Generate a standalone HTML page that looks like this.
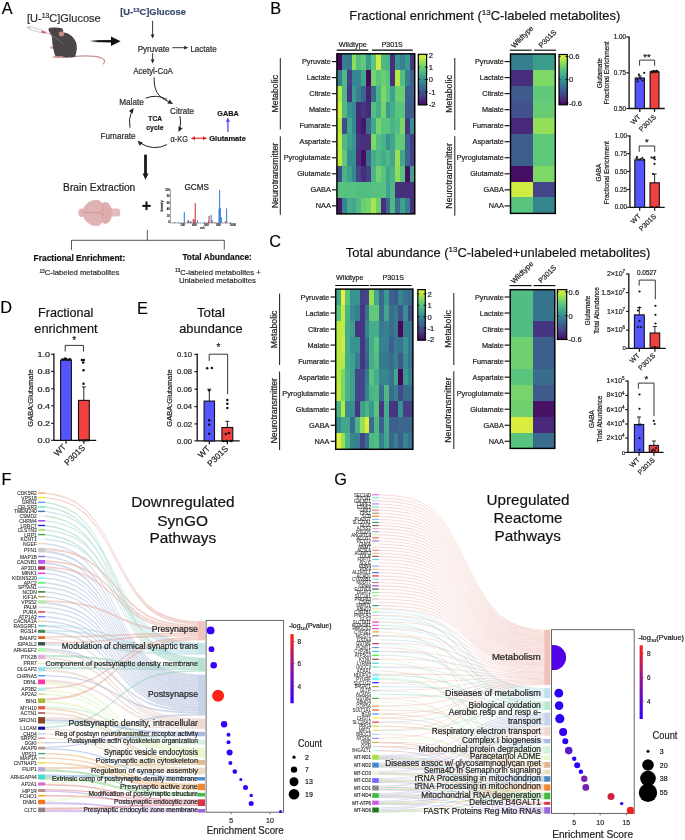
<!DOCTYPE html>
<html><head><meta charset="utf-8"><style>
html,body{margin:0;padding:0;background:#fff;}
svg{display:block;font-family:"Liberation Sans",sans-serif;will-change:transform;}
svg text{stroke:#222;stroke-width:0.2px;}
</style></head><body>
<svg width="685" height="840" viewBox="0 0 685 840">
<rect width="685" height="840" fill="#fff"/>
<text x="270.30" y="14.00" font-size="16.3" text-anchor="start" fill="#000" font-weight="normal" >B</text>
<text x="349.3" y="20.0" font-size="12.9" fill="#111" text-anchor="start" textLength="271.0" lengthAdjust="spacingAndGlyphs">Fractional enrichment (<tspan font-size="8.0" dy="-4.9">13</tspan><tspan dy="4.9">C-labeled metabolites)</tspan></text>
<rect x="336.90" y="53.80" width="5.17" height="16.31" fill="#46085c" shape-rendering="crispEdges"/>
<rect x="341.77" y="53.80" width="5.17" height="16.31" fill="#36808f" shape-rendering="crispEdges"/>
<rect x="346.63" y="53.80" width="5.17" height="16.31" fill="#367a8f" shape-rendering="crispEdges"/>
<rect x="351.50" y="53.80" width="5.17" height="16.31" fill="#8cdc5e" shape-rendering="crispEdges"/>
<rect x="356.36" y="53.80" width="5.17" height="16.31" fill="#53be81" shape-rendering="crispEdges"/>
<rect x="361.23" y="53.80" width="5.17" height="16.31" fill="#62c978" shape-rendering="crispEdges"/>
<rect x="366.09" y="53.80" width="5.17" height="16.31" fill="#3b9a8e" shape-rendering="crispEdges"/>
<rect x="370.96" y="53.80" width="5.17" height="16.31" fill="#58c47e" shape-rendering="crispEdges"/>
<rect x="375.82" y="53.80" width="5.17" height="16.31" fill="#cfec40" shape-rendering="crispEdges"/>
<rect x="380.69" y="53.80" width="5.17" height="16.31" fill="#4fb884" shape-rendering="crispEdges"/>
<rect x="385.56" y="53.80" width="5.17" height="16.31" fill="#4ab388" shape-rendering="crispEdges"/>
<rect x="390.42" y="53.80" width="5.17" height="16.31" fill="#472f7c" shape-rendering="crispEdges"/>
<rect x="395.29" y="53.80" width="5.17" height="16.31" fill="#37938f" shape-rendering="crispEdges"/>
<rect x="400.15" y="53.80" width="5.17" height="16.31" fill="#36808f" shape-rendering="crispEdges"/>
<rect x="405.02" y="53.80" width="5.17" height="16.31" fill="#3b9a8e" shape-rendering="crispEdges"/>
<rect x="409.88" y="53.80" width="5.17" height="16.31" fill="#463681" shape-rendering="crispEdges"/>
<rect x="336.90" y="69.81" width="5.17" height="16.31" fill="#36808f" shape-rendering="crispEdges"/>
<rect x="341.77" y="69.81" width="5.17" height="16.31" fill="#4fb884" shape-rendering="crispEdges"/>
<rect x="346.63" y="69.81" width="5.17" height="16.31" fill="#463e86" shape-rendering="crispEdges"/>
<rect x="351.50" y="69.81" width="5.17" height="16.31" fill="#36868f" shape-rendering="crispEdges"/>
<rect x="356.36" y="69.81" width="5.17" height="16.31" fill="#36868f" shape-rendering="crispEdges"/>
<rect x="361.23" y="69.81" width="5.17" height="16.31" fill="#42a68c" shape-rendering="crispEdges"/>
<rect x="366.09" y="69.81" width="5.17" height="16.31" fill="#46085c" shape-rendering="crispEdges"/>
<rect x="370.96" y="69.81" width="5.17" height="16.31" fill="#74d36c" shape-rendering="crispEdges"/>
<rect x="375.82" y="69.81" width="5.17" height="16.31" fill="#58c47e" shape-rendering="crispEdges"/>
<rect x="380.69" y="69.81" width="5.17" height="16.31" fill="#6bce72" shape-rendering="crispEdges"/>
<rect x="385.56" y="69.81" width="5.17" height="16.31" fill="#58c47e" shape-rendering="crispEdges"/>
<rect x="390.42" y="69.81" width="5.17" height="16.31" fill="#472f7c" shape-rendering="crispEdges"/>
<rect x="395.29" y="69.81" width="5.17" height="16.31" fill="#b5e945" shape-rendering="crispEdges"/>
<rect x="400.15" y="69.81" width="5.17" height="16.31" fill="#53be81" shape-rendering="crispEdges"/>
<rect x="405.02" y="69.81" width="5.17" height="16.31" fill="#36808f" shape-rendering="crispEdges"/>
<rect x="409.88" y="69.81" width="5.17" height="16.31" fill="#3d5f8e" shape-rendering="crispEdges"/>
<rect x="336.90" y="85.82" width="5.17" height="16.31" fill="#b5e945" shape-rendering="crispEdges"/>
<rect x="341.77" y="85.82" width="5.17" height="16.31" fill="#4fb884" shape-rendering="crispEdges"/>
<rect x="346.63" y="85.82" width="5.17" height="16.31" fill="#463681" shape-rendering="crispEdges"/>
<rect x="351.50" y="85.82" width="5.17" height="16.31" fill="#3b9a8e" shape-rendering="crispEdges"/>
<rect x="356.36" y="85.82" width="5.17" height="16.31" fill="#36808f" shape-rendering="crispEdges"/>
<rect x="361.23" y="85.82" width="5.17" height="16.31" fill="#3b668e" shape-rendering="crispEdges"/>
<rect x="366.09" y="85.82" width="5.17" height="16.31" fill="#482071" shape-rendering="crispEdges"/>
<rect x="370.96" y="85.82" width="5.17" height="16.31" fill="#3a6c8e" shape-rendering="crispEdges"/>
<rect x="375.82" y="85.82" width="5.17" height="16.31" fill="#4ab388" shape-rendering="crispEdges"/>
<rect x="380.69" y="85.82" width="5.17" height="16.31" fill="#7ed866" shape-rendering="crispEdges"/>
<rect x="385.56" y="85.82" width="5.17" height="16.31" fill="#58c47e" shape-rendering="crispEdges"/>
<rect x="390.42" y="85.82" width="5.17" height="16.31" fill="#3ea08d" shape-rendering="crispEdges"/>
<rect x="395.29" y="85.82" width="5.17" height="16.31" fill="#6bce72" shape-rendering="crispEdges"/>
<rect x="400.15" y="85.82" width="5.17" height="16.31" fill="#6bce72" shape-rendering="crispEdges"/>
<rect x="405.02" y="85.82" width="5.17" height="16.31" fill="#3d5f8e" shape-rendering="crispEdges"/>
<rect x="409.88" y="85.82" width="5.17" height="16.31" fill="#3d5f8e" shape-rendering="crispEdges"/>
<rect x="336.90" y="101.83" width="5.17" height="16.31" fill="#cfec40" shape-rendering="crispEdges"/>
<rect x="341.77" y="101.83" width="5.17" height="16.31" fill="#4fb884" shape-rendering="crispEdges"/>
<rect x="346.63" y="101.83" width="5.17" height="16.31" fill="#37938f" shape-rendering="crispEdges"/>
<rect x="351.50" y="101.83" width="5.17" height="16.31" fill="#36868f" shape-rendering="crispEdges"/>
<rect x="356.36" y="101.83" width="5.17" height="16.31" fill="#482878" shape-rendering="crispEdges"/>
<rect x="361.23" y="101.83" width="5.17" height="16.31" fill="#463681" shape-rendering="crispEdges"/>
<rect x="366.09" y="101.83" width="5.17" height="16.31" fill="#482878" shape-rendering="crispEdges"/>
<rect x="370.96" y="101.83" width="5.17" height="16.31" fill="#53be81" shape-rendering="crispEdges"/>
<rect x="375.82" y="101.83" width="5.17" height="16.31" fill="#45ad8b" shape-rendering="crispEdges"/>
<rect x="380.69" y="101.83" width="5.17" height="16.31" fill="#74d36c" shape-rendering="crispEdges"/>
<rect x="385.56" y="101.83" width="5.17" height="16.31" fill="#3b9a8e" shape-rendering="crispEdges"/>
<rect x="390.42" y="101.83" width="5.17" height="16.31" fill="#45ad8b" shape-rendering="crispEdges"/>
<rect x="395.29" y="101.83" width="5.17" height="16.31" fill="#58c47e" shape-rendering="crispEdges"/>
<rect x="400.15" y="101.83" width="5.17" height="16.31" fill="#58c47e" shape-rendering="crispEdges"/>
<rect x="405.02" y="101.83" width="5.17" height="16.31" fill="#3f588d" shape-rendering="crispEdges"/>
<rect x="409.88" y="101.83" width="5.17" height="16.31" fill="#3f588d" shape-rendering="crispEdges"/>
<rect x="336.90" y="117.84" width="5.17" height="16.31" fill="#b5e945" shape-rendering="crispEdges"/>
<rect x="341.77" y="117.84" width="5.17" height="16.31" fill="#434c8b" shape-rendering="crispEdges"/>
<rect x="346.63" y="117.84" width="5.17" height="16.31" fill="#42a68c" shape-rendering="crispEdges"/>
<rect x="351.50" y="117.84" width="5.17" height="16.31" fill="#36868f" shape-rendering="crispEdges"/>
<rect x="356.36" y="117.84" width="5.17" height="16.31" fill="#482878" shape-rendering="crispEdges"/>
<rect x="361.23" y="117.84" width="5.17" height="16.31" fill="#47186a" shape-rendering="crispEdges"/>
<rect x="366.09" y="117.84" width="5.17" height="16.31" fill="#3a6c8e" shape-rendering="crispEdges"/>
<rect x="370.96" y="117.84" width="5.17" height="16.31" fill="#42a68c" shape-rendering="crispEdges"/>
<rect x="375.82" y="117.84" width="5.17" height="16.31" fill="#74d36c" shape-rendering="crispEdges"/>
<rect x="380.69" y="117.84" width="5.17" height="16.31" fill="#58c47e" shape-rendering="crispEdges"/>
<rect x="385.56" y="117.84" width="5.17" height="16.31" fill="#58c47e" shape-rendering="crispEdges"/>
<rect x="390.42" y="117.84" width="5.17" height="16.31" fill="#4ab388" shape-rendering="crispEdges"/>
<rect x="395.29" y="117.84" width="5.17" height="16.31" fill="#53be81" shape-rendering="crispEdges"/>
<rect x="400.15" y="117.84" width="5.17" height="16.31" fill="#7ed866" shape-rendering="crispEdges"/>
<rect x="405.02" y="117.84" width="5.17" height="16.31" fill="#463681" shape-rendering="crispEdges"/>
<rect x="409.88" y="117.84" width="5.17" height="16.31" fill="#378d8f" shape-rendering="crispEdges"/>
<rect x="336.90" y="133.85" width="5.17" height="16.31" fill="#c2ea43" shape-rendering="crispEdges"/>
<rect x="341.77" y="133.85" width="5.17" height="16.31" fill="#4fb884" shape-rendering="crispEdges"/>
<rect x="346.63" y="133.85" width="5.17" height="16.31" fill="#3ea08d" shape-rendering="crispEdges"/>
<rect x="351.50" y="133.85" width="5.17" height="16.31" fill="#37938f" shape-rendering="crispEdges"/>
<rect x="356.36" y="133.85" width="5.17" height="16.31" fill="#463681" shape-rendering="crispEdges"/>
<rect x="361.23" y="133.85" width="5.17" height="16.31" fill="#472f7c" shape-rendering="crispEdges"/>
<rect x="366.09" y="133.85" width="5.17" height="16.31" fill="#472f7c" shape-rendering="crispEdges"/>
<rect x="370.96" y="133.85" width="5.17" height="16.31" fill="#7ed866" shape-rendering="crispEdges"/>
<rect x="375.82" y="133.85" width="5.17" height="16.31" fill="#53be81" shape-rendering="crispEdges"/>
<rect x="380.69" y="133.85" width="5.17" height="16.31" fill="#4ab388" shape-rendering="crispEdges"/>
<rect x="385.56" y="133.85" width="5.17" height="16.31" fill="#37938f" shape-rendering="crispEdges"/>
<rect x="390.42" y="133.85" width="5.17" height="16.31" fill="#42a68c" shape-rendering="crispEdges"/>
<rect x="395.29" y="133.85" width="5.17" height="16.31" fill="#62c978" shape-rendering="crispEdges"/>
<rect x="400.15" y="133.85" width="5.17" height="16.31" fill="#62c978" shape-rendering="crispEdges"/>
<rect x="405.02" y="133.85" width="5.17" height="16.31" fill="#3d5f8e" shape-rendering="crispEdges"/>
<rect x="409.88" y="133.85" width="5.17" height="16.31" fill="#463e86" shape-rendering="crispEdges"/>
<rect x="336.90" y="149.86" width="5.17" height="16.31" fill="#c2ea43" shape-rendering="crispEdges"/>
<rect x="341.77" y="149.86" width="5.17" height="16.31" fill="#62c978" shape-rendering="crispEdges"/>
<rect x="346.63" y="149.86" width="5.17" height="16.31" fill="#378d8f" shape-rendering="crispEdges"/>
<rect x="351.50" y="149.86" width="5.17" height="16.31" fill="#378d8f" shape-rendering="crispEdges"/>
<rect x="356.36" y="149.86" width="5.17" height="16.31" fill="#472f7c" shape-rendering="crispEdges"/>
<rect x="361.23" y="149.86" width="5.17" height="16.31" fill="#461063" shape-rendering="crispEdges"/>
<rect x="366.09" y="149.86" width="5.17" height="16.31" fill="#3a6c8e" shape-rendering="crispEdges"/>
<rect x="370.96" y="149.86" width="5.17" height="16.31" fill="#45ad8b" shape-rendering="crispEdges"/>
<rect x="375.82" y="149.86" width="5.17" height="16.31" fill="#4fb884" shape-rendering="crispEdges"/>
<rect x="380.69" y="149.86" width="5.17" height="16.31" fill="#45ad8b" shape-rendering="crispEdges"/>
<rect x="385.56" y="149.86" width="5.17" height="16.31" fill="#4fb884" shape-rendering="crispEdges"/>
<rect x="390.42" y="149.86" width="5.17" height="16.31" fill="#42a68c" shape-rendering="crispEdges"/>
<rect x="395.29" y="149.86" width="5.17" height="16.31" fill="#99e056" shape-rendering="crispEdges"/>
<rect x="400.15" y="149.86" width="5.17" height="16.31" fill="#42a68c" shape-rendering="crispEdges"/>
<rect x="405.02" y="149.86" width="5.17" height="16.31" fill="#3b668e" shape-rendering="crispEdges"/>
<rect x="409.88" y="149.86" width="5.17" height="16.31" fill="#463e86" shape-rendering="crispEdges"/>
<rect x="336.90" y="165.87" width="5.17" height="16.31" fill="#434c8b" shape-rendering="crispEdges"/>
<rect x="341.77" y="165.87" width="5.17" height="16.31" fill="#4ab388" shape-rendering="crispEdges"/>
<rect x="346.63" y="165.87" width="5.17" height="16.31" fill="#3ea08d" shape-rendering="crispEdges"/>
<rect x="351.50" y="165.87" width="5.17" height="16.31" fill="#36868f" shape-rendering="crispEdges"/>
<rect x="356.36" y="165.87" width="5.17" height="16.31" fill="#45458a" shape-rendering="crispEdges"/>
<rect x="361.23" y="165.87" width="5.17" height="16.31" fill="#472f7c" shape-rendering="crispEdges"/>
<rect x="366.09" y="165.87" width="5.17" height="16.31" fill="#463e86" shape-rendering="crispEdges"/>
<rect x="370.96" y="165.87" width="5.17" height="16.31" fill="#4ab388" shape-rendering="crispEdges"/>
<rect x="375.82" y="165.87" width="5.17" height="16.31" fill="#74d36c" shape-rendering="crispEdges"/>
<rect x="380.69" y="165.87" width="5.17" height="16.31" fill="#58c47e" shape-rendering="crispEdges"/>
<rect x="385.56" y="165.87" width="5.17" height="16.31" fill="#42a68c" shape-rendering="crispEdges"/>
<rect x="390.42" y="165.87" width="5.17" height="16.31" fill="#4ab388" shape-rendering="crispEdges"/>
<rect x="395.29" y="165.87" width="5.17" height="16.31" fill="#8cdc5e" shape-rendering="crispEdges"/>
<rect x="400.15" y="165.87" width="5.17" height="16.31" fill="#58c47e" shape-rendering="crispEdges"/>
<rect x="405.02" y="165.87" width="5.17" height="16.31" fill="#461063" shape-rendering="crispEdges"/>
<rect x="409.88" y="165.87" width="5.17" height="16.31" fill="#3ea08d" shape-rendering="crispEdges"/>
<rect x="336.90" y="181.88" width="5.17" height="16.31" fill="#56c180" shape-rendering="crispEdges"/>
<rect x="341.77" y="181.88" width="5.17" height="16.31" fill="#56c180" shape-rendering="crispEdges"/>
<rect x="346.63" y="181.88" width="5.17" height="16.31" fill="#56c180" shape-rendering="crispEdges"/>
<rect x="351.50" y="181.88" width="5.17" height="16.31" fill="#56c180" shape-rendering="crispEdges"/>
<rect x="356.36" y="181.88" width="5.17" height="16.31" fill="#53be81" shape-rendering="crispEdges"/>
<rect x="361.23" y="181.88" width="5.17" height="16.31" fill="#53be81" shape-rendering="crispEdges"/>
<rect x="366.09" y="181.88" width="5.17" height="16.31" fill="#53be81" shape-rendering="crispEdges"/>
<rect x="370.96" y="181.88" width="5.17" height="16.31" fill="#56c180" shape-rendering="crispEdges"/>
<rect x="375.82" y="181.88" width="5.17" height="16.31" fill="#56c180" shape-rendering="crispEdges"/>
<rect x="380.69" y="181.88" width="5.17" height="16.31" fill="#56c180" shape-rendering="crispEdges"/>
<rect x="385.56" y="181.88" width="5.17" height="16.31" fill="#3ea08d" shape-rendering="crispEdges"/>
<rect x="390.42" y="181.88" width="5.17" height="16.31" fill="#4fb884" shape-rendering="crispEdges"/>
<rect x="395.29" y="181.88" width="5.17" height="16.31" fill="#472f7c" shape-rendering="crispEdges"/>
<rect x="400.15" y="181.88" width="5.17" height="16.31" fill="#472f7c" shape-rendering="crispEdges"/>
<rect x="405.02" y="181.88" width="5.17" height="16.31" fill="#472f7c" shape-rendering="crispEdges"/>
<rect x="409.88" y="181.88" width="5.17" height="16.31" fill="#472f7c" shape-rendering="crispEdges"/>
<rect x="336.90" y="197.89" width="5.17" height="16.31" fill="#47186a" shape-rendering="crispEdges"/>
<rect x="341.77" y="197.89" width="5.17" height="16.31" fill="#36868f" shape-rendering="crispEdges"/>
<rect x="346.63" y="197.89" width="5.17" height="16.31" fill="#45ad8b" shape-rendering="crispEdges"/>
<rect x="351.50" y="197.89" width="5.17" height="16.31" fill="#42a68c" shape-rendering="crispEdges"/>
<rect x="356.36" y="197.89" width="5.17" height="16.31" fill="#4fb884" shape-rendering="crispEdges"/>
<rect x="361.23" y="197.89" width="5.17" height="16.31" fill="#6bce72" shape-rendering="crispEdges"/>
<rect x="366.09" y="197.89" width="5.17" height="16.31" fill="#74d36c" shape-rendering="crispEdges"/>
<rect x="370.96" y="197.89" width="5.17" height="16.31" fill="#a7e54d" shape-rendering="crispEdges"/>
<rect x="375.82" y="197.89" width="5.17" height="16.31" fill="#6bce72" shape-rendering="crispEdges"/>
<rect x="380.69" y="197.89" width="5.17" height="16.31" fill="#472f7c" shape-rendering="crispEdges"/>
<rect x="385.56" y="197.89" width="5.17" height="16.31" fill="#3b668e" shape-rendering="crispEdges"/>
<rect x="390.42" y="197.89" width="5.17" height="16.31" fill="#4fb884" shape-rendering="crispEdges"/>
<rect x="395.29" y="197.89" width="5.17" height="16.31" fill="#3a6c8e" shape-rendering="crispEdges"/>
<rect x="400.15" y="197.89" width="5.17" height="16.31" fill="#3ea08d" shape-rendering="crispEdges"/>
<rect x="405.02" y="197.89" width="5.17" height="16.31" fill="#36808f" shape-rendering="crispEdges"/>
<rect x="409.88" y="197.89" width="5.17" height="16.31" fill="#472f7c" shape-rendering="crispEdges"/>
<rect x="336.90" y="53.80" width="77.85" height="160.10" fill="none" stroke="#000" stroke-width="1.45"/>
<text x="330.80" y="64.20" font-size="7.3" text-anchor="end" fill="#222" font-weight="normal" >Pyruvate</text>
<line x1="332.0" y1="61.60" x2="336.6" y2="61.60" stroke="#000" stroke-width="1.1"/>
<text x="330.80" y="80.23" font-size="7.3" text-anchor="end" fill="#222" font-weight="normal" >Lactate</text>
<line x1="332.0" y1="77.63" x2="336.6" y2="77.63" stroke="#000" stroke-width="1.1"/>
<text x="330.80" y="96.26" font-size="7.3" text-anchor="end" fill="#222" font-weight="normal" >Citrate</text>
<line x1="332.0" y1="93.66" x2="336.6" y2="93.66" stroke="#000" stroke-width="1.1"/>
<text x="330.80" y="112.29" font-size="7.3" text-anchor="end" fill="#222" font-weight="normal" >Malate</text>
<line x1="332.0" y1="109.69" x2="336.6" y2="109.69" stroke="#000" stroke-width="1.1"/>
<text x="330.80" y="128.32" font-size="7.3" text-anchor="end" fill="#222" font-weight="normal" >Fumarate</text>
<line x1="332.0" y1="125.72" x2="336.6" y2="125.72" stroke="#000" stroke-width="1.1"/>
<text x="330.80" y="144.35" font-size="7.3" text-anchor="end" fill="#222" font-weight="normal" >Aspartate</text>
<line x1="332.0" y1="141.75" x2="336.6" y2="141.75" stroke="#000" stroke-width="1.1"/>
<text x="330.80" y="160.38" font-size="7.3" text-anchor="end" fill="#222" font-weight="normal" >Pyroglutamate</text>
<line x1="332.0" y1="157.78" x2="336.6" y2="157.78" stroke="#000" stroke-width="1.1"/>
<text x="330.80" y="176.41" font-size="7.3" text-anchor="end" fill="#222" font-weight="normal" >Glutamate</text>
<line x1="332.0" y1="173.81" x2="336.6" y2="173.81" stroke="#000" stroke-width="1.1"/>
<text x="330.80" y="192.44" font-size="7.3" text-anchor="end" fill="#222" font-weight="normal" >GABA</text>
<line x1="332.0" y1="189.84" x2="336.6" y2="189.84" stroke="#000" stroke-width="1.1"/>
<text x="330.80" y="208.47" font-size="7.3" text-anchor="end" fill="#222" font-weight="normal" >NAA</text>
<line x1="332.0" y1="205.87" x2="336.6" y2="205.87" stroke="#000" stroke-width="1.1"/>
<line x1="280.3" y1="58.1" x2="280.3" y2="129.4" stroke="#000" stroke-width="0.9"/>
<line x1="280.3" y1="136.3" x2="280.3" y2="214.8" stroke="#000" stroke-width="0.9"/>
<text transform="translate(277.8,93.75) rotate(-90)" font-size="8.8" text-anchor="middle" fill="#222">Metabolic</text>
<text transform="translate(277.8,175.55) rotate(-90)" font-size="8.8" text-anchor="middle" fill="#222">Neurotransmitter</text>
<text x="338.80" y="46.60" font-size="7.3" text-anchor="start" fill="#222" font-weight="normal" textLength="28.0" lengthAdjust="spacingAndGlyphs" >Wildtype</text>
<text x="381.70" y="46.60" font-size="7.3" text-anchor="start" fill="#222" font-weight="normal" textLength="21.0" lengthAdjust="spacingAndGlyphs" >P301S</text>
<line x1="336.7" y1="50.1" x2="368.2" y2="50.1" stroke="#000" stroke-width="1.1"/>
<line x1="372" y1="50.1" x2="412.7" y2="50.1" stroke="#000" stroke-width="1.1"/>
<defs><linearGradient id="cb41854" x1="0" y1="1" x2="0" y2="0"><stop offset="0" stop-color="#46085c"/><stop offset="0.1" stop-color="#482878"/><stop offset="0.2" stop-color="#45458a"/><stop offset="0.3" stop-color="#3d5f8e"/><stop offset="0.4" stop-color="#367a8f"/><stop offset="0.5" stop-color="#37938f"/><stop offset="0.6" stop-color="#45ad8b"/><stop offset="0.7" stop-color="#58c47e"/><stop offset="0.8" stop-color="#7ed866"/><stop offset="0.9" stop-color="#b5e945"/><stop offset="1" stop-color="#eaef3c"/></linearGradient></defs>
<rect x="418.3" y="54.3" width="8.300000000000011" height="50.60000000000001" fill="url(#cb41854)" stroke="#000" stroke-width="1.2"/>
<line x1="424.8" y1="54.7" x2="427.8" y2="54.7" stroke="#000" stroke-width="0.9"/>
<line x1="418.3" y1="54.7" x2="419.8" y2="54.7" stroke="#000" stroke-width="0.9"/>
<text x="428.80" y="57.50" font-size="7.6" text-anchor="start" fill="#222" font-weight="normal" >2</text>
<line x1="424.8" y1="67.1" x2="427.8" y2="67.1" stroke="#000" stroke-width="0.9"/>
<line x1="418.3" y1="67.1" x2="419.8" y2="67.1" stroke="#000" stroke-width="0.9"/>
<text x="428.80" y="69.90" font-size="7.6" text-anchor="start" fill="#222" font-weight="normal" >1</text>
<line x1="424.8" y1="79.5" x2="427.8" y2="79.5" stroke="#000" stroke-width="0.9"/>
<line x1="418.3" y1="79.5" x2="419.8" y2="79.5" stroke="#000" stroke-width="0.9"/>
<text x="428.80" y="82.30" font-size="7.6" text-anchor="start" fill="#222" font-weight="normal" >0</text>
<line x1="424.8" y1="91.9" x2="427.8" y2="91.9" stroke="#000" stroke-width="0.9"/>
<line x1="418.3" y1="91.9" x2="419.8" y2="91.9" stroke="#000" stroke-width="0.9"/>
<text x="428.80" y="94.70" font-size="7.6" text-anchor="start" fill="#222" font-weight="normal" >-1</text>
<line x1="424.8" y1="104.3" x2="427.8" y2="104.3" stroke="#000" stroke-width="0.9"/>
<line x1="418.3" y1="104.3" x2="419.8" y2="104.3" stroke="#000" stroke-width="0.9"/>
<text x="428.80" y="107.10" font-size="7.6" text-anchor="start" fill="#222" font-weight="normal" >-2</text>
<rect x="510.50" y="54.00" width="22.70" height="16.24" fill="#367f8f" shape-rendering="crispEdges"/>
<rect x="532.90" y="54.00" width="22.70" height="16.24" fill="#3d9d8d" shape-rendering="crispEdges"/>
<rect x="510.50" y="69.94" width="22.70" height="16.24" fill="#472e7c" shape-rendering="crispEdges"/>
<rect x="532.90" y="69.94" width="22.70" height="16.24" fill="#7ed866" shape-rendering="crispEdges"/>
<rect x="510.50" y="85.88" width="22.70" height="16.24" fill="#3f5a8d" shape-rendering="crispEdges"/>
<rect x="532.90" y="85.88" width="22.70" height="16.24" fill="#60c879" shape-rendering="crispEdges"/>
<rect x="510.50" y="101.82" width="22.70" height="16.24" fill="#41528c" shape-rendering="crispEdges"/>
<rect x="532.90" y="101.82" width="22.70" height="16.24" fill="#67cc74" shape-rendering="crispEdges"/>
<rect x="510.50" y="117.76" width="22.70" height="16.24" fill="#482878" shape-rendering="crispEdges"/>
<rect x="532.90" y="117.76" width="22.70" height="16.24" fill="#94df59" shape-rendering="crispEdges"/>
<rect x="510.50" y="133.70" width="22.70" height="16.24" fill="#3d5f8e" shape-rendering="crispEdges"/>
<rect x="532.90" y="133.70" width="22.70" height="16.24" fill="#60c879" shape-rendering="crispEdges"/>
<rect x="510.50" y="149.64" width="22.70" height="16.24" fill="#3d5f8e" shape-rendering="crispEdges"/>
<rect x="532.90" y="149.64" width="22.70" height="16.24" fill="#60c879" shape-rendering="crispEdges"/>
<rect x="510.50" y="165.58" width="22.70" height="16.24" fill="#460e62" shape-rendering="crispEdges"/>
<rect x="532.90" y="165.58" width="22.70" height="16.24" fill="#7ed866" shape-rendering="crispEdges"/>
<rect x="510.50" y="181.52" width="22.70" height="16.24" fill="#cfec40" shape-rendering="crispEdges"/>
<rect x="532.90" y="181.52" width="22.70" height="16.24" fill="#45458a" shape-rendering="crispEdges"/>
<rect x="510.50" y="197.46" width="22.70" height="16.24" fill="#58c47e" shape-rendering="crispEdges"/>
<rect x="532.90" y="197.46" width="22.70" height="16.24" fill="#36868f" shape-rendering="crispEdges"/>
<rect x="510.50" y="54.00" width="44.80" height="159.40" fill="none" stroke="#000" stroke-width="1.45"/>
<text x="503.80" y="64.20" font-size="7.3" text-anchor="end" fill="#222" font-weight="normal" >Pyruvate</text>
<line x1="504.6" y1="61.60" x2="509.8" y2="61.60" stroke="#000" stroke-width="1.1"/>
<text x="503.80" y="80.23" font-size="7.3" text-anchor="end" fill="#222" font-weight="normal" >Lactate</text>
<line x1="504.6" y1="77.63" x2="509.8" y2="77.63" stroke="#000" stroke-width="1.1"/>
<text x="503.80" y="96.26" font-size="7.3" text-anchor="end" fill="#222" font-weight="normal" >Citrate</text>
<line x1="504.6" y1="93.66" x2="509.8" y2="93.66" stroke="#000" stroke-width="1.1"/>
<text x="503.80" y="112.29" font-size="7.3" text-anchor="end" fill="#222" font-weight="normal" >Malate</text>
<line x1="504.6" y1="109.69" x2="509.8" y2="109.69" stroke="#000" stroke-width="1.1"/>
<text x="503.80" y="128.32" font-size="7.3" text-anchor="end" fill="#222" font-weight="normal" >Fumarate</text>
<line x1="504.6" y1="125.72" x2="509.8" y2="125.72" stroke="#000" stroke-width="1.1"/>
<text x="503.80" y="144.35" font-size="7.3" text-anchor="end" fill="#222" font-weight="normal" >Aspartate</text>
<line x1="504.6" y1="141.75" x2="509.8" y2="141.75" stroke="#000" stroke-width="1.1"/>
<text x="503.80" y="160.38" font-size="7.3" text-anchor="end" fill="#222" font-weight="normal" >Pyroglutamate</text>
<line x1="504.6" y1="157.78" x2="509.8" y2="157.78" stroke="#000" stroke-width="1.1"/>
<text x="503.80" y="176.41" font-size="7.3" text-anchor="end" fill="#222" font-weight="normal" >Glutamate</text>
<line x1="504.6" y1="173.81" x2="509.8" y2="173.81" stroke="#000" stroke-width="1.1"/>
<text x="503.80" y="192.44" font-size="7.3" text-anchor="end" fill="#222" font-weight="normal" >GABA</text>
<line x1="504.6" y1="189.84" x2="509.8" y2="189.84" stroke="#000" stroke-width="1.1"/>
<text x="503.80" y="208.47" font-size="7.3" text-anchor="end" fill="#222" font-weight="normal" >NAA</text>
<line x1="504.6" y1="205.87" x2="509.8" y2="205.87" stroke="#000" stroke-width="1.1"/>
<line x1="454.8" y1="58.0" x2="454.8" y2="130.0" stroke="#000" stroke-width="0.9"/>
<line x1="454.8" y1="136.2" x2="454.8" y2="215.7" stroke="#000" stroke-width="0.9"/>
<text transform="translate(451.9,94.0) rotate(-90)" font-size="8.8" text-anchor="middle" fill="#222">Metabolic</text>
<text transform="translate(451.9,175.95) rotate(-90)" font-size="8.8" text-anchor="middle" fill="#222">Neurotransmitter</text>
<text transform="translate(514.2,48.4) rotate(-45)" font-size="7.3" text-anchor="start" fill="#222">Wildtype</text>
<text transform="translate(541.4,48.2) rotate(-45)" font-size="7.3" text-anchor="start" fill="#222">P301S</text>
<line x1="509.8" y1="50.2" x2="531.7" y2="50.2" stroke="#000" stroke-width="1.1"/>
<line x1="534" y1="50.2" x2="556" y2="50.2" stroke="#000" stroke-width="1.1"/>
<defs><linearGradient id="cb55954" x1="0" y1="1" x2="0" y2="0"><stop offset="0" stop-color="#46085c"/><stop offset="0.1" stop-color="#482878"/><stop offset="0.2" stop-color="#45458a"/><stop offset="0.3" stop-color="#3d5f8e"/><stop offset="0.4" stop-color="#367a8f"/><stop offset="0.5" stop-color="#37938f"/><stop offset="0.6" stop-color="#45ad8b"/><stop offset="0.7" stop-color="#58c47e"/><stop offset="0.8" stop-color="#7ed866"/><stop offset="0.9" stop-color="#b5e945"/><stop offset="1" stop-color="#eaef3c"/></linearGradient></defs>
<rect x="559.0" y="54.5" width="8.299999999999955" height="50.3" fill="url(#cb55954)" stroke="#000" stroke-width="1.2"/>
<line x1="565.5" y1="56.5" x2="568.5" y2="56.5" stroke="#000" stroke-width="0.9"/>
<line x1="559.0" y1="56.5" x2="560.5" y2="56.5" stroke="#000" stroke-width="0.9"/>
<text x="568.90" y="59.30" font-size="7.6" text-anchor="start" fill="#222" font-weight="normal" >0.6</text>
<line x1="565.5" y1="79.6" x2="568.5" y2="79.6" stroke="#000" stroke-width="0.9"/>
<line x1="559.0" y1="79.6" x2="560.5" y2="79.6" stroke="#000" stroke-width="0.9"/>
<text x="568.90" y="82.40" font-size="7.6" text-anchor="start" fill="#222" font-weight="normal" >0</text>
<line x1="565.5" y1="102.8" x2="568.5" y2="102.8" stroke="#000" stroke-width="0.9"/>
<line x1="559.0" y1="102.8" x2="560.5" y2="102.8" stroke="#000" stroke-width="0.9"/>
<text x="568.90" y="105.60" font-size="7.6" text-anchor="start" fill="#222" font-weight="normal" >-0.6</text>
<line x1="629.1" y1="36.6" x2="629.1" y2="108.5" stroke="#111" stroke-width="1.3"/>
<line x1="629.1" y1="108.5" x2="664.8" y2="108.5" stroke="#111" stroke-width="1.3"/>
<line x1="626.3000000000001" y1="37.0" x2="629.1" y2="37.0" stroke="#111" stroke-width="1.1"/>
<text x="626.10" y="39.10" font-size="6.3" text-anchor="end" fill="#222" font-weight="normal" >1.00</text>
<line x1="626.3000000000001" y1="72.8" x2="629.1" y2="72.8" stroke="#111" stroke-width="1.1"/>
<text x="626.10" y="74.90" font-size="6.3" text-anchor="end" fill="#222" font-weight="normal" >0.75</text>
<line x1="626.3000000000001" y1="108.5" x2="629.1" y2="108.5" stroke="#111" stroke-width="1.1"/>
<text x="626.10" y="110.60" font-size="6.3" text-anchor="end" fill="#222" font-weight="normal" >0.50</text>
<rect x="635.2" y="78.0" width="9.199999999999932" height="30.5" fill="#5555ff" stroke="#111" stroke-width="1.1"/>
<line x1="639.8" y1="108.5" x2="639.8" y2="111.9" stroke="#111" stroke-width="1.2"/>
<rect x="650.1" y="71.9" width="8.899999999999977" height="36.599999999999994" fill="#f04040" stroke="#111" stroke-width="1.1"/>
<line x1="654.55" y1="108.5" x2="654.55" y2="111.9" stroke="#111" stroke-width="1.2"/>
<line x1="639.8" y1="78" x2="639.8" y2="76.0" stroke="#111" stroke-width="0.9"/>
<line x1="637.8" y1="76.0" x2="641.8" y2="76.0" stroke="#111" stroke-width="0.9"/>
<line x1="654.5" y1="71.9" x2="654.5" y2="70.8" stroke="#111" stroke-width="0.9"/>
<line x1="652.5" y1="70.8" x2="656.5" y2="70.8" stroke="#111" stroke-width="0.9"/>
<circle cx="637.5" cy="79.5" r="1.1" fill="#111"/>
<circle cx="639.0" cy="74.6" r="1.1" fill="#111"/>
<circle cx="644.2" cy="72.8" r="1.1" fill="#111"/>
<circle cx="640.5" cy="78.6" r="1.1" fill="#111"/>
<circle cx="637.8" cy="81.5" r="1.1" fill="#111"/>
<circle cx="642.5" cy="80.5" r="1.1" fill="#111"/>
<circle cx="651.5" cy="71.5" r="1.1" fill="#111"/>
<circle cx="653.5" cy="71.0" r="1.1" fill="#111"/>
<circle cx="655.5" cy="72.0" r="1.1" fill="#111"/>
<circle cx="657.5" cy="71.3" r="1.1" fill="#111"/>
<circle cx="652.5" cy="72.5" r="1.1" fill="#111"/>
<circle cx="656.5" cy="70.8" r="1.1" fill="#111"/>
<path d="M639.6 65.7 L639.6 60.1 L654.6 60.1 L654.6 65.7" fill="none" stroke="#222" stroke-width="0.9"/>
<text x="647.00" y="59.60" font-size="9.5" text-anchor="middle" fill="#111" font-weight="normal" >**</text>
<text transform="translate(601.9,73.2) rotate(-90)" font-size="6.4" text-anchor="middle" fill="#222" textLength="30.3" lengthAdjust="spacingAndGlyphs">Glutamate</text>
<text transform="translate(609.0,72.9) rotate(-90)" font-size="6.3" text-anchor="middle" fill="#222" textLength="63.1" lengthAdjust="spacingAndGlyphs">Fractional  Enrichment</text>
<text transform="translate(641.0,117.3) rotate(-45)" font-size="6.9" text-anchor="end" fill="#222">WT</text>
<text transform="translate(656.4,117.4) rotate(-45)" font-size="6.9" text-anchor="end" fill="#222">P301S</text>
<line x1="629.9" y1="135.6" x2="629.9" y2="207.3" stroke="#111" stroke-width="1.3"/>
<line x1="629.9" y1="207.3" x2="664.7" y2="207.3" stroke="#111" stroke-width="1.3"/>
<line x1="627.1" y1="135.9" x2="629.9" y2="135.9" stroke="#111" stroke-width="1.1"/>
<text x="626.90" y="138.00" font-size="6.3" text-anchor="end" fill="#222" font-weight="normal" >1.00</text>
<line x1="627.1" y1="153.7" x2="629.9" y2="153.7" stroke="#111" stroke-width="1.1"/>
<text x="626.90" y="155.80" font-size="6.3" text-anchor="end" fill="#222" font-weight="normal" >0.75</text>
<line x1="627.1" y1="171.5" x2="629.9" y2="171.5" stroke="#111" stroke-width="1.1"/>
<text x="626.90" y="173.60" font-size="6.3" text-anchor="end" fill="#222" font-weight="normal" >0.50</text>
<line x1="627.1" y1="189.5" x2="629.9" y2="189.5" stroke="#111" stroke-width="1.1"/>
<text x="626.90" y="191.60" font-size="6.3" text-anchor="end" fill="#222" font-weight="normal" >0.25</text>
<line x1="627.1" y1="207.3" x2="629.9" y2="207.3" stroke="#111" stroke-width="1.1"/>
<text x="626.90" y="209.40" font-size="6.3" text-anchor="end" fill="#222" font-weight="normal" >0.00</text>
<rect x="634.8" y="159.9" width="9.800000000000068" height="47.400000000000006" fill="#5555ff" stroke="#111" stroke-width="1.1"/>
<line x1="639.7" y1="207.3" x2="639.7" y2="210.70000000000002" stroke="#111" stroke-width="1.2"/>
<rect x="650.0" y="182.8" width="9.299999999999955" height="24.5" fill="#f04040" stroke="#111" stroke-width="1.1"/>
<line x1="654.65" y1="207.3" x2="654.65" y2="210.70000000000002" stroke="#111" stroke-width="1.2"/>
<line x1="654.6" y1="182.8" x2="654.6" y2="174.0" stroke="#111" stroke-width="0.9"/>
<line x1="652.6" y1="174.0" x2="656.6" y2="174.0" stroke="#111" stroke-width="0.9"/>
<circle cx="636.5" cy="158.5" r="1.1" fill="#111"/>
<circle cx="638.5" cy="159.5" r="1.1" fill="#111"/>
<circle cx="640.5" cy="159.0" r="1.1" fill="#111"/>
<circle cx="642.5" cy="158.0" r="1.1" fill="#111"/>
<circle cx="644.0" cy="159.8" r="1.1" fill="#111"/>
<circle cx="637.0" cy="157.0" r="1.1" fill="#111"/>
<circle cx="651.5" cy="157.5" r="1.1" fill="#111"/>
<circle cx="653.5" cy="158.0" r="1.1" fill="#111"/>
<circle cx="654.5" cy="163.8" r="1.1" fill="#111"/>
<circle cx="654.5" cy="157.0" r="1.1" fill="#111"/>
<circle cx="653.0" cy="174.0" r="1.1" fill="#111"/>
<circle cx="651.8" cy="207.0" r="1.1" fill="#111"/>
<circle cx="656.5" cy="207.0" r="1.1" fill="#111"/>
<circle cx="654.8" cy="159.3" r="1.1" fill="#111"/>
<path d="M639.2 151.9 L639.2 146.0 L654.7 146.0 L654.7 151.9" fill="none" stroke="#222" stroke-width="0.9"/>
<text x="646.90" y="144.60" font-size="9.5" text-anchor="middle" fill="#111" font-weight="normal" >*</text>
<text transform="translate(601.3,172.7) rotate(-90)" font-size="6.4" text-anchor="middle" fill="#222">GABA</text>
<text transform="translate(608.9,172.7) rotate(-90)" font-size="6.3" text-anchor="middle" fill="#222" textLength="63.1" lengthAdjust="spacingAndGlyphs">Fractional Enrichment</text>
<text transform="translate(641.2,216.6) rotate(-45)" font-size="6.9" text-anchor="end" fill="#222">WT</text>
<text transform="translate(656.4,216.8) rotate(-45)" font-size="6.9" text-anchor="end" fill="#222">P301S</text>
<text x="269.30" y="246.60" font-size="16.3" text-anchor="start" fill="#000" font-weight="normal" >C</text>
<text x="345.8" y="256.8" font-size="12.9" fill="#111" text-anchor="start" textLength="304.6" lengthAdjust="spacingAndGlyphs">Total abundance (<tspan font-size="8.0" dy="-4.9">13</tspan><tspan dy="4.9">C-labeled+unlabeled metabolites)</tspan></text>
<rect x="335.70" y="289.10" width="5.12" height="16.32" fill="#42a68c" shape-rendering="crispEdges"/>
<rect x="340.52" y="289.10" width="5.12" height="16.32" fill="#eaef3c" shape-rendering="crispEdges"/>
<rect x="345.35" y="289.10" width="5.12" height="16.32" fill="#58c47e" shape-rendering="crispEdges"/>
<rect x="350.18" y="289.10" width="5.12" height="16.32" fill="#37938f" shape-rendering="crispEdges"/>
<rect x="355.00" y="289.10" width="5.12" height="16.32" fill="#37938f" shape-rendering="crispEdges"/>
<rect x="359.82" y="289.10" width="5.12" height="16.32" fill="#463e86" shape-rendering="crispEdges"/>
<rect x="364.65" y="289.10" width="5.12" height="16.32" fill="#45458a" shape-rendering="crispEdges"/>
<rect x="369.47" y="289.10" width="5.12" height="16.32" fill="#99e056" shape-rendering="crispEdges"/>
<rect x="374.30" y="289.10" width="5.12" height="16.32" fill="#42a68c" shape-rendering="crispEdges"/>
<rect x="379.12" y="289.10" width="5.12" height="16.32" fill="#3b668e" shape-rendering="crispEdges"/>
<rect x="383.95" y="289.10" width="5.12" height="16.32" fill="#3b9a8e" shape-rendering="crispEdges"/>
<rect x="388.77" y="289.10" width="5.12" height="16.32" fill="#3d5f8e" shape-rendering="crispEdges"/>
<rect x="393.60" y="289.10" width="5.12" height="16.32" fill="#3f588d" shape-rendering="crispEdges"/>
<rect x="398.42" y="289.10" width="5.12" height="16.32" fill="#36868f" shape-rendering="crispEdges"/>
<rect x="403.25" y="289.10" width="5.12" height="16.32" fill="#38738f" shape-rendering="crispEdges"/>
<rect x="408.07" y="289.10" width="5.12" height="16.32" fill="#3a6c8e" shape-rendering="crispEdges"/>
<rect x="335.70" y="305.12" width="5.12" height="16.32" fill="#58c47e" shape-rendering="crispEdges"/>
<rect x="340.52" y="305.12" width="5.12" height="16.32" fill="#c2ea43" shape-rendering="crispEdges"/>
<rect x="345.35" y="305.12" width="5.12" height="16.32" fill="#4ab388" shape-rendering="crispEdges"/>
<rect x="350.18" y="305.12" width="5.12" height="16.32" fill="#378d8f" shape-rendering="crispEdges"/>
<rect x="355.00" y="305.12" width="5.12" height="16.32" fill="#36808f" shape-rendering="crispEdges"/>
<rect x="359.82" y="305.12" width="5.12" height="16.32" fill="#463681" shape-rendering="crispEdges"/>
<rect x="364.65" y="305.12" width="5.12" height="16.32" fill="#38738f" shape-rendering="crispEdges"/>
<rect x="369.47" y="305.12" width="5.12" height="16.32" fill="#62c978" shape-rendering="crispEdges"/>
<rect x="374.30" y="305.12" width="5.12" height="16.32" fill="#62c978" shape-rendering="crispEdges"/>
<rect x="379.12" y="305.12" width="5.12" height="16.32" fill="#3a6c8e" shape-rendering="crispEdges"/>
<rect x="383.95" y="305.12" width="5.12" height="16.32" fill="#42a68c" shape-rendering="crispEdges"/>
<rect x="388.77" y="305.12" width="5.12" height="16.32" fill="#3a6c8e" shape-rendering="crispEdges"/>
<rect x="393.60" y="305.12" width="5.12" height="16.32" fill="#367a8f" shape-rendering="crispEdges"/>
<rect x="398.42" y="305.12" width="5.12" height="16.32" fill="#41528c" shape-rendering="crispEdges"/>
<rect x="403.25" y="305.12" width="5.12" height="16.32" fill="#378d8f" shape-rendering="crispEdges"/>
<rect x="408.07" y="305.12" width="5.12" height="16.32" fill="#434c8b" shape-rendering="crispEdges"/>
<rect x="335.70" y="321.14" width="5.12" height="16.32" fill="#b5e945" shape-rendering="crispEdges"/>
<rect x="340.52" y="321.14" width="5.12" height="16.32" fill="#c2ea43" shape-rendering="crispEdges"/>
<rect x="345.35" y="321.14" width="5.12" height="16.32" fill="#45ad8b" shape-rendering="crispEdges"/>
<rect x="350.18" y="321.14" width="5.12" height="16.32" fill="#3ea08d" shape-rendering="crispEdges"/>
<rect x="355.00" y="321.14" width="5.12" height="16.32" fill="#463681" shape-rendering="crispEdges"/>
<rect x="359.82" y="321.14" width="5.12" height="16.32" fill="#463681" shape-rendering="crispEdges"/>
<rect x="364.65" y="321.14" width="5.12" height="16.32" fill="#36868f" shape-rendering="crispEdges"/>
<rect x="369.47" y="321.14" width="5.12" height="16.32" fill="#45ad8b" shape-rendering="crispEdges"/>
<rect x="374.30" y="321.14" width="5.12" height="16.32" fill="#45ad8b" shape-rendering="crispEdges"/>
<rect x="379.12" y="321.14" width="5.12" height="16.32" fill="#367a8f" shape-rendering="crispEdges"/>
<rect x="383.95" y="321.14" width="5.12" height="16.32" fill="#36808f" shape-rendering="crispEdges"/>
<rect x="388.77" y="321.14" width="5.12" height="16.32" fill="#3a6c8e" shape-rendering="crispEdges"/>
<rect x="393.60" y="321.14" width="5.12" height="16.32" fill="#367a8f" shape-rendering="crispEdges"/>
<rect x="398.42" y="321.14" width="5.12" height="16.32" fill="#46085c" shape-rendering="crispEdges"/>
<rect x="403.25" y="321.14" width="5.12" height="16.32" fill="#367a8f" shape-rendering="crispEdges"/>
<rect x="408.07" y="321.14" width="5.12" height="16.32" fill="#367a8f" shape-rendering="crispEdges"/>
<rect x="335.70" y="337.16" width="5.12" height="16.32" fill="#b5e945" shape-rendering="crispEdges"/>
<rect x="340.52" y="337.16" width="5.12" height="16.32" fill="#cfec40" shape-rendering="crispEdges"/>
<rect x="345.35" y="337.16" width="5.12" height="16.32" fill="#45ad8b" shape-rendering="crispEdges"/>
<rect x="350.18" y="337.16" width="5.12" height="16.32" fill="#37938f" shape-rendering="crispEdges"/>
<rect x="355.00" y="337.16" width="5.12" height="16.32" fill="#37938f" shape-rendering="crispEdges"/>
<rect x="359.82" y="337.16" width="5.12" height="16.32" fill="#463681" shape-rendering="crispEdges"/>
<rect x="364.65" y="337.16" width="5.12" height="16.32" fill="#3a6c8e" shape-rendering="crispEdges"/>
<rect x="369.47" y="337.16" width="5.12" height="16.32" fill="#45ad8b" shape-rendering="crispEdges"/>
<rect x="374.30" y="337.16" width="5.12" height="16.32" fill="#58c47e" shape-rendering="crispEdges"/>
<rect x="379.12" y="337.16" width="5.12" height="16.32" fill="#36808f" shape-rendering="crispEdges"/>
<rect x="383.95" y="337.16" width="5.12" height="16.32" fill="#36808f" shape-rendering="crispEdges"/>
<rect x="388.77" y="337.16" width="5.12" height="16.32" fill="#3d5f8e" shape-rendering="crispEdges"/>
<rect x="393.60" y="337.16" width="5.12" height="16.32" fill="#367a8f" shape-rendering="crispEdges"/>
<rect x="398.42" y="337.16" width="5.12" height="16.32" fill="#38738f" shape-rendering="crispEdges"/>
<rect x="403.25" y="337.16" width="5.12" height="16.32" fill="#37938f" shape-rendering="crispEdges"/>
<rect x="408.07" y="337.16" width="5.12" height="16.32" fill="#367a8f" shape-rendering="crispEdges"/>
<rect x="335.70" y="353.18" width="5.12" height="16.32" fill="#b5e945" shape-rendering="crispEdges"/>
<rect x="340.52" y="353.18" width="5.12" height="16.32" fill="#b5e945" shape-rendering="crispEdges"/>
<rect x="345.35" y="353.18" width="5.12" height="16.32" fill="#45ad8b" shape-rendering="crispEdges"/>
<rect x="350.18" y="353.18" width="5.12" height="16.32" fill="#3ea08d" shape-rendering="crispEdges"/>
<rect x="355.00" y="353.18" width="5.12" height="16.32" fill="#36808f" shape-rendering="crispEdges"/>
<rect x="359.82" y="353.18" width="5.12" height="16.32" fill="#463681" shape-rendering="crispEdges"/>
<rect x="364.65" y="353.18" width="5.12" height="16.32" fill="#3d5f8e" shape-rendering="crispEdges"/>
<rect x="369.47" y="353.18" width="5.12" height="16.32" fill="#45ad8b" shape-rendering="crispEdges"/>
<rect x="374.30" y="353.18" width="5.12" height="16.32" fill="#53be81" shape-rendering="crispEdges"/>
<rect x="379.12" y="353.18" width="5.12" height="16.32" fill="#367a8f" shape-rendering="crispEdges"/>
<rect x="383.95" y="353.18" width="5.12" height="16.32" fill="#367a8f" shape-rendering="crispEdges"/>
<rect x="388.77" y="353.18" width="5.12" height="16.32" fill="#3a6c8e" shape-rendering="crispEdges"/>
<rect x="393.60" y="353.18" width="5.12" height="16.32" fill="#36808f" shape-rendering="crispEdges"/>
<rect x="398.42" y="353.18" width="5.12" height="16.32" fill="#3f588d" shape-rendering="crispEdges"/>
<rect x="403.25" y="353.18" width="5.12" height="16.32" fill="#378d8f" shape-rendering="crispEdges"/>
<rect x="408.07" y="353.18" width="5.12" height="16.32" fill="#38738f" shape-rendering="crispEdges"/>
<rect x="335.70" y="369.20" width="5.12" height="16.32" fill="#b5e945" shape-rendering="crispEdges"/>
<rect x="340.52" y="369.20" width="5.12" height="16.32" fill="#7ed866" shape-rendering="crispEdges"/>
<rect x="345.35" y="369.20" width="5.12" height="16.32" fill="#4ab388" shape-rendering="crispEdges"/>
<rect x="350.18" y="369.20" width="5.12" height="16.32" fill="#3ea08d" shape-rendering="crispEdges"/>
<rect x="355.00" y="369.20" width="5.12" height="16.32" fill="#45458a" shape-rendering="crispEdges"/>
<rect x="359.82" y="369.20" width="5.12" height="16.32" fill="#45458a" shape-rendering="crispEdges"/>
<rect x="364.65" y="369.20" width="5.12" height="16.32" fill="#367a8f" shape-rendering="crispEdges"/>
<rect x="369.47" y="369.20" width="5.12" height="16.32" fill="#58c47e" shape-rendering="crispEdges"/>
<rect x="374.30" y="369.20" width="5.12" height="16.32" fill="#45ad8b" shape-rendering="crispEdges"/>
<rect x="379.12" y="369.20" width="5.12" height="16.32" fill="#36868f" shape-rendering="crispEdges"/>
<rect x="383.95" y="369.20" width="5.12" height="16.32" fill="#36868f" shape-rendering="crispEdges"/>
<rect x="388.77" y="369.20" width="5.12" height="16.32" fill="#38738f" shape-rendering="crispEdges"/>
<rect x="393.60" y="369.20" width="5.12" height="16.32" fill="#42a68c" shape-rendering="crispEdges"/>
<rect x="398.42" y="369.20" width="5.12" height="16.32" fill="#46085c" shape-rendering="crispEdges"/>
<rect x="403.25" y="369.20" width="5.12" height="16.32" fill="#3b9a8e" shape-rendering="crispEdges"/>
<rect x="408.07" y="369.20" width="5.12" height="16.32" fill="#36808f" shape-rendering="crispEdges"/>
<rect x="335.70" y="385.22" width="5.12" height="16.32" fill="#c2ea43" shape-rendering="crispEdges"/>
<rect x="340.52" y="385.22" width="5.12" height="16.32" fill="#7ed866" shape-rendering="crispEdges"/>
<rect x="345.35" y="385.22" width="5.12" height="16.32" fill="#4ab388" shape-rendering="crispEdges"/>
<rect x="350.18" y="385.22" width="5.12" height="16.32" fill="#3ea08d" shape-rendering="crispEdges"/>
<rect x="355.00" y="385.22" width="5.12" height="16.32" fill="#45458a" shape-rendering="crispEdges"/>
<rect x="359.82" y="385.22" width="5.12" height="16.32" fill="#45458a" shape-rendering="crispEdges"/>
<rect x="364.65" y="385.22" width="5.12" height="16.32" fill="#36868f" shape-rendering="crispEdges"/>
<rect x="369.47" y="385.22" width="5.12" height="16.32" fill="#4ab388" shape-rendering="crispEdges"/>
<rect x="374.30" y="385.22" width="5.12" height="16.32" fill="#4fb884" shape-rendering="crispEdges"/>
<rect x="379.12" y="385.22" width="5.12" height="16.32" fill="#3a6c8e" shape-rendering="crispEdges"/>
<rect x="383.95" y="385.22" width="5.12" height="16.32" fill="#4fb884" shape-rendering="crispEdges"/>
<rect x="388.77" y="385.22" width="5.12" height="16.32" fill="#3a6c8e" shape-rendering="crispEdges"/>
<rect x="393.60" y="385.22" width="5.12" height="16.32" fill="#36808f" shape-rendering="crispEdges"/>
<rect x="398.42" y="385.22" width="5.12" height="16.32" fill="#434c8b" shape-rendering="crispEdges"/>
<rect x="403.25" y="385.22" width="5.12" height="16.32" fill="#3a6c8e" shape-rendering="crispEdges"/>
<rect x="408.07" y="385.22" width="5.12" height="16.32" fill="#3a6c8e" shape-rendering="crispEdges"/>
<rect x="335.70" y="401.24" width="5.12" height="16.32" fill="#4ab388" shape-rendering="crispEdges"/>
<rect x="340.52" y="401.24" width="5.12" height="16.32" fill="#b5e945" shape-rendering="crispEdges"/>
<rect x="345.35" y="401.24" width="5.12" height="16.32" fill="#378d8f" shape-rendering="crispEdges"/>
<rect x="350.18" y="401.24" width="5.12" height="16.32" fill="#378d8f" shape-rendering="crispEdges"/>
<rect x="355.00" y="401.24" width="5.12" height="16.32" fill="#463681" shape-rendering="crispEdges"/>
<rect x="359.82" y="401.24" width="5.12" height="16.32" fill="#3ea08d" shape-rendering="crispEdges"/>
<rect x="364.65" y="401.24" width="5.12" height="16.32" fill="#4ab388" shape-rendering="crispEdges"/>
<rect x="369.47" y="401.24" width="5.12" height="16.32" fill="#3b9a8e" shape-rendering="crispEdges"/>
<rect x="374.30" y="401.24" width="5.12" height="16.32" fill="#58c47e" shape-rendering="crispEdges"/>
<rect x="379.12" y="401.24" width="5.12" height="16.32" fill="#463681" shape-rendering="crispEdges"/>
<rect x="383.95" y="401.24" width="5.12" height="16.32" fill="#45ad8b" shape-rendering="crispEdges"/>
<rect x="388.77" y="401.24" width="5.12" height="16.32" fill="#463681" shape-rendering="crispEdges"/>
<rect x="393.60" y="401.24" width="5.12" height="16.32" fill="#463681" shape-rendering="crispEdges"/>
<rect x="398.42" y="401.24" width="5.12" height="16.32" fill="#37938f" shape-rendering="crispEdges"/>
<rect x="403.25" y="401.24" width="5.12" height="16.32" fill="#463e86" shape-rendering="crispEdges"/>
<rect x="408.07" y="401.24" width="5.12" height="16.32" fill="#463e86" shape-rendering="crispEdges"/>
<rect x="335.70" y="417.26" width="5.12" height="16.32" fill="#378d8f" shape-rendering="crispEdges"/>
<rect x="340.52" y="417.26" width="5.12" height="16.32" fill="#42a68c" shape-rendering="crispEdges"/>
<rect x="345.35" y="417.26" width="5.12" height="16.32" fill="#42a68c" shape-rendering="crispEdges"/>
<rect x="350.18" y="417.26" width="5.12" height="16.32" fill="#3a6c8e" shape-rendering="crispEdges"/>
<rect x="355.00" y="417.26" width="5.12" height="16.32" fill="#4ab388" shape-rendering="crispEdges"/>
<rect x="359.82" y="417.26" width="5.12" height="16.32" fill="#99e056" shape-rendering="crispEdges"/>
<rect x="364.65" y="417.26" width="5.12" height="16.32" fill="#ddee3e" shape-rendering="crispEdges"/>
<rect x="369.47" y="417.26" width="5.12" height="16.32" fill="#3a6c8e" shape-rendering="crispEdges"/>
<rect x="374.30" y="417.26" width="5.12" height="16.32" fill="#4fb884" shape-rendering="crispEdges"/>
<rect x="379.12" y="417.26" width="5.12" height="16.32" fill="#3d5f8e" shape-rendering="crispEdges"/>
<rect x="383.95" y="417.26" width="5.12" height="16.32" fill="#45ad8b" shape-rendering="crispEdges"/>
<rect x="388.77" y="417.26" width="5.12" height="16.32" fill="#3d5f8e" shape-rendering="crispEdges"/>
<rect x="393.60" y="417.26" width="5.12" height="16.32" fill="#3d5f8e" shape-rendering="crispEdges"/>
<rect x="398.42" y="417.26" width="5.12" height="16.32" fill="#3b668e" shape-rendering="crispEdges"/>
<rect x="403.25" y="417.26" width="5.12" height="16.32" fill="#3b668e" shape-rendering="crispEdges"/>
<rect x="408.07" y="417.26" width="5.12" height="16.32" fill="#3b668e" shape-rendering="crispEdges"/>
<rect x="335.70" y="433.28" width="5.12" height="16.32" fill="#ddee3e" shape-rendering="crispEdges"/>
<rect x="340.52" y="433.28" width="5.12" height="16.32" fill="#99e056" shape-rendering="crispEdges"/>
<rect x="345.35" y="433.28" width="5.12" height="16.32" fill="#4ab388" shape-rendering="crispEdges"/>
<rect x="350.18" y="433.28" width="5.12" height="16.32" fill="#36868f" shape-rendering="crispEdges"/>
<rect x="355.00" y="433.28" width="5.12" height="16.32" fill="#36808f" shape-rendering="crispEdges"/>
<rect x="359.82" y="433.28" width="5.12" height="16.32" fill="#45458a" shape-rendering="crispEdges"/>
<rect x="364.65" y="433.28" width="5.12" height="16.32" fill="#3a6c8e" shape-rendering="crispEdges"/>
<rect x="369.47" y="433.28" width="5.12" height="16.32" fill="#4fb884" shape-rendering="crispEdges"/>
<rect x="374.30" y="433.28" width="5.12" height="16.32" fill="#53be81" shape-rendering="crispEdges"/>
<rect x="379.12" y="433.28" width="5.12" height="16.32" fill="#36808f" shape-rendering="crispEdges"/>
<rect x="383.95" y="433.28" width="5.12" height="16.32" fill="#42a68c" shape-rendering="crispEdges"/>
<rect x="388.77" y="433.28" width="5.12" height="16.32" fill="#3b668e" shape-rendering="crispEdges"/>
<rect x="393.60" y="433.28" width="5.12" height="16.32" fill="#36808f" shape-rendering="crispEdges"/>
<rect x="398.42" y="433.28" width="5.12" height="16.32" fill="#3d5f8e" shape-rendering="crispEdges"/>
<rect x="403.25" y="433.28" width="5.12" height="16.32" fill="#36868f" shape-rendering="crispEdges"/>
<rect x="408.07" y="433.28" width="5.12" height="16.32" fill="#38738f" shape-rendering="crispEdges"/>
<rect x="335.70" y="289.10" width="77.20" height="160.20" fill="none" stroke="#000" stroke-width="1.45"/>
<text x="329.40" y="299.60" font-size="7.3" text-anchor="end" fill="#222" font-weight="normal" >Pyruvate</text>
<line x1="330.6" y1="297.00" x2="335.4" y2="297.00" stroke="#000" stroke-width="1.1"/>
<text x="329.40" y="315.63" font-size="7.3" text-anchor="end" fill="#222" font-weight="normal" >Lactate</text>
<line x1="330.6" y1="313.03" x2="335.4" y2="313.03" stroke="#000" stroke-width="1.1"/>
<text x="329.40" y="331.66" font-size="7.3" text-anchor="end" fill="#222" font-weight="normal" >Citrate</text>
<line x1="330.6" y1="329.06" x2="335.4" y2="329.06" stroke="#000" stroke-width="1.1"/>
<text x="329.40" y="347.69" font-size="7.3" text-anchor="end" fill="#222" font-weight="normal" >Malate</text>
<line x1="330.6" y1="345.09" x2="335.4" y2="345.09" stroke="#000" stroke-width="1.1"/>
<text x="329.40" y="363.72" font-size="7.3" text-anchor="end" fill="#222" font-weight="normal" >Fumarate</text>
<line x1="330.6" y1="361.12" x2="335.4" y2="361.12" stroke="#000" stroke-width="1.1"/>
<text x="329.40" y="379.75" font-size="7.3" text-anchor="end" fill="#222" font-weight="normal" >Aspartate</text>
<line x1="330.6" y1="377.15" x2="335.4" y2="377.15" stroke="#000" stroke-width="1.1"/>
<text x="329.40" y="395.78" font-size="7.3" text-anchor="end" fill="#222" font-weight="normal" >Pyroglutamate</text>
<line x1="330.6" y1="393.18" x2="335.4" y2="393.18" stroke="#000" stroke-width="1.1"/>
<text x="329.40" y="411.81" font-size="7.3" text-anchor="end" fill="#222" font-weight="normal" >Glutamate</text>
<line x1="330.6" y1="409.21" x2="335.4" y2="409.21" stroke="#000" stroke-width="1.1"/>
<text x="329.40" y="427.84" font-size="7.3" text-anchor="end" fill="#222" font-weight="normal" >GABA</text>
<line x1="330.6" y1="425.24" x2="335.4" y2="425.24" stroke="#000" stroke-width="1.1"/>
<text x="329.40" y="443.87" font-size="7.3" text-anchor="end" fill="#222" font-weight="normal" >NAA</text>
<line x1="330.6" y1="441.27" x2="335.4" y2="441.27" stroke="#000" stroke-width="1.1"/>
<line x1="279.6" y1="293.6" x2="279.6" y2="365.0" stroke="#000" stroke-width="0.9"/>
<line x1="279.6" y1="371.5" x2="279.6" y2="450.0" stroke="#000" stroke-width="0.9"/>
<text transform="translate(277.2,329.3) rotate(-90)" font-size="8.8" text-anchor="middle" fill="#222">Metabolic</text>
<text transform="translate(277.2,410.75) rotate(-90)" font-size="8.8" text-anchor="middle" fill="#222">Neurotransmitter</text>
<text x="336.10" y="279.80" font-size="7.3" text-anchor="start" fill="#222" font-weight="normal" textLength="27.5" lengthAdjust="spacingAndGlyphs" >Wildtype</text>
<text x="382.50" y="279.80" font-size="7.3" text-anchor="start" fill="#222" font-weight="normal" textLength="21.4" lengthAdjust="spacingAndGlyphs" >P301S</text>
<line x1="335.3" y1="285.5" x2="368.9" y2="285.5" stroke="#000" stroke-width="1.1"/>
<line x1="369.9" y1="285.5" x2="411.6" y2="285.5" stroke="#000" stroke-width="1.1"/>
<defs><linearGradient id="cb417289" x1="0" y1="1" x2="0" y2="0"><stop offset="0" stop-color="#46085c"/><stop offset="0.1" stop-color="#482878"/><stop offset="0.2" stop-color="#45458a"/><stop offset="0.3" stop-color="#3d5f8e"/><stop offset="0.4" stop-color="#367a8f"/><stop offset="0.5" stop-color="#37938f"/><stop offset="0.6" stop-color="#45ad8b"/><stop offset="0.7" stop-color="#58c47e"/><stop offset="0.8" stop-color="#7ed866"/><stop offset="0.9" stop-color="#b5e945"/><stop offset="1" stop-color="#eaef3c"/></linearGradient></defs>
<rect x="417.8" y="289.6" width="7.5" height="50.599999999999966" fill="url(#cb417289)" stroke="#000" stroke-width="1.2"/>
<line x1="423.5" y1="293.9" x2="426.5" y2="293.9" stroke="#000" stroke-width="0.9"/>
<line x1="417.8" y1="293.9" x2="419.3" y2="293.9" stroke="#000" stroke-width="0.9"/>
<text x="427.60" y="296.70" font-size="7.6" text-anchor="start" fill="#222" font-weight="normal" >2</text>
<line x1="423.5" y1="305.3" x2="426.5" y2="305.3" stroke="#000" stroke-width="0.9"/>
<line x1="417.8" y1="305.3" x2="419.3" y2="305.3" stroke="#000" stroke-width="0.9"/>
<text x="427.60" y="308.10" font-size="7.6" text-anchor="start" fill="#222" font-weight="normal" >1</text>
<line x1="423.5" y1="316.7" x2="426.5" y2="316.7" stroke="#000" stroke-width="0.9"/>
<line x1="417.8" y1="316.7" x2="419.3" y2="316.7" stroke="#000" stroke-width="0.9"/>
<text x="427.60" y="319.50" font-size="7.6" text-anchor="start" fill="#222" font-weight="normal" >0</text>
<line x1="423.5" y1="328.0" x2="426.5" y2="328.0" stroke="#000" stroke-width="0.9"/>
<line x1="417.8" y1="328.0" x2="419.3" y2="328.0" stroke="#000" stroke-width="0.9"/>
<text x="427.60" y="330.80" font-size="7.6" text-anchor="start" fill="#222" font-weight="normal" >-1</text>
<line x1="423.5" y1="339.4" x2="426.5" y2="339.4" stroke="#000" stroke-width="0.9"/>
<line x1="417.8" y1="339.4" x2="419.3" y2="339.4" stroke="#000" stroke-width="0.9"/>
<text x="427.60" y="342.20" font-size="7.6" text-anchor="start" fill="#222" font-weight="normal" >-2</text>
<rect x="510.20" y="289.70" width="22.60" height="16.17" fill="#52bd82" shape-rendering="crispEdges"/>
<rect x="532.50" y="289.70" width="22.60" height="16.17" fill="#37758f" shape-rendering="crispEdges"/>
<rect x="510.20" y="305.57" width="22.60" height="16.17" fill="#52bd82" shape-rendering="crispEdges"/>
<rect x="532.50" y="305.57" width="22.60" height="16.17" fill="#37758f" shape-rendering="crispEdges"/>
<rect x="510.20" y="321.44" width="22.60" height="16.17" fill="#52bd82" shape-rendering="crispEdges"/>
<rect x="532.50" y="321.44" width="22.60" height="16.17" fill="#463681" shape-rendering="crispEdges"/>
<rect x="510.20" y="337.31" width="22.60" height="16.17" fill="#6fd070" shape-rendering="crispEdges"/>
<rect x="532.50" y="337.31" width="22.60" height="16.17" fill="#3d5f8e" shape-rendering="crispEdges"/>
<rect x="510.20" y="353.18" width="22.60" height="16.17" fill="#6fd070" shape-rendering="crispEdges"/>
<rect x="532.50" y="353.18" width="22.60" height="16.17" fill="#3d5f8e" shape-rendering="crispEdges"/>
<rect x="510.20" y="369.05" width="22.60" height="16.17" fill="#58c47e" shape-rendering="crispEdges"/>
<rect x="532.50" y="369.05" width="22.60" height="16.17" fill="#3a6c8e" shape-rendering="crispEdges"/>
<rect x="510.20" y="384.92" width="22.60" height="16.17" fill="#76d46b" shape-rendering="crispEdges"/>
<rect x="532.50" y="384.92" width="22.60" height="16.17" fill="#3f5a8d" shape-rendering="crispEdges"/>
<rect x="510.20" y="400.79" width="22.60" height="16.17" fill="#6fd070" shape-rendering="crispEdges"/>
<rect x="532.50" y="400.79" width="22.60" height="16.17" fill="#471264" shape-rendering="crispEdges"/>
<rect x="510.20" y="416.66" width="22.60" height="16.17" fill="#daed3f" shape-rendering="crispEdges"/>
<rect x="532.50" y="416.66" width="22.60" height="16.17" fill="#482878" shape-rendering="crispEdges"/>
<rect x="510.20" y="432.53" width="22.60" height="16.17" fill="#58c47e" shape-rendering="crispEdges"/>
<rect x="532.50" y="432.53" width="22.60" height="16.17" fill="#3a6c8e" shape-rendering="crispEdges"/>
<rect x="510.20" y="289.70" width="44.60" height="158.70" fill="none" stroke="#000" stroke-width="1.45"/>
<text x="503.80" y="299.60" font-size="7.3" text-anchor="end" fill="#222" font-weight="normal" >Pyruvate</text>
<line x1="504.6" y1="297.00" x2="509.6" y2="297.00" stroke="#000" stroke-width="1.1"/>
<text x="503.80" y="315.63" font-size="7.3" text-anchor="end" fill="#222" font-weight="normal" >Lactate</text>
<line x1="504.6" y1="313.03" x2="509.6" y2="313.03" stroke="#000" stroke-width="1.1"/>
<text x="503.80" y="331.66" font-size="7.3" text-anchor="end" fill="#222" font-weight="normal" >Citrate</text>
<line x1="504.6" y1="329.06" x2="509.6" y2="329.06" stroke="#000" stroke-width="1.1"/>
<text x="503.80" y="347.69" font-size="7.3" text-anchor="end" fill="#222" font-weight="normal" >Malate</text>
<line x1="504.6" y1="345.09" x2="509.6" y2="345.09" stroke="#000" stroke-width="1.1"/>
<text x="503.80" y="363.72" font-size="7.3" text-anchor="end" fill="#222" font-weight="normal" >Fumarate</text>
<line x1="504.6" y1="361.12" x2="509.6" y2="361.12" stroke="#000" stroke-width="1.1"/>
<text x="503.80" y="379.75" font-size="7.3" text-anchor="end" fill="#222" font-weight="normal" >Aspartate</text>
<line x1="504.6" y1="377.15" x2="509.6" y2="377.15" stroke="#000" stroke-width="1.1"/>
<text x="503.80" y="395.78" font-size="7.3" text-anchor="end" fill="#222" font-weight="normal" >Pyroglutamate</text>
<line x1="504.6" y1="393.18" x2="509.6" y2="393.18" stroke="#000" stroke-width="1.1"/>
<text x="503.80" y="411.81" font-size="7.3" text-anchor="end" fill="#222" font-weight="normal" >Glutamate</text>
<line x1="504.6" y1="409.21" x2="509.6" y2="409.21" stroke="#000" stroke-width="1.1"/>
<text x="503.80" y="427.84" font-size="7.3" text-anchor="end" fill="#222" font-weight="normal" >GABA</text>
<line x1="504.6" y1="425.24" x2="509.6" y2="425.24" stroke="#000" stroke-width="1.1"/>
<text x="503.80" y="443.87" font-size="7.3" text-anchor="end" fill="#222" font-weight="normal" >NAA</text>
<line x1="504.6" y1="441.27" x2="509.6" y2="441.27" stroke="#000" stroke-width="1.1"/>
<line x1="453.8" y1="293.0" x2="453.8" y2="365.0" stroke="#000" stroke-width="0.9"/>
<line x1="453.8" y1="371.2" x2="453.8" y2="449.0" stroke="#000" stroke-width="0.9"/>
<text transform="translate(451.2,329.0) rotate(-90)" font-size="8.8" text-anchor="middle" fill="#222">Metabolic</text>
<text transform="translate(451.2,410.1) rotate(-90)" font-size="8.8" text-anchor="middle" fill="#222">Neurotransmitter</text>
<text transform="translate(514.0,284.0) rotate(-45)" font-size="7.3" text-anchor="start" fill="#222">Wildtype</text>
<text transform="translate(541.2,283.6) rotate(-45)" font-size="7.3" text-anchor="start" fill="#222">P301S</text>
<line x1="509.5" y1="285.6" x2="531.5" y2="285.6" stroke="#000" stroke-width="1.1"/>
<line x1="533.5" y1="285.6" x2="555.5" y2="285.6" stroke="#000" stroke-width="1.1"/>
<defs><linearGradient id="cb557289" x1="0" y1="1" x2="0" y2="0"><stop offset="0" stop-color="#46085c"/><stop offset="0.1" stop-color="#482878"/><stop offset="0.2" stop-color="#45458a"/><stop offset="0.3" stop-color="#3d5f8e"/><stop offset="0.4" stop-color="#367a8f"/><stop offset="0.5" stop-color="#37938f"/><stop offset="0.6" stop-color="#45ad8b"/><stop offset="0.7" stop-color="#58c47e"/><stop offset="0.8" stop-color="#7ed866"/><stop offset="0.9" stop-color="#b5e945"/><stop offset="1" stop-color="#eaef3c"/></linearGradient></defs>
<rect x="557.3" y="289.6" width="9.400000000000091" height="49.89999999999998" fill="url(#cb557289)" stroke="#000" stroke-width="1.2"/>
<line x1="564.9000000000001" y1="291.9" x2="567.9000000000001" y2="291.9" stroke="#000" stroke-width="0.9"/>
<line x1="557.3" y1="291.9" x2="558.8" y2="291.9" stroke="#000" stroke-width="0.9"/>
<text x="568.60" y="294.70" font-size="7.6" text-anchor="start" fill="#222" font-weight="normal" >0.6</text>
<line x1="564.9000000000001" y1="315.7" x2="567.9000000000001" y2="315.7" stroke="#000" stroke-width="0.9"/>
<line x1="557.3" y1="315.7" x2="558.8" y2="315.7" stroke="#000" stroke-width="0.9"/>
<text x="568.60" y="318.50" font-size="7.6" text-anchor="start" fill="#222" font-weight="normal" >0</text>
<line x1="564.9000000000001" y1="339.5" x2="567.9000000000001" y2="339.5" stroke="#000" stroke-width="0.9"/>
<line x1="557.3" y1="339.5" x2="558.8" y2="339.5" stroke="#000" stroke-width="0.9"/>
<text x="568.60" y="342.30" font-size="7.6" text-anchor="start" fill="#222" font-weight="normal" >-0.6</text>
<line x1="628.8" y1="273.6" x2="628.8" y2="348.3" stroke="#111" stroke-width="1.3"/>
<line x1="628.8" y1="348.3" x2="665.7" y2="348.3" stroke="#111" stroke-width="1.3"/>
<line x1="626.0" y1="274.0" x2="628.8" y2="274.0" stroke="#111" stroke-width="1.1"/>
<text x="625.0" y="276.1" font-size="6.9" text-anchor="end" fill="#222">2×10<tspan font-size="4.5" dy="-2.8">7</tspan></text>
<line x1="626.0" y1="292.6" x2="628.8" y2="292.6" stroke="#111" stroke-width="1.1"/>
<text x="625.0" y="294.7" font-size="6.9" text-anchor="end" fill="#222">1.5×10<tspan font-size="4.5" dy="-2.8">7</tspan></text>
<line x1="626.0" y1="311.4" x2="628.8" y2="311.4" stroke="#111" stroke-width="1.1"/>
<text x="625.0" y="313.5" font-size="6.9" text-anchor="end" fill="#222">1×10<tspan font-size="4.5" dy="-2.8">7</tspan></text>
<line x1="626.0" y1="330.1" x2="628.8" y2="330.1" stroke="#111" stroke-width="1.1"/>
<text x="625.0" y="332.2" font-size="6.9" text-anchor="end" fill="#222">5×10<tspan font-size="4.5" dy="-2.8">6</tspan></text>
<line x1="626.0" y1="348.3" x2="628.8" y2="348.3" stroke="#111" stroke-width="1.1"/>
<text x="625.80" y="350.40" font-size="6.0" text-anchor="end" fill="#222" font-weight="normal" >0</text>
<rect x="634.4" y="314.9" width="9.899999999999977" height="33.400000000000034" fill="#5555ff" stroke="#111" stroke-width="1.1"/>
<line x1="639.3499999999999" y1="348.3" x2="639.3499999999999" y2="351.7" stroke="#111" stroke-width="1.2"/>
<rect x="650.1" y="333.0" width="9.600000000000023" height="15.300000000000011" fill="#f04040" stroke="#111" stroke-width="1.1"/>
<line x1="654.9000000000001" y1="348.3" x2="654.9000000000001" y2="351.7" stroke="#111" stroke-width="1.2"/>
<line x1="639.3" y1="314.9" x2="639.3" y2="307.5" stroke="#111" stroke-width="0.9"/>
<line x1="637.3" y1="307.5" x2="641.3" y2="307.5" stroke="#111" stroke-width="0.9"/>
<line x1="654.9" y1="333.0" x2="654.9" y2="326.5" stroke="#111" stroke-width="0.9"/>
<line x1="652.9" y1="326.5" x2="656.9" y2="326.5" stroke="#111" stroke-width="0.9"/>
<circle cx="639.5" cy="291.5" r="1.1" fill="#111"/>
<circle cx="639.5" cy="307.5" r="1.1" fill="#111"/>
<circle cx="638.0" cy="310.5" r="1.1" fill="#111"/>
<circle cx="639.5" cy="321.0" r="1.1" fill="#111"/>
<circle cx="638.0" cy="327.0" r="1.1" fill="#111"/>
<circle cx="641.0" cy="327.0" r="1.1" fill="#111"/>
<circle cx="655.5" cy="305.8" r="1.1" fill="#111"/>
<circle cx="655.5" cy="314.8" r="1.1" fill="#111"/>
<circle cx="655.5" cy="323.5" r="1.1" fill="#111"/>
<circle cx="652.5" cy="347.5" r="1.1" fill="#111"/>
<circle cx="655.0" cy="347.0" r="1.1" fill="#111"/>
<circle cx="657.5" cy="347.5" r="1.1" fill="#111"/>
<path d="M639.2 285.7 L639.2 280.1 L655.3 280.1 L655.3 299.3" fill="none" stroke="#222" stroke-width="0.9"/>
<text x="646.80" y="275.40" font-size="6.4" text-anchor="middle" fill="#111" font-weight="normal" >0.0527</text>
<text transform="translate(590.4,310.5) rotate(-90)" font-size="6.4" text-anchor="middle" fill="#222">Glutamate</text>
<text transform="translate(598.8,310.5) rotate(-90)" font-size="6.3" text-anchor="middle" fill="#222">Total Abundance</text>
<text transform="translate(640.2,356.0) rotate(-45)" font-size="6.9" text-anchor="end" fill="#222">WT</text>
<text transform="translate(655.7,356.1) rotate(-45)" font-size="6.9" text-anchor="end" fill="#222">P301S</text>
<line x1="628.0" y1="380.5" x2="628.0" y2="452.4" stroke="#111" stroke-width="1.3"/>
<line x1="628.0" y1="452.4" x2="663.6" y2="452.4" stroke="#111" stroke-width="1.3"/>
<line x1="625.2" y1="381.0" x2="628.0" y2="381.0" stroke="#111" stroke-width="1.1"/>
<text x="624.5" y="383.0" font-size="6.9" text-anchor="end" fill="#222">1×10<tspan font-size="4.5" dy="-2.8">5</tspan></text>
<line x1="625.2" y1="395.4" x2="628.0" y2="395.4" stroke="#111" stroke-width="1.1"/>
<text x="624.5" y="397.4" font-size="6.9" text-anchor="end" fill="#222">8×10<tspan font-size="4.5" dy="-2.8">4</tspan></text>
<line x1="625.2" y1="409.6" x2="628.0" y2="409.6" stroke="#111" stroke-width="1.1"/>
<text x="624.5" y="411.6" font-size="6.9" text-anchor="end" fill="#222">6×10<tspan font-size="4.5" dy="-2.8">4</tspan></text>
<line x1="625.2" y1="424.0" x2="628.0" y2="424.0" stroke="#111" stroke-width="1.1"/>
<text x="624.5" y="426.0" font-size="6.9" text-anchor="end" fill="#222">4×10<tspan font-size="4.5" dy="-2.8">4</tspan></text>
<line x1="625.2" y1="438.1" x2="628.0" y2="438.1" stroke="#111" stroke-width="1.1"/>
<text x="624.5" y="440.1" font-size="6.9" text-anchor="end" fill="#222">2×10<tspan font-size="4.5" dy="-2.8">4</tspan></text>
<line x1="625.2" y1="452.4" x2="628.0" y2="452.4" stroke="#111" stroke-width="1.1"/>
<text x="625.00" y="454.50" font-size="6.0" text-anchor="end" fill="#222" font-weight="normal" >0</text>
<rect x="634.4" y="424.5" width="9.300000000000068" height="27.899999999999977" fill="#5555ff" stroke="#111" stroke-width="1.1"/>
<line x1="639.05" y1="452.4" x2="639.05" y2="455.79999999999995" stroke="#111" stroke-width="1.2"/>
<rect x="649.3" y="445.4" width="9.200000000000045" height="7.0" fill="#f04040" stroke="#111" stroke-width="1.1"/>
<line x1="653.9" y1="452.4" x2="653.9" y2="455.79999999999995" stroke="#111" stroke-width="1.2"/>
<line x1="639.0" y1="424.5" x2="639.0" y2="417.0" stroke="#111" stroke-width="0.9"/>
<line x1="637.0" y1="417.0" x2="641.0" y2="417.0" stroke="#111" stroke-width="0.9"/>
<line x1="653.9" y1="445.4" x2="653.9" y2="441.0" stroke="#111" stroke-width="0.9"/>
<line x1="651.9" y1="441.0" x2="655.9" y2="441.0" stroke="#111" stroke-width="0.9"/>
<circle cx="639.5" cy="394.5" r="1.1" fill="#111"/>
<circle cx="639.5" cy="408.8" r="1.1" fill="#111"/>
<circle cx="640.5" cy="424.5" r="1.1" fill="#111"/>
<circle cx="638.5" cy="424.8" r="1.1" fill="#111"/>
<circle cx="639.5" cy="438.2" r="1.1" fill="#111"/>
<circle cx="639.5" cy="449.8" r="1.1" fill="#111"/>
<circle cx="653.8" cy="420.8" r="1.1" fill="#111"/>
<circle cx="654.6" cy="424.0" r="1.1" fill="#111"/>
<circle cx="653.0" cy="449.5" r="1.1" fill="#111"/>
<circle cx="655.0" cy="450.5" r="1.1" fill="#111"/>
<circle cx="652.0" cy="451.0" r="1.1" fill="#111"/>
<circle cx="656.0" cy="448.0" r="1.1" fill="#111"/>
<path d="M638.4 388.7 L638.4 383.1 L654.0 383.1 L654.0 416.0" fill="none" stroke="#222" stroke-width="0.9"/>
<text x="646.40" y="381.50" font-size="9.5" text-anchor="middle" fill="#111" font-weight="normal" >*</text>
<text transform="translate(593.6,419.0) rotate(-90)" font-size="6.4" text-anchor="middle" fill="#222">GABA</text>
<text transform="translate(601.8,419.0) rotate(-90)" font-size="6.3" text-anchor="middle" fill="#222">Total Abundance</text>
<text transform="translate(640.2,460.3) rotate(-45)" font-size="6.9" text-anchor="end" fill="#222">WT</text>
<text transform="translate(655.2,460.4) rotate(-45)" font-size="6.9" text-anchor="end" fill="#222">P301S</text>
<text x="1.80" y="13.80" font-size="16.3" text-anchor="start" fill="#000" font-weight="normal" >A</text>
<text x="27.0" y="22.4" font-size="11" fill="#333" textLength="73.7" lengthAdjust="spacingAndGlyphs">[U-<tspan font-size="6.8" dy="-4">13</tspan><tspan dy="4">C]Glucose</tspan></text>
<g transform="rotate(17 40 31)"><rect x="29" y="29.6" width="13" height="2.8" fill="#fafafa" stroke="#b8b8b8" stroke-width="0.6"/><rect x="26.5" y="30.3" width="3" height="1.4" fill="#ddd" stroke="#bbb" stroke-width="0.4"/><rect x="41.5" y="29.9" width="4.5" height="2.2" fill="#e0559a"/><line x1="46" y1="31" x2="51.5" y2="31" stroke="#888" stroke-width="0.6"/></g>
<path d="M74 56.4 C84 55.6 96 55.8 102 58.2 C105.5 59.8 105 62 103.3 63.8" fill="none" stroke="#c99090" stroke-width="1.2" stroke-linecap="round"/>
<path d="M48.4 29.5 C48.6 28.4 49.2 27.9 50.2 27.7 C52.5 27.3 56 27.3 58.5 27.7 L60.4 27.9 C61.8 27.8 63 28.6 63.1 29.8 L63.3 32.6 C66 32.9 68.5 33.6 70.6 35.2 C73.2 37.2 75.3 39.8 76.2 42.8 C77.0 45.6 77.0 49.0 76.4 51.8 C76.0 54.0 75.5 55.6 74.9 57.0 C73 57.6 68 57.7 63 57.6 L58.6 57.6 C56.8 57.4 55.6 56.6 55.2 55.4 C54.4 54.0 54.0 52.0 53.8 50.4 C53.2 49.2 52.9 47.6 52.8 46.2 C52.3 43.5 52.1 40.5 52.0 37.8 C51.7 36.2 51.0 34.4 50.0 33.0 C49.2 31.9 48.6 30.7 48.4 29.5 Z" fill="#4c4545"/>
<ellipse cx="61.5" cy="33.9" rx="2.6" ry="2.4" fill="#c98e88"/>
<circle cx="54.8" cy="30.1" r="0.55" fill="#111"/>
<path d="M50.4 34.5 C55 36.8 60 40.5 63.3 44.4" fill="none" stroke="#8a9aa0" stroke-width="0.5"/>
<ellipse cx="51.7" cy="47.5" rx="1.3" ry="1.2" fill="#d09a94"/>
<path d="M52.2 57.8 C52.6 56.4 54.5 55.9 56.5 56.1 L63.3 56.3 L63.3 57.9 Z" fill="#d09a94"/>
<path d="M57.4 52.6 C58.5 54.5 58.5 56 58 57" fill="none" stroke="#3a3434" stroke-width="0.4"/>
<defs><linearGradient id="arrg" x1="0" x2="1"><stop offset="0" stop-color="#222" stop-opacity="0.2"/><stop offset="0.35" stop-color="#111"/><stop offset="1" stop-color="#111"/></linearGradient></defs>
<path d="M90.5 40.3 L112 39.9 L112 42.5 L90.5 42.1 Z" fill="url(#arrg)"/>
<polygon points="120.6,41.2 111.0,36.5 111.0,45.9" fill="#111"/>
<text x="120.2" y="15.1" font-size="9.3" font-weight="bold" fill="#3b4a6e" style="stroke:#3b4a6e" textLength="65.6" lengthAdjust="spacingAndGlyphs">[U-<tspan font-size="5.8" dy="-3.4">13</tspan><tspan dy="3.4">C]Glucose</tspan></text>
<line x1="152.6" y1="20.8" x2="152.6" y2="35.0" stroke="#222" stroke-width="0.9"/>
<polygon points="152.6,38.6 150.7,34.4 154.5,34.4" fill="#222"/>
<text x="137.70" y="51.80" font-size="8.2" text-anchor="start" fill="#333" font-weight="normal" textLength="31.9" lengthAdjust="spacingAndGlyphs" >Pyruvate</text>
<line x1="172.3" y1="47.7" x2="184.5" y2="47.7" stroke="#222" stroke-width="0.9"/>
<polygon points="188.2,47.7 184.2,45.8 184.2,49.6" fill="#222"/>
<text x="190.40" y="51.80" font-size="8.2" text-anchor="start" fill="#333" font-weight="normal" textLength="26.3" lengthAdjust="spacingAndGlyphs" >Lactate</text>
<line x1="152.6" y1="53.0" x2="152.6" y2="60.2" stroke="#222" stroke-width="0.9"/>
<polygon points="152.6,63.6 150.7,59.6 154.5,59.6" fill="#222"/>
<text x="133.30" y="73.80" font-size="8.2" text-anchor="start" fill="#333" font-weight="normal" textLength="39.6" lengthAdjust="spacingAndGlyphs" >Acetyl-CoA</text>
<path d="M154.1 77.4 C154.0 90 157 96.5 168.5 101.6" fill="none" stroke="#222" stroke-width="1.0"/>
<polygon points="173.00,104.00 167.35,103.39 169.65,99.41" fill="#222"/>
<path d="M145.62 98.18 A25.6 25.6 0 0 1 167.02 99.40" fill="none" stroke="#222" stroke-width="1.0"/>
<path d="M179.94 116.24 A25.6 25.6 0 0 1 179.83 128.21" fill="none" stroke="#222" stroke-width="1.0"/>
<polygon points="178.56,132.00 178.40,126.50 182.64,128.30" fill="#222"/>
<path d="M167.02 144.60 A25.6 25.6 0 0 1 140.67 143.21" fill="none" stroke="#222" stroke-width="1.0"/>
<polygon points="137.54,140.72 142.77,142.45 139.63,145.81" fill="#222"/>
<path d="M130.06 127.76 A25.6 25.6 0 0 1 131.62 111.57" fill="none" stroke="#222" stroke-width="1.0"/>
<polygon points="133.53,108.06 132.74,113.50 128.88,111.00" fill="#222"/>
<text x="119.20" y="104.90" font-size="8.2" text-anchor="start" fill="#333" font-weight="normal" textLength="24.6" lengthAdjust="spacingAndGlyphs" >Malate</text>
<text x="170.10" y="113.80" font-size="8.2" text-anchor="start" fill="#333" font-weight="normal" textLength="23.9" lengthAdjust="spacingAndGlyphs" >Citrate</text>
<text x="100.50" y="138.80" font-size="8.2" text-anchor="start" fill="#333" font-weight="normal" textLength="35.1" lengthAdjust="spacingAndGlyphs" >Fumarate</text>
<text x="170.60" y="142.20" font-size="8.2" text-anchor="start" fill="#333" font-weight="normal" textLength="17.4" lengthAdjust="spacingAndGlyphs" >α-KG</text>
<text x="155.20" y="121.30" font-size="7.6" text-anchor="middle" fill="#222" font-weight="bold" textLength="13.8" lengthAdjust="spacingAndGlyphs" >TCA</text>
<text x="154.90" y="130.00" font-size="7.6" text-anchor="middle" fill="#222" font-weight="bold" textLength="17.2" lengthAdjust="spacingAndGlyphs" >cycle</text>
<line x1="194" y1="138.2" x2="204" y2="138.2" stroke="#e8262a" stroke-width="1.1"/>
<polygon points="190.8,138.2 195,136.2 195,140.2" fill="#e8262a"/>
<polygon points="207.2,138.2 203,136.2 203,140.2" fill="#e8262a"/>
<text x="209.20" y="141.30" font-size="8.0" text-anchor="start" fill="#111" font-weight="bold" textLength="36.8" lengthAdjust="spacingAndGlyphs" >Glutamate</text>
<text x="217.30" y="115.60" font-size="8.0" text-anchor="start" fill="#111" font-weight="bold" textLength="21.5" lengthAdjust="spacingAndGlyphs" >GABA</text>
<line x1="227.9" y1="131.9" x2="227.9" y2="121.0" stroke="#4a3af0" stroke-width="1.2"/>
<polygon points="227.9,117.6 225.9,121.8 229.9,121.8" fill="#4a3af0"/>
<rect x="144.1" y="154.6" width="2.8" height="19.8" fill="#1a1a1a"/>
<polygon points="142.5,173.6 148.5,173.6 145.5,179.8" fill="#1a1a1a"/>
<text x="63.10" y="191.00" font-size="10.3" text-anchor="start" fill="#222" font-weight="normal" textLength="72.2" lengthAdjust="spacingAndGlyphs" >Brain Extraction</text>
<text x="184.50" y="190.40" font-size="8.4" text-anchor="start" fill="#222" font-weight="normal" textLength="24.3" lengthAdjust="spacingAndGlyphs" >GCMS</text>
<g><ellipse cx="81.6" cy="212.7" rx="3.2" ry="4.2" fill="#e2b5b5"/><rect x="110" y="208.6" width="10.2" height="7.8" rx="2.5" fill="#e4bcbc"/><ellipse cx="105.4" cy="212.9" rx="6.4" ry="10.6" fill="#deb0b0" stroke="#d49a9a" stroke-width="0.5"/><path d="M83 212.6 C83 205 90 200.2 96.5 200.2 C101 200.2 102.8 204 102.6 208 L102.6 217 C102.8 221.5 101 225.7 96.5 225.7 C90 225.7 83 220.5 83 212.6 Z" fill="#dfb3b3" stroke="#d49c9c" stroke-width="0.5"/><path d="M83.2 212.6 L99.2 212.6 L102.6 210 M99.2 212.6 L102.6 215.2" fill="none" stroke="#cf8e8e" stroke-width="0.8"/><path d="M101.5 204 C104 207 104 218 101.5 222 M106 205 L106 221 M108.5 207 L108.5 219" fill="none" stroke="#d49a9a" stroke-width="0.35"/></g>
<rect x="142.3" y="204.9" width="8.4" height="2.0" fill="#111"/>
<rect x="145.5" y="201.5" width="2.0" height="8.6" fill="#111"/>
<line x1="170.5" y1="189.3" x2="170.5" y2="223.0" stroke="#444" stroke-width="0.5"/>
<line x1="170.5" y1="223.0" x2="231.5" y2="223.0" stroke="#444" stroke-width="0.5"/>
<rect x="174.05" y="221.83" width="1.1" height="1.17" fill="#d23a3a"/>
<rect x="178.14" y="222.07" width="1.1" height="0.93" fill="#3d86d8"/>
<rect x="183.75" y="211.90" width="1.1" height="11.10" fill="#3d86d8"/>
<rect x="187.49" y="220.66" width="1.1" height="2.34" fill="#d23a3a"/>
<rect x="188.07" y="220.08" width="1.1" height="2.92" fill="#d23a3a"/>
<rect x="189.82" y="221.25" width="1.1" height="1.75" fill="#3d86d8"/>
<rect x="190.99" y="221.83" width="1.1" height="1.17" fill="#3d86d8"/>
<rect x="192.74" y="218.91" width="1.1" height="4.09" fill="#d23a3a"/>
<rect x="193.56" y="219.50" width="1.1" height="3.50" fill="#d23a3a"/>
<rect x="194.73" y="203.14" width="1.1" height="19.86" fill="#d23a3a"/>
<rect x="196.83" y="220.08" width="1.1" height="2.92" fill="#3d86d8"/>
<rect x="203.84" y="221.83" width="1.1" height="1.17" fill="#3d86d8"/>
<rect x="207.93" y="221.25" width="1.1" height="1.75" fill="#d23a3a"/>
<rect x="208.52" y="215.99" width="1.1" height="7.01" fill="#d23a3a"/>
<rect x="210.62" y="214.82" width="1.1" height="8.18" fill="#3d86d8"/>
<rect x="211.79" y="220.08" width="1.1" height="2.92" fill="#3d86d8"/>
<rect x="214.36" y="222.07" width="1.1" height="0.93" fill="#d23a3a"/>
<rect x="218.45" y="208.98" width="1.1" height="14.02" fill="#3d86d8"/>
<rect x="219.03" y="189.71" width="1.1" height="33.29" fill="#3d86d8"/>
<rect x="219.85" y="207.81" width="1.1" height="15.19" fill="#3d86d8"/>
<rect x="220.78" y="217.16" width="1.1" height="5.84" fill="#3d86d8"/>
<rect x="224.87" y="221.25" width="1.1" height="1.75" fill="#d23a3a"/>
<rect x="226.04" y="208.40" width="1.1" height="14.60" fill="#3d86d8"/>
<text x="169.6" y="190.73" font-size="2.6" text-anchor="end" fill="#666">100</text>
<text x="169.6" y="197.16" font-size="2.6" text-anchor="end" fill="#666">80</text>
<text x="169.6" y="203.58" font-size="2.6" text-anchor="end" fill="#666">60</text>
<text x="169.6" y="210.01" font-size="2.6" text-anchor="end" fill="#666">40</text>
<text x="169.6" y="217.01" font-size="2.6" text-anchor="end" fill="#666">20</text>
<text x="169.6" y="223.44" font-size="2.6" text-anchor="end" fill="#666">0</text>
<text x="182.78" y="226.2" font-size="2.6" text-anchor="middle" fill="#666">200</text>
<text x="194.46" y="226.2" font-size="2.6" text-anchor="middle" fill="#666">400</text>
<text x="206.50" y="226.2" font-size="2.6" text-anchor="middle" fill="#666">600</text>
<text x="218.41" y="226.2" font-size="2.6" text-anchor="middle" fill="#666">800</text>
<text x="233.01" y="226.2" font-size="2.6" text-anchor="middle" fill="#666">1000</text>
<text x="202.6" y="229.3" font-size="2.8" text-anchor="middle" fill="#666">m/z</text>
<text transform="translate(163,206) rotate(-90)" font-size="3" text-anchor="middle" fill="#666">Intensity</text>
<path d="M147.3 229.8 L147.3 240.3 M71.5 249.8 L71.5 240.3 L224.3 240.3 L224.3 249.6" fill="none" stroke="#444" stroke-width="0.9"/>
<text x="33.60" y="260.60" font-size="8.4" text-anchor="start" fill="#111" font-weight="bold" textLength="91.6" lengthAdjust="spacingAndGlyphs" >Fractional Enrichment:</text>
<text x="39.4" y="275.3" font-size="7.6" fill="#333" textLength="79.9" lengthAdjust="spacingAndGlyphs"><tspan font-size="4.8" dy="-2.8">13</tspan><tspan dy="2.8">C-labeled metabolites</tspan></text>
<text x="182.40" y="260.10" font-size="8.4" text-anchor="start" fill="#111" font-weight="bold" textLength="69.5" lengthAdjust="spacingAndGlyphs" >Total Abundance:</text>
<text x="174.9" y="275.0" font-size="7.6" fill="#333" textLength="85.8" lengthAdjust="spacingAndGlyphs"><tspan font-size="4.8" dy="-2.8">13</tspan><tspan dy="2.8">C-labeled metabolites +</tspan></text>
<text x="178.90" y="283.30" font-size="7.6" text-anchor="start" fill="#333" font-weight="normal" textLength="77.1" lengthAdjust="spacingAndGlyphs" >Unlabeled metabolites</text>
<text x="0.20" y="313.40" font-size="16.3" text-anchor="start" fill="#000" font-weight="normal" >D</text>
<text x="65.70" y="316.60" font-size="12.7" text-anchor="middle" fill="#111" font-weight="normal" textLength="55.4" lengthAdjust="spacingAndGlyphs" >Fractional</text>
<text x="66.00" y="332.60" font-size="12.7" text-anchor="middle" fill="#111" font-weight="normal" textLength="63.3" lengthAdjust="spacingAndGlyphs" >enrichment</text>
<line x1="53.9" y1="353.4" x2="53.9" y2="440.3" stroke="#111" stroke-width="1.3"/>
<line x1="53.9" y1="440.3" x2="96.2" y2="440.3" stroke="#111" stroke-width="1.3"/>
<line x1="51.1" y1="354.2" x2="53.9" y2="354.2" stroke="#111" stroke-width="1.1"/>
<text x="50.0" y="356.9" font-size="7.6" text-anchor="end" fill="#222" textLength="12.6" lengthAdjust="spacingAndGlyphs">1.0</text>
<line x1="51.1" y1="371.4" x2="53.9" y2="371.4" stroke="#111" stroke-width="1.1"/>
<text x="50.0" y="374.09999999999997" font-size="7.6" text-anchor="end" fill="#222" textLength="12.6" lengthAdjust="spacingAndGlyphs">0.8</text>
<line x1="51.1" y1="388.8" x2="53.9" y2="388.8" stroke="#111" stroke-width="1.1"/>
<text x="50.0" y="391.5" font-size="7.6" text-anchor="end" fill="#222" textLength="12.6" lengthAdjust="spacingAndGlyphs">0.6</text>
<line x1="51.1" y1="405.8" x2="53.9" y2="405.8" stroke="#111" stroke-width="1.1"/>
<text x="50.0" y="408.5" font-size="7.6" text-anchor="end" fill="#222" textLength="12.6" lengthAdjust="spacingAndGlyphs">0.4</text>
<line x1="51.1" y1="423.3" x2="53.9" y2="423.3" stroke="#111" stroke-width="1.1"/>
<text x="50.0" y="426.0" font-size="7.6" text-anchor="end" fill="#222" textLength="12.6" lengthAdjust="spacingAndGlyphs">0.2</text>
<line x1="51.1" y1="440.3" x2="53.9" y2="440.3" stroke="#111" stroke-width="1.1"/>
<text x="50.0" y="443.0" font-size="7.6" text-anchor="end" fill="#222" textLength="12.6" lengthAdjust="spacingAndGlyphs">0.0</text>
<rect x="60.6" y="360.1" width="10.800000000000004" height="80.19999999999999" fill="#5555ff" stroke="#111" stroke-width="1.1"/>
<line x1="66.0" y1="440.3" x2="66.0" y2="443.7" stroke="#111" stroke-width="1.2"/>
<rect x="78.5" y="400.4" width="10.799999999999997" height="39.900000000000034" fill="#f04040" stroke="#111" stroke-width="1.1"/>
<line x1="83.9" y1="440.3" x2="83.9" y2="443.7" stroke="#111" stroke-width="1.2"/>
<line x1="83.8" y1="400.4" x2="83.8" y2="386.9" stroke="#111" stroke-width="0.9"/>
<line x1="81.8" y1="386.9" x2="85.8" y2="386.9" stroke="#111" stroke-width="0.9"/>
<circle cx="62.5" cy="359.6" r="1.25" fill="#111"/>
<circle cx="64.5" cy="359.0" r="1.25" fill="#111"/>
<circle cx="66.5" cy="359.4" r="1.25" fill="#111"/>
<circle cx="68.5" cy="359.8" r="1.25" fill="#111"/>
<circle cx="70.0" cy="359.2" r="1.25" fill="#111"/>
<circle cx="65.5" cy="358.4" r="1.25" fill="#111"/>
<circle cx="81.9" cy="360.1" r="1.25" fill="#111"/>
<circle cx="83.8" cy="360.1" r="1.25" fill="#111"/>
<circle cx="83.2" cy="362.4" r="1.25" fill="#111"/>
<circle cx="83.5" cy="370.2" r="1.25" fill="#111"/>
<circle cx="83.5" cy="383.7" r="1.25" fill="#111"/>
<circle cx="79.6" cy="440.3" r="1.25" fill="#111"/>
<circle cx="82.7" cy="440.3" r="1.25" fill="#111"/>
<circle cx="85.8" cy="440.3" r="1.25" fill="#111"/>
<circle cx="88.1" cy="440.3" r="1.25" fill="#111"/>
<path d="M65.2 351.6 L65.2 345.4 L83.5 345.4 L83.5 351.6" fill="none" stroke="#222" stroke-width="0.9"/>
<text x="74.30" y="344.40" font-size="10.0" text-anchor="middle" fill="#111" font-weight="normal" >*</text>
<text transform="translate(33.2,398.0) rotate(-90)" font-size="7.5" text-anchor="middle" fill="#222" textLength="57.3" lengthAdjust="spacingAndGlyphs">GABA:Glutamate</text>
<text transform="translate(66.6,447.6) rotate(-45)" font-size="8.4" text-anchor="end" fill="#222">WT</text>
<text transform="translate(85.6,448.2) rotate(-45)" font-size="8.4" text-anchor="end" fill="#222">P301S</text>
<text x="137.00" y="313.90" font-size="16.3" text-anchor="start" fill="#000" font-weight="normal" >E</text>
<text x="210.90" y="316.60" font-size="12.7" text-anchor="middle" fill="#111" font-weight="normal" textLength="28.0" lengthAdjust="spacingAndGlyphs" >Total</text>
<text x="210.90" y="332.60" font-size="12.7" text-anchor="middle" fill="#111" font-weight="normal" textLength="63.3" lengthAdjust="spacingAndGlyphs" >abundance</text>
<line x1="197.2" y1="353.6" x2="197.2" y2="440.9" stroke="#111" stroke-width="1.3"/>
<line x1="197.2" y1="440.9" x2="239.7" y2="440.9" stroke="#111" stroke-width="1.3"/>
<line x1="194.39999999999998" y1="354.4" x2="197.2" y2="354.4" stroke="#111" stroke-width="1.1"/>
<text x="192.0" y="357.09999999999997" font-size="7.6" text-anchor="end" fill="#222" textLength="15.0" lengthAdjust="spacingAndGlyphs">0.10</text>
<line x1="194.39999999999998" y1="371.7" x2="197.2" y2="371.7" stroke="#111" stroke-width="1.1"/>
<text x="192.0" y="374.4" font-size="7.6" text-anchor="end" fill="#222" textLength="15.0" lengthAdjust="spacingAndGlyphs">0.08</text>
<line x1="194.39999999999998" y1="389.2" x2="197.2" y2="389.2" stroke="#111" stroke-width="1.1"/>
<text x="192.0" y="391.9" font-size="7.6" text-anchor="end" fill="#222" textLength="15.0" lengthAdjust="spacingAndGlyphs">0.06</text>
<line x1="194.39999999999998" y1="406.6" x2="197.2" y2="406.6" stroke="#111" stroke-width="1.1"/>
<text x="192.0" y="409.3" font-size="7.6" text-anchor="end" fill="#222" textLength="15.0" lengthAdjust="spacingAndGlyphs">0.04</text>
<line x1="194.39999999999998" y1="423.9" x2="197.2" y2="423.9" stroke="#111" stroke-width="1.1"/>
<text x="192.0" y="426.59999999999997" font-size="7.6" text-anchor="end" fill="#222" textLength="15.0" lengthAdjust="spacingAndGlyphs">0.02</text>
<line x1="194.39999999999998" y1="440.9" x2="197.2" y2="440.9" stroke="#111" stroke-width="1.1"/>
<text x="192.0" y="443.59999999999997" font-size="7.6" text-anchor="end" fill="#222" textLength="15.0" lengthAdjust="spacingAndGlyphs">0.00</text>
<rect x="204.1" y="401.1" width="10.400000000000006" height="39.799999999999955" fill="#5555ff" stroke="#111" stroke-width="1.1"/>
<line x1="209.3" y1="440.9" x2="209.3" y2="444.29999999999995" stroke="#111" stroke-width="1.2"/>
<rect x="221.9" y="427.5" width="10.900000000000006" height="13.399999999999977" fill="#f04040" stroke="#111" stroke-width="1.1"/>
<line x1="227.35000000000002" y1="440.9" x2="227.35000000000002" y2="444.29999999999995" stroke="#111" stroke-width="1.2"/>
<line x1="209.3" y1="401.1" x2="209.3" y2="389.2" stroke="#111" stroke-width="0.9"/>
<line x1="207.3" y1="389.2" x2="211.3" y2="389.2" stroke="#111" stroke-width="0.9"/>
<line x1="227.35" y1="427.5" x2="227.35" y2="421.3" stroke="#111" stroke-width="0.9"/>
<line x1="225.35" y1="421.3" x2="229.35" y2="421.3" stroke="#111" stroke-width="0.9"/>
<circle cx="207.2" cy="368.2" r="1.25" fill="#111"/>
<circle cx="211.9" cy="367.9" r="1.25" fill="#111"/>
<circle cx="209.2" cy="390.3" r="1.25" fill="#111"/>
<circle cx="209.2" cy="420.2" r="1.25" fill="#111"/>
<circle cx="209.2" cy="424.8" r="1.25" fill="#111"/>
<circle cx="209.2" cy="433.7" r="1.25" fill="#111"/>
<circle cx="227.3" cy="400.0" r="1.25" fill="#111"/>
<circle cx="227.3" cy="403.8" r="1.25" fill="#111"/>
<circle cx="227.3" cy="408.1" r="1.25" fill="#111"/>
<circle cx="225.8" cy="434.0" r="1.25" fill="#111"/>
<circle cx="228.9" cy="432.9" r="1.25" fill="#111"/>
<circle cx="223.5" cy="440.9" r="1.25" fill="#111"/>
<circle cx="226.6" cy="440.9" r="1.25" fill="#111"/>
<circle cx="231.2" cy="440.9" r="1.25" fill="#111"/>
<path d="M209.2 360.9 L209.2 354.2 L227.6 354.2 L227.6 394.2" fill="none" stroke="#222" stroke-width="0.9"/>
<text x="218.50" y="351.40" font-size="10.0" text-anchor="middle" fill="#111" font-weight="normal" >*</text>
<text transform="translate(172.4,398.0) rotate(-90)" font-size="7.5" text-anchor="middle" fill="#222" textLength="57.3" lengthAdjust="spacingAndGlyphs">GABA:Glutamate</text>
<text transform="translate(210.6,449.2) rotate(-45)" font-size="8.4" text-anchor="end" fill="#222">WT</text>
<text transform="translate(228.6,449.2) rotate(-45)" font-size="8.4" text-anchor="end" fill="#222">P301S</text>
<text x="1.60" y="484.80" font-size="16.3" text-anchor="start" fill="#000" font-weight="normal" >F</text>
<text x="182.90" y="506.60" font-size="15.2" text-anchor="middle" fill="#111" font-weight="normal" textLength="103.5" lengthAdjust="spacingAndGlyphs" >Downregulated</text>
<text x="182.60" y="525.50" font-size="15.2" text-anchor="middle" fill="#111" font-weight="normal" textLength="50.7" lengthAdjust="spacingAndGlyphs" >SynGO</text>
<text x="182.80" y="542.80" font-size="15.2" text-anchor="middle" fill="#111" font-weight="normal" textLength="66.7" lengthAdjust="spacingAndGlyphs" >Pathways</text>
<path d="M45.0 492.4 L55.2 494.0 L65.4 496.8 L75.6 501.6 L85.8 509.4 L96.0 521.3 L106.2 537.6 L116.4 556.9 L126.6 576.0 L136.8 592.1 L147.0 603.8 L157.2 611.5 L167.4 616.1 L177.6 618.9 L187.8 620.4 L198.0 621.2 L198.0 623.1 L187.8 622.2 L177.6 620.7 L167.4 617.9 L157.2 613.3 L147.0 605.6 L136.8 593.8 L126.6 577.7 L116.4 558.4 L106.2 539.1 L96.0 522.8 L85.8 510.8 L75.6 502.9 L65.4 498.1 L55.2 495.4 L45.0 493.8Z" fill="#e6a597" fill-opacity="0.5"/>
<path d="M45.0 496.9 L55.2 498.5 L65.4 501.2 L75.6 505.9 L85.8 513.6 L96.0 525.3 L106.2 541.2 L116.4 560.1 L126.6 578.9 L136.8 594.6 L147.0 606.1 L157.2 613.6 L167.4 618.2 L177.6 620.8 L187.8 622.3 L198.0 623.2 L198.0 625.0 L187.8 624.1 L177.6 622.6 L167.4 620.0 L157.2 615.4 L147.0 607.9 L136.8 596.3 L126.6 580.5 L116.4 561.7 L106.2 542.7 L96.0 526.7 L85.8 515.0 L75.6 507.3 L65.4 502.6 L55.2 499.8 L45.0 498.3Z" fill="#e6a597" fill-opacity="0.5"/>
<path d="M45.0 501.7 L55.2 503.7 L65.4 507.0 L75.6 512.8 L85.8 522.3 L96.0 536.7 L106.2 556.5 L116.4 579.8 L126.6 603.0 L136.8 622.5 L147.0 636.7 L157.2 645.9 L167.4 651.6 L177.6 654.8 L187.8 656.7 L198.0 657.7 L198.0 659.2 L187.8 658.2 L177.6 656.3 L167.4 653.0 L157.2 647.4 L147.0 638.1 L136.8 623.9 L126.6 604.4 L116.4 581.2 L106.2 557.9 L96.0 538.1 L85.8 523.6 L75.6 514.1 L65.4 508.4 L55.2 505.0 L45.0 503.1Z" fill="#86cdb0" fill-opacity="0.5"/>
<path d="M45.0 506.3 L55.2 508.2 L65.4 511.5 L75.6 517.2 L85.8 526.5 L96.0 540.6 L106.2 560.0 L116.4 582.9 L126.6 605.6 L136.8 624.7 L147.0 638.6 L157.2 647.7 L167.4 653.2 L177.6 656.4 L187.8 658.3 L198.0 659.3 L198.0 660.8 L187.8 659.7 L177.6 657.9 L167.4 654.7 L157.2 649.2 L147.0 640.1 L136.8 626.2 L126.6 607.0 L116.4 584.3 L106.2 561.4 L96.0 542.0 L85.8 527.8 L75.6 518.5 L65.4 512.9 L55.2 509.5 L45.0 507.7Z" fill="#86cdb0" fill-opacity="0.5"/>
<path d="M45.0 510.7 L55.2 512.4 L65.4 515.2 L75.6 520.1 L85.8 528.1 L96.0 540.4 L106.2 557.1 L116.4 576.8 L126.6 596.5 L136.8 613.0 L147.0 625.0 L157.2 632.8 L167.4 637.6 L177.6 640.4 L187.8 642.0 L198.0 642.8 L198.0 644.5 L187.8 643.6 L177.6 642.0 L167.4 639.2 L157.2 634.4 L147.0 626.6 L136.8 614.5 L126.6 598.0 L116.4 578.3 L106.2 558.5 L96.0 541.8 L85.8 529.5 L75.6 521.5 L65.4 516.6 L55.2 513.7 L45.0 512.1Z" fill="#97d2dc" fill-opacity="0.5"/>
<path d="M45.0 515.3 L55.2 517.1 L65.4 520.3 L75.6 525.7 L85.8 534.5 L96.0 548.0 L106.2 566.4 L116.4 588.1 L126.6 609.8 L136.8 627.9 L147.0 641.2 L157.2 649.8 L167.4 655.1 L177.6 658.1 L187.8 659.9 L198.0 660.8 L198.0 662.3 L187.8 661.3 L177.6 659.6 L167.4 656.5 L157.2 651.3 L147.0 642.6 L136.8 629.4 L126.6 611.2 L116.4 589.5 L106.2 567.8 L96.0 549.3 L85.8 535.8 L75.6 527.0 L65.4 521.6 L55.2 518.5 L45.0 516.7Z" fill="#86cdb0" fill-opacity="0.5"/>
<path d="M45.0 520.1 L55.2 521.7 L65.4 524.4 L75.6 529.0 L85.8 536.5 L96.0 548.0 L106.2 563.8 L116.4 582.4 L126.6 600.9 L136.8 616.4 L147.0 627.7 L157.2 635.1 L167.4 639.6 L177.6 642.2 L187.8 643.7 L198.0 644.5 L198.0 646.2 L187.8 645.3 L177.6 643.8 L167.4 641.2 L157.2 636.7 L147.0 629.3 L136.8 618.0 L126.6 602.4 L116.4 583.8 L106.2 565.2 L96.0 549.4 L85.8 537.9 L75.6 530.3 L65.4 525.7 L55.2 523.0 L45.0 521.5Z" fill="#97d2dc" fill-opacity="0.5"/>
<path d="M45.0 524.8 L55.2 526.5 L65.4 529.5 L75.6 534.6 L85.8 543.0 L96.0 555.7 L106.2 573.1 L116.4 593.6 L126.6 614.1 L136.8 631.3 L147.0 643.8 L157.2 652.0 L167.4 656.9 L177.6 659.8 L187.8 661.5 L198.0 662.4 L198.0 663.8 L187.8 662.9 L177.6 661.3 L167.4 658.4 L157.2 653.4 L147.0 645.2 L136.8 632.7 L126.6 615.5 L116.4 595.0 L106.2 574.5 L96.0 557.0 L85.8 544.3 L75.6 535.9 L65.4 530.8 L55.2 527.9 L45.0 526.2Z" fill="#86cdb0" fill-opacity="0.5"/>
<path d="M45.0 529.3 L55.2 530.8 L65.4 533.3 L75.6 537.6 L85.8 544.7 L96.0 555.6 L106.2 570.4 L116.4 587.8 L126.6 605.2 L136.8 619.8 L147.0 630.4 L157.2 637.4 L167.4 641.6 L177.6 644.1 L187.8 645.5 L198.0 646.2 L198.0 647.9 L187.8 647.1 L177.6 645.7 L167.4 643.2 L157.2 639.0 L147.0 632.0 L136.8 621.4 L126.6 606.7 L116.4 589.3 L106.2 571.8 L96.0 557.0 L85.8 546.1 L75.6 539.0 L65.4 534.6 L55.2 532.1 L45.0 530.7Z" fill="#97d2dc" fill-opacity="0.5"/>
<path d="M45.0 533.9 L55.2 535.5 L65.4 538.3 L75.6 543.2 L85.8 551.1 L96.0 563.1 L106.2 579.5 L116.4 599.0 L126.6 618.3 L136.8 634.5 L147.0 646.4 L157.2 654.1 L167.4 658.8 L177.6 661.5 L187.8 663.0 L198.0 663.9 L198.0 665.4 L187.8 664.5 L177.6 663.0 L167.4 660.2 L157.2 655.5 L147.0 647.8 L136.8 636.0 L126.6 619.7 L116.4 600.4 L106.2 580.9 L96.0 564.5 L85.8 552.4 L75.6 544.5 L65.4 539.7 L55.2 536.9 L45.0 535.3Z" fill="#86cdb0" fill-opacity="0.5"/>
<path d="M45.0 538.3 L55.2 539.7 L65.4 542.1 L75.6 546.1 L85.8 552.8 L96.0 562.9 L106.2 576.8 L116.4 593.2 L126.6 609.5 L136.8 623.2 L147.0 633.1 L157.2 639.6 L167.4 643.6 L177.6 645.9 L187.8 647.2 L198.0 647.9 L198.0 649.6 L187.8 648.8 L177.6 647.5 L167.4 645.2 L157.2 641.2 L147.0 634.7 L136.8 624.7 L126.6 611.0 L116.4 594.6 L106.2 578.2 L96.0 564.3 L85.8 554.1 L75.6 547.5 L65.4 543.4 L55.2 541.0 L45.0 539.7Z" fill="#97d2dc" fill-opacity="0.5"/>
<path d="M45.0 542.9 L55.2 544.6 L65.4 547.4 L75.6 552.3 L85.8 560.3 L96.0 572.5 L106.2 589.1 L116.4 608.8 L126.6 628.4 L136.8 644.9 L147.0 656.9 L157.2 664.7 L167.4 669.4 L177.6 672.2 L187.8 673.8 L198.0 674.6 L198.0 676.5 L187.8 675.6 L177.6 674.0 L167.4 671.3 L157.2 666.5 L147.0 658.6 L136.8 646.6 L126.6 630.1 L116.4 610.4 L106.2 590.7 L96.0 573.9 L85.8 561.7 L75.6 553.6 L65.4 548.7 L55.2 545.9 L45.0 544.3Z" fill="#a3b3d8" fill-opacity="0.5"/>
<path d="M45.0 547.9 L55.2 548.8 L65.4 550.5 L75.6 553.3 L85.8 558.0 L96.0 565.2 L106.2 574.9 L116.4 586.5 L126.6 598.0 L136.8 607.6 L147.0 614.6 L157.2 619.2 L167.4 622.0 L177.6 623.6 L187.8 624.6 L198.0 625.1 L198.0 626.9 L187.8 626.4 L177.6 625.5 L167.4 623.8 L157.2 621.1 L147.0 616.5 L136.8 609.5 L126.6 599.9 L116.4 588.5 L106.2 577.0 L96.0 567.3 L85.8 560.2 L75.6 555.5 L65.4 552.6 L55.2 551.0 L45.0 550.0Z" fill="#e6a597" fill-opacity="0.5"/>
<path d="M45.0 550.2 L55.2 551.7 L65.4 554.4 L75.6 559.1 L85.8 566.8 L96.0 578.5 L106.2 594.5 L116.4 613.4 L126.6 632.2 L136.8 648.0 L147.0 659.5 L157.2 667.0 L167.4 671.6 L177.6 674.2 L187.8 675.8 L198.0 676.6 L198.0 678.5 L187.8 677.6 L177.6 676.1 L167.4 673.5 L157.2 668.9 L147.0 661.4 L136.8 650.0 L126.6 634.2 L116.4 615.4 L106.2 596.6 L96.0 580.6 L85.8 569.0 L75.6 561.3 L65.4 556.6 L55.2 553.9 L45.0 552.3Z" fill="#a3b3d8" fill-opacity="0.5"/>
<path d="M45.0 555.8 L55.2 557.3 L65.4 560.0 L75.6 564.5 L85.8 572.0 L96.0 583.4 L106.2 598.9 L116.4 617.2 L126.6 635.5 L136.8 650.8 L147.0 662.0 L157.2 669.3 L167.4 673.7 L177.6 676.3 L187.8 677.7 L198.0 678.6 L198.0 680.4 L187.8 679.6 L177.6 678.1 L167.4 675.5 L157.2 671.1 L147.0 663.8 L136.8 652.6 L126.6 637.2 L116.4 618.8 L106.2 600.4 L96.0 584.8 L85.8 573.4 L75.6 565.9 L65.4 561.3 L55.2 558.7 L45.0 557.2Z" fill="#a3b3d8" fill-opacity="0.5"/>
<path d="M45.0 560.0 L55.2 560.9 L65.4 562.3 L75.6 564.8 L85.8 568.9 L96.0 575.1 L106.2 583.5 L116.4 593.5 L126.6 603.5 L136.8 611.9 L147.0 617.9 L157.2 621.9 L167.4 624.3 L177.6 625.7 L187.8 626.5 L198.0 627.0 L198.0 628.8 L187.8 628.3 L177.6 627.5 L167.4 626.1 L157.2 623.7 L147.0 619.7 L136.8 613.7 L126.6 605.3 L116.4 595.3 L106.2 585.3 L96.0 576.9 L85.8 570.7 L75.6 566.6 L65.4 564.1 L55.2 562.7 L45.0 561.9Z" fill="#e6a597" fill-opacity="0.5"/>
<path d="M45.0 561.9 L55.2 563.4 L65.4 566.0 L75.6 570.4 L85.8 577.6 L96.0 588.5 L106.2 603.5 L116.4 621.3 L126.6 638.9 L136.8 653.7 L147.0 664.5 L157.2 671.5 L167.4 675.8 L177.6 678.3 L187.8 679.7 L198.0 680.5 L198.0 682.4 L187.8 681.6 L177.6 680.2 L167.4 677.7 L157.2 673.4 L147.0 666.3 L136.8 655.6 L126.6 640.7 L116.4 623.1 L106.2 605.4 L96.0 590.4 L85.8 579.4 L75.6 572.2 L65.4 567.8 L55.2 565.2 L45.0 563.8Z" fill="#a3b3d8" fill-opacity="0.5"/>
<path d="M45.0 566.2 L55.2 567.0 L65.4 568.4 L75.6 570.7 L85.8 574.5 L96.0 580.3 L106.2 588.2 L116.4 597.6 L126.6 606.9 L136.8 614.7 L147.0 620.4 L157.2 624.1 L167.4 626.4 L177.6 627.7 L187.8 628.5 L198.0 628.9 L198.0 630.7 L187.8 630.3 L177.6 629.5 L167.4 628.2 L157.2 625.9 L147.0 622.2 L136.8 616.5 L126.6 608.7 L116.4 599.3 L106.2 590.0 L96.0 582.0 L85.8 576.2 L75.6 572.4 L65.4 570.1 L55.2 568.7 L45.0 568.0Z" fill="#e6a597" fill-opacity="0.5"/>
<path d="M45.0 568.0 L55.2 569.4 L65.4 571.9 L75.6 576.2 L85.8 583.1 L96.0 593.7 L106.2 608.2 L116.4 625.3 L126.6 642.3 L136.8 656.6 L147.0 667.0 L157.2 673.8 L167.4 677.9 L177.6 680.3 L187.8 681.7 L198.0 682.5 L198.0 684.3 L187.8 683.5 L177.6 682.2 L167.4 679.8 L157.2 675.6 L147.0 668.8 L136.8 658.4 L126.6 644.1 L116.4 627.1 L106.2 610.0 L96.0 595.5 L85.8 584.8 L75.6 577.9 L65.4 573.6 L55.2 571.2 L45.0 569.8Z" fill="#a3b3d8" fill-opacity="0.5"/>
<path d="M45.0 572.6 L55.2 574.0 L65.4 576.4 L75.6 580.6 L85.8 587.4 L96.0 597.7 L106.2 611.9 L116.4 628.6 L126.6 645.2 L136.8 659.2 L147.0 669.3 L157.2 675.9 L167.4 680.0 L177.6 682.3 L187.8 683.7 L198.0 684.4 L198.0 686.3 L187.8 685.5 L177.6 684.2 L167.4 681.8 L157.2 677.8 L147.0 671.1 L136.8 660.9 L126.6 646.9 L116.4 630.1 L106.2 613.4 L96.0 599.2 L85.8 588.8 L75.6 581.9 L65.4 577.8 L55.2 575.3 L45.0 574.0Z" fill="#a3b3d8" fill-opacity="0.5"/>
<path d="M45.0 577.4 L55.2 578.8 L65.4 581.1 L75.6 585.2 L85.8 591.8 L96.0 601.9 L106.2 615.7 L116.4 631.9 L126.6 648.1 L136.8 661.7 L147.0 671.6 L157.2 678.1 L167.4 682.0 L177.6 684.3 L187.8 685.6 L198.0 686.4 L198.0 688.2 L187.8 687.5 L177.6 686.2 L167.4 683.9 L157.2 679.9 L147.0 673.4 L136.8 663.5 L126.6 649.8 L116.4 633.5 L106.2 617.2 L96.0 603.3 L85.8 593.2 L75.6 586.5 L65.4 582.5 L55.2 580.1 L45.0 578.8Z" fill="#a3b3d8" fill-opacity="0.5"/>
<path d="M45.0 582.2 L55.2 583.5 L65.4 585.8 L75.6 589.8 L85.8 596.2 L96.0 606.0 L106.2 619.5 L116.4 635.3 L126.6 651.1 L136.8 664.3 L147.0 674.0 L157.2 680.3 L167.4 684.1 L177.6 686.3 L187.8 687.6 L198.0 688.3 L198.0 690.2 L187.8 689.5 L177.6 688.2 L167.4 685.9 L157.2 682.1 L147.0 675.8 L136.8 666.1 L126.6 652.8 L116.4 636.9 L106.2 621.0 L96.0 607.5 L85.8 597.6 L75.6 591.1 L65.4 587.2 L55.2 584.9 L45.0 583.6Z" fill="#a3b3d8" fill-opacity="0.5"/>
<path d="M45.0 586.6 L55.2 587.9 L65.4 590.1 L75.6 594.0 L85.8 600.3 L96.0 609.9 L106.2 623.0 L116.4 638.5 L126.6 653.9 L136.8 666.8 L147.0 676.3 L157.2 682.4 L167.4 686.2 L177.6 688.3 L187.8 689.6 L198.0 690.3 L198.0 692.1 L187.8 691.4 L177.6 690.2 L167.4 688.0 L157.2 684.2 L147.0 678.1 L136.8 668.6 L126.6 655.6 L116.4 640.1 L106.2 624.5 L96.0 611.3 L85.8 601.7 L75.6 595.4 L65.4 591.5 L55.2 589.2 L45.0 588.0Z" fill="#a3b3d8" fill-opacity="0.5"/>
<path d="M45.0 591.2 L55.2 592.5 L65.4 594.7 L75.6 598.4 L85.8 604.5 L96.0 613.9 L106.2 626.7 L116.4 641.8 L126.6 656.8 L136.8 669.4 L147.0 678.6 L157.2 684.6 L167.4 688.2 L177.6 690.3 L187.8 691.5 L198.0 692.2 L198.0 694.1 L187.8 693.4 L177.6 692.2 L167.4 690.1 L157.2 686.4 L147.0 680.4 L136.8 671.1 L126.6 658.4 L116.4 643.3 L106.2 628.2 L96.0 615.3 L85.8 605.9 L75.6 599.8 L65.4 596.0 L55.2 593.8 L45.0 592.6Z" fill="#a3b3d8" fill-opacity="0.5"/>
<path d="M45.0 596.0 L55.2 597.2 L65.4 599.4 L75.6 603.0 L85.8 609.0 L96.0 618.1 L106.2 630.5 L116.4 645.1 L126.6 659.7 L136.8 672.0 L147.0 680.9 L157.2 686.7 L167.4 690.3 L177.6 692.3 L187.8 693.5 L198.0 694.2 L198.0 696.0 L187.8 695.4 L177.6 694.2 L167.4 692.1 L157.2 688.6 L147.0 682.7 L136.8 673.7 L126.6 661.4 L116.4 646.7 L106.2 632.0 L96.0 619.5 L85.8 610.4 L75.6 604.4 L65.4 600.7 L55.2 598.6 L45.0 597.4Z" fill="#a3b3d8" fill-opacity="0.5"/>
<path d="M45.0 600.3 L55.2 600.7 L65.4 601.3 L75.6 602.5 L85.8 604.3 L96.0 607.1 L106.2 611.0 L116.4 615.6 L126.6 620.1 L136.8 623.9 L147.0 626.7 L157.2 628.5 L167.4 629.6 L177.6 630.2 L187.8 630.6 L198.0 630.8 L198.0 632.6 L187.8 632.4 L177.6 632.0 L167.4 631.4 L157.2 630.3 L147.0 628.5 L136.8 625.7 L126.6 621.9 L116.4 617.3 L106.2 612.7 L96.0 608.8 L85.8 606.0 L75.6 604.1 L65.4 603.0 L55.2 602.3 L45.0 602.0Z" fill="#e6a597" fill-opacity="0.5"/>
<path d="M45.0 602.0 L55.2 603.2 L65.4 605.2 L75.6 608.7 L85.8 614.4 L96.0 623.1 L106.2 635.1 L116.4 649.1 L126.6 663.1 L136.8 674.9 L147.0 683.4 L157.2 689.0 L167.4 692.4 L177.6 694.4 L187.8 695.5 L198.0 696.1 L198.0 698.0 L187.8 697.4 L177.6 696.2 L167.4 694.2 L157.2 690.8 L147.0 685.2 L136.8 676.7 L126.6 664.9 L116.4 650.9 L106.2 636.8 L96.0 624.9 L85.8 616.1 L75.6 610.4 L65.4 606.9 L55.2 604.9 L45.0 603.7Z" fill="#a3b3d8" fill-opacity="0.5"/>
<path d="M45.0 606.6 L55.2 607.8 L65.4 609.7 L75.6 613.1 L85.8 618.7 L96.0 627.1 L106.2 638.7 L116.4 652.4 L126.6 666.0 L136.8 677.4 L147.0 685.7 L157.2 691.2 L167.4 694.5 L177.6 696.4 L187.8 697.5 L198.0 698.1 L198.0 699.9 L187.8 699.3 L177.6 698.2 L167.4 696.3 L157.2 693.0 L147.0 687.5 L136.8 679.1 L126.6 667.7 L116.4 654.0 L106.2 640.2 L96.0 628.6 L85.8 620.1 L75.6 614.5 L65.4 611.1 L55.2 609.1 L45.0 608.0Z" fill="#a3b3d8" fill-opacity="0.5"/>
<path d="M45.0 611.2 L55.2 612.3 L65.4 614.2 L75.6 617.5 L85.8 622.9 L96.0 631.2 L106.2 642.4 L116.4 655.7 L126.6 668.9 L136.8 680.0 L147.0 688.0 L157.2 693.3 L167.4 696.5 L177.6 698.4 L187.8 699.4 L198.0 700.0 L198.0 701.9 L187.8 701.3 L177.6 700.2 L167.4 698.3 L157.2 695.1 L147.0 689.8 L136.8 681.7 L126.6 670.5 L116.4 657.2 L106.2 643.9 L96.0 632.6 L85.8 624.3 L75.6 618.9 L65.4 615.6 L55.2 613.7 L45.0 612.6Z" fill="#a3b3d8" fill-opacity="0.5"/>
<path d="M45.0 616.0 L55.2 617.1 L65.4 618.9 L75.6 622.1 L85.8 627.4 L96.0 635.3 L106.2 646.2 L116.4 659.0 L126.6 671.8 L136.8 682.6 L147.0 690.4 L157.2 695.5 L167.4 698.6 L177.6 700.4 L187.8 701.4 L198.0 702.0 L198.0 703.8 L187.8 703.3 L177.6 702.2 L167.4 700.4 L157.2 697.3 L147.0 692.2 L136.8 684.3 L126.6 673.5 L116.4 660.6 L106.2 647.7 L96.0 636.8 L85.8 628.8 L75.6 623.5 L65.4 620.3 L55.2 618.4 L45.0 617.4Z" fill="#a3b3d8" fill-opacity="0.5"/>
<path d="M45.0 620.5 L55.2 621.6 L65.4 623.4 L75.6 626.5 L85.8 631.5 L96.0 639.2 L106.2 649.8 L116.4 662.3 L126.6 674.7 L136.8 685.1 L147.0 692.7 L157.2 697.6 L167.4 700.6 L177.6 702.4 L187.8 703.4 L198.0 703.9 L198.0 705.8 L187.8 705.2 L177.6 704.2 L167.4 702.5 L157.2 699.4 L147.0 694.5 L136.8 686.8 L126.6 676.3 L116.4 663.9 L106.2 651.3 L96.0 640.7 L85.8 632.9 L75.6 627.8 L65.4 624.7 L55.2 622.9 L45.0 621.9Z" fill="#a3b3d8" fill-opacity="0.5"/>
<path d="M45.0 624.9 L55.2 625.3 L65.4 625.8 L75.6 626.7 L85.8 628.2 L96.0 630.5 L106.2 633.6 L116.4 637.3 L126.6 641.0 L136.8 644.1 L147.0 646.3 L157.2 647.8 L167.4 648.7 L177.6 649.2 L187.8 649.5 L198.0 649.6 L198.0 651.3 L187.8 651.1 L177.6 650.8 L167.4 650.3 L157.2 649.4 L147.0 647.9 L136.8 645.6 L126.6 642.4 L116.4 638.7 L106.2 635.0 L96.0 631.8 L85.8 629.5 L75.6 627.9 L65.4 627.0 L55.2 626.5 L45.0 626.1Z" fill="#97d2dc" fill-opacity="0.5"/>
<path d="M45.0 625.6 L55.2 626.6 L65.4 628.4 L75.6 631.3 L85.8 636.2 L96.0 643.6 L106.2 653.8 L116.4 665.8 L126.6 677.7 L136.8 687.8 L147.0 695.0 L157.2 699.8 L167.4 702.7 L177.6 704.4 L187.8 705.4 L198.0 705.9 L198.0 707.7 L187.8 707.2 L177.6 706.2 L167.4 704.5 L157.2 701.6 L147.0 696.8 L136.8 689.5 L126.6 679.4 L116.4 667.3 L106.2 655.2 L96.0 645.0 L85.8 637.5 L75.6 632.6 L65.4 629.6 L55.2 627.8 L45.0 626.9Z" fill="#a3b3d8" fill-opacity="0.5"/>
<path d="M45.0 629.8 L55.2 630.1 L65.4 630.5 L75.6 631.3 L85.8 632.6 L96.0 634.6 L106.2 637.4 L116.4 640.6 L126.6 643.8 L136.8 646.5 L147.0 648.4 L157.2 649.7 L167.4 650.5 L177.6 650.9 L187.8 651.2 L198.0 651.3 L198.0 653.0 L187.8 652.8 L177.6 652.6 L167.4 652.1 L157.2 651.3 L147.0 650.0 L136.8 648.1 L126.6 645.3 L116.4 642.1 L106.2 638.9 L96.0 636.1 L85.8 634.1 L75.6 632.8 L65.4 632.0 L55.2 631.5 L45.0 631.3Z" fill="#97d2dc" fill-opacity="0.5"/>
<path d="M45.0 631.3 L55.2 632.3 L65.4 633.9 L75.6 636.8 L85.8 641.4 L96.0 648.5 L106.2 658.2 L116.4 669.6 L126.6 681.0 L136.8 690.6 L147.0 697.5 L157.2 702.0 L167.4 704.8 L177.6 706.4 L187.8 707.3 L198.0 707.8 L198.0 709.7 L187.8 709.2 L177.6 708.3 L167.4 706.6 L157.2 703.9 L147.0 699.3 L136.8 692.3 L126.6 682.7 L116.4 671.3 L106.2 659.8 L96.0 650.1 L85.8 642.9 L75.6 638.3 L65.4 635.4 L55.2 633.8 L45.0 632.8Z" fill="#a3b3d8" fill-opacity="0.5"/>
<path d="M45.0 636.2 L55.2 636.2 L65.4 636.1 L75.6 636.0 L85.8 635.8 L96.0 635.4 L106.2 635.0 L116.4 634.5 L126.6 633.9 L136.8 633.5 L147.0 633.2 L157.2 633.0 L167.4 632.8 L177.6 632.8 L187.8 632.7 L198.0 632.7 L198.0 634.5 L187.8 634.5 L177.6 634.6 L167.4 634.6 L157.2 634.8 L147.0 634.9 L136.8 635.2 L126.6 635.6 L116.4 636.0 L106.2 636.5 L96.0 636.9 L85.8 637.2 L75.6 637.3 L65.4 637.5 L55.2 637.5 L45.0 637.6Z" fill="#e6a597" fill-opacity="0.5"/>
<path d="M45.0 637.6 L55.2 638.6 L65.4 640.4 L75.6 643.4 L85.8 648.3 L96.0 655.8 L106.2 666.1 L116.4 678.2 L126.6 690.2 L136.8 700.3 L147.0 707.7 L157.2 712.5 L167.4 715.4 L177.6 717.1 L187.8 718.1 L198.0 718.6 L198.0 720.3 L187.8 719.7 L177.6 718.7 L167.4 717.0 L157.2 714.1 L147.0 709.3 L136.8 701.9 L126.6 691.7 L116.4 679.6 L106.2 667.5 L96.0 657.2 L85.8 649.7 L75.6 644.7 L65.4 641.7 L55.2 640.0 L45.0 639.0Z" fill="#e2c4bb" fill-opacity="0.5"/>
<path d="M45.0 642.1 L55.2 642.1 L65.4 641.9 L75.6 641.6 L85.8 641.2 L96.0 640.5 L106.2 639.5 L116.4 638.4 L126.6 637.3 L136.8 636.3 L147.0 635.6 L157.2 635.2 L167.4 634.9 L177.6 634.8 L187.8 634.7 L198.0 634.6 L198.0 636.4 L187.8 636.5 L177.6 636.6 L167.4 636.7 L157.2 637.0 L147.0 637.4 L136.8 638.1 L126.6 639.0 L116.4 640.1 L106.2 641.2 L96.0 642.1 L85.8 642.8 L75.6 643.2 L65.4 643.5 L55.2 643.7 L45.0 643.8Z" fill="#e6a597" fill-opacity="0.5"/>
<path d="M45.0 643.8 L55.2 644.0 L65.4 644.2 L75.6 644.5 L85.8 645.1 L96.0 645.9 L106.2 647.1 L116.4 648.4 L126.6 649.8 L136.8 651.0 L147.0 651.8 L157.2 652.3 L167.4 652.7 L177.6 652.9 L187.8 653.0 L198.0 653.0 L198.0 654.7 L187.8 654.6 L177.6 654.5 L167.4 654.3 L157.2 654.0 L147.0 653.4 L136.8 652.6 L126.6 651.4 L116.4 650.1 L106.2 648.7 L96.0 647.5 L85.8 646.7 L75.6 646.1 L65.4 645.8 L55.2 645.6 L45.0 645.5Z" fill="#97d2dc" fill-opacity="0.5"/>
<path d="M45.0 648.1 L55.2 648.9 L65.4 650.2 L75.6 652.5 L85.8 656.3 L96.0 662.0 L106.2 669.8 L116.4 679.0 L126.6 688.2 L136.8 695.9 L147.0 701.5 L157.2 705.1 L167.4 707.3 L177.6 708.6 L187.8 709.4 L198.0 709.8 L198.0 711.6 L187.8 711.2 L177.6 710.5 L167.4 709.2 L157.2 707.0 L147.0 703.3 L136.8 697.7 L126.6 690.0 L116.4 680.8 L106.2 671.6 L96.0 663.8 L85.8 658.1 L75.6 654.3 L65.4 652.0 L55.2 650.7 L45.0 650.0Z" fill="#a3b3d8" fill-opacity="0.5"/>
<path d="M45.0 650.0 L55.2 650.9 L65.4 652.4 L75.6 655.0 L85.8 659.3 L96.0 665.8 L106.2 674.7 L116.4 685.2 L126.6 695.7 L136.8 704.5 L147.0 710.8 L157.2 715.0 L167.4 717.6 L177.6 719.0 L187.8 719.9 L198.0 720.3 L198.0 722.0 L187.8 721.5 L177.6 720.7 L167.4 719.2 L157.2 716.6 L147.0 712.5 L136.8 706.1 L126.6 697.4 L116.4 686.9 L106.2 676.5 L96.0 667.6 L85.8 661.1 L75.6 656.8 L65.4 654.2 L55.2 652.7 L45.0 651.9Z" fill="#e2c4bb" fill-opacity="0.5"/>
<path d="M45.0 654.9 L55.2 655.0 L65.4 655.2 L75.6 655.6 L85.8 656.2 L96.0 657.2 L106.2 658.6 L116.4 660.2 L126.6 661.7 L136.8 663.1 L147.0 664.0 L157.2 664.7 L167.4 665.0 L177.6 665.3 L187.8 665.4 L198.0 665.5 L198.0 666.9 L187.8 666.9 L177.6 666.7 L167.4 666.5 L157.2 666.2 L147.0 665.6 L136.8 664.7 L126.6 663.4 L116.4 661.9 L106.2 660.4 L96.0 659.1 L85.8 658.2 L75.6 657.6 L65.4 657.2 L55.2 657.0 L45.0 656.8Z" fill="#86cdb0" fill-opacity="0.5"/>
<path d="M45.0 657.0 L55.2 657.8 L65.4 659.2 L75.6 661.6 L85.8 665.5 L96.0 671.6 L106.2 679.8 L116.4 689.5 L126.6 699.2 L136.8 707.3 L147.0 713.2 L157.2 717.1 L167.4 719.5 L177.6 720.8 L187.8 721.6 L198.0 722.0 L198.0 723.7 L187.8 723.2 L177.6 722.5 L167.4 721.1 L157.2 718.8 L147.0 714.9 L136.8 709.0 L126.6 700.9 L116.4 691.3 L106.2 681.7 L96.0 673.5 L85.8 667.5 L75.6 663.5 L65.4 661.1 L55.2 659.7 L45.0 658.9Z" fill="#e2c4bb" fill-opacity="0.5"/>
<path d="M45.0 662.6 L55.2 662.7 L65.4 662.8 L75.6 662.9 L85.8 663.2 L96.0 663.6 L106.2 664.2 L116.4 664.8 L126.6 665.5 L136.8 666.0 L147.0 666.4 L157.2 666.7 L167.4 666.8 L177.6 666.9 L187.8 667.0 L198.0 667.0 L198.0 668.5 L187.8 668.4 L177.6 668.4 L167.4 668.3 L157.2 668.1 L147.0 667.9 L136.8 667.5 L126.6 666.9 L116.4 666.2 L106.2 665.5 L96.0 665.0 L85.8 664.6 L75.6 664.3 L65.4 664.1 L55.2 664.0 L45.0 664.0Z" fill="#86cdb0" fill-opacity="0.5"/>
<path d="M45.0 667.1 L55.2 667.1 L65.4 667.2 L75.6 667.2 L85.8 667.3 L96.0 667.4 L106.2 667.6 L116.4 667.8 L126.6 668.0 L136.8 668.2 L147.0 668.4 L157.2 668.4 L167.4 668.5 L177.6 668.5 L187.8 668.5 L198.0 668.5 L198.0 670.0 L187.8 670.0 L177.6 670.0 L167.4 670.0 L157.2 670.0 L147.0 669.9 L136.8 669.8 L126.6 669.7 L116.4 669.6 L106.2 669.5 L96.0 669.3 L85.8 669.3 L75.6 669.2 L65.4 669.2 L55.2 669.2 L45.0 669.1Z" fill="#86cdb0" fill-opacity="0.5"/>
<path d="M45.0 669.3 L55.2 669.9 L65.4 671.1 L75.6 673.1 L85.8 676.4 L96.0 681.5 L106.2 688.4 L116.4 696.5 L126.6 704.6 L136.8 711.4 L147.0 716.4 L157.2 719.6 L167.4 721.6 L177.6 722.7 L187.8 723.4 L198.0 723.7 L198.0 725.4 L187.8 725.0 L177.6 724.4 L167.4 723.2 L157.2 721.3 L147.0 718.1 L136.8 713.1 L126.6 706.4 L116.4 698.3 L106.2 690.3 L96.0 683.4 L85.8 678.4 L75.6 675.1 L65.4 673.1 L55.2 672.0 L45.0 671.3Z" fill="#e2c4bb" fill-opacity="0.5"/>
<path d="M45.0 675.0 L55.2 675.5 L65.4 676.3 L75.6 677.6 L85.8 679.9 L96.0 683.3 L106.2 687.9 L116.4 693.4 L126.6 698.9 L136.8 703.4 L147.0 706.8 L157.2 709.0 L167.4 710.3 L177.6 711.1 L187.8 711.5 L198.0 711.7 L198.0 713.6 L187.8 713.4 L177.6 712.9 L167.4 712.1 L157.2 710.8 L147.0 708.6 L136.8 705.2 L126.6 700.5 L116.4 695.0 L106.2 689.4 L96.0 684.7 L85.8 681.3 L75.6 679.0 L65.4 677.6 L55.2 676.8 L45.0 676.4Z" fill="#a3b3d8" fill-opacity="0.5"/>
<path d="M45.0 679.6 L55.2 680.1 L65.4 681.1 L75.6 682.8 L85.8 685.6 L96.0 689.9 L106.2 695.7 L116.4 702.5 L126.6 709.3 L136.8 715.1 L147.0 719.2 L157.2 722.0 L167.4 723.6 L177.6 724.6 L187.8 725.1 L198.0 725.4 L198.0 727.1 L187.8 726.8 L177.6 726.2 L167.4 725.3 L157.2 723.6 L147.0 720.9 L136.8 716.8 L126.6 711.2 L116.4 704.5 L106.2 697.7 L96.0 692.0 L85.8 687.8 L75.6 685.0 L65.4 683.4 L55.2 682.4 L45.0 681.8Z" fill="#e2c4bb" fill-opacity="0.5"/>
<path d="M45.0 682.0 L55.2 682.8 L65.4 684.2 L75.6 686.6 L85.8 690.6 L96.0 696.7 L106.2 705.1 L116.4 714.9 L126.6 724.7 L136.8 733.0 L147.0 738.9 L157.2 742.9 L167.4 745.2 L177.6 746.6 L187.8 747.4 L198.0 747.8 L198.0 749.4 L187.8 749.0 L177.6 748.2 L167.4 746.8 L157.2 744.5 L147.0 740.6 L136.8 734.7 L126.6 726.5 L116.4 716.8 L106.2 707.1 L96.0 698.9 L85.8 692.8 L75.6 688.9 L65.4 686.4 L55.2 685.0 L45.0 684.2Z" fill="#dcf4b4" fill-opacity="0.5"/>
<path d="M45.0 687.6 L55.2 687.0 L65.4 685.9 L75.6 684.0 L85.8 680.9 L96.0 676.2 L106.2 669.7 L116.4 662.1 L126.6 654.5 L136.8 648.1 L147.0 643.4 L157.2 640.4 L167.4 638.6 L177.6 637.5 L187.8 636.9 L198.0 636.5 L198.0 638.3 L187.8 638.7 L177.6 639.3 L167.4 640.4 L157.2 642.2 L147.0 645.2 L136.8 649.8 L126.6 656.2 L116.4 663.8 L106.2 671.4 L96.0 677.8 L85.8 682.6 L75.6 685.6 L65.4 687.5 L55.2 688.6 L45.0 689.3Z" fill="#e6a597" fill-opacity="0.5"/>
<path d="M45.0 689.3 L55.2 690.1 L65.4 691.4 L75.6 693.6 L85.8 697.3 L96.0 702.8 L106.2 710.4 L116.4 719.4 L126.6 728.4 L136.8 735.9 L147.0 741.4 L157.2 744.9 L167.4 747.1 L177.6 748.4 L187.8 749.1 L198.0 749.5 L198.0 751.1 L187.8 750.7 L177.6 749.9 L167.4 748.7 L157.2 746.5 L147.0 742.9 L136.8 737.5 L126.6 730.0 L116.4 721.0 L106.2 712.0 L96.0 704.4 L85.8 698.9 L75.6 695.2 L65.4 693.0 L55.2 691.7 L45.0 691.0Z" fill="#dcf4b4" fill-opacity="0.5"/>
<path d="M45.0 693.6 L55.2 694.3 L65.4 695.6 L75.6 697.7 L85.8 701.2 L96.0 706.5 L106.2 713.8 L116.4 722.4 L126.6 731.0 L136.8 738.1 L147.0 743.4 L157.2 746.8 L167.4 748.9 L177.6 750.1 L187.8 750.8 L198.0 751.1 L198.0 752.7 L187.8 752.3 L177.6 751.6 L167.4 750.4 L157.2 748.3 L147.0 744.9 L136.8 739.7 L126.6 732.4 L116.4 723.9 L106.2 715.2 L96.0 707.9 L85.8 702.6 L75.6 699.1 L65.4 696.9 L55.2 695.7 L45.0 695.0Z" fill="#dcf4b4" fill-opacity="0.5"/>
<path d="M45.0 698.4 L55.2 697.7 L65.4 696.4 L75.6 694.2 L85.8 690.5 L96.0 685.0 L106.2 677.4 L116.4 668.4 L126.6 659.5 L136.8 652.0 L147.0 646.5 L157.2 643.0 L167.4 640.8 L177.6 639.6 L187.8 638.8 L198.0 638.4 L198.0 640.3 L187.8 640.7 L177.6 641.4 L167.4 642.6 L157.2 644.8 L147.0 648.4 L136.8 653.9 L126.6 661.4 L116.4 670.4 L106.2 679.5 L96.0 687.1 L85.8 692.7 L75.6 696.4 L65.4 698.6 L55.2 699.9 L45.0 700.6Z" fill="#e6a597" fill-opacity="0.5"/>
<path d="M45.0 700.8 L55.2 701.4 L65.4 702.5 L75.6 704.5 L85.8 707.6 L96.0 712.4 L106.2 719.0 L116.4 726.8 L126.6 734.5 L136.8 741.0 L147.0 745.8 L157.2 748.9 L167.4 750.7 L177.6 751.8 L187.8 752.4 L198.0 752.8 L198.0 754.4 L187.8 754.0 L177.6 753.4 L167.4 752.3 L157.2 750.5 L147.0 747.4 L136.8 742.8 L126.6 736.3 L116.4 728.7 L106.2 721.0 L96.0 714.5 L85.8 709.8 L75.6 706.6 L65.4 704.7 L55.2 703.6 L45.0 703.0Z" fill="#dcf4b4" fill-opacity="0.5"/>
<path d="M45.0 706.2 L55.2 706.6 L65.4 707.3 L75.6 708.6 L85.8 710.6 L96.0 713.7 L106.2 718.0 L116.4 723.0 L126.6 728.0 L136.8 732.2 L147.0 735.2 L157.2 737.2 L167.4 738.4 L177.6 739.1 L187.8 739.5 L198.0 739.8 L198.0 742.0 L187.8 741.8 L177.6 741.4 L167.4 740.7 L157.2 739.4 L147.0 737.4 L136.8 734.3 L126.6 730.0 L116.4 724.9 L106.2 719.8 L96.0 715.4 L85.8 712.3 L75.6 710.2 L65.4 708.9 L55.2 708.2 L45.0 707.8Z" fill="#bfe8cc" fill-opacity="0.5"/>
<path d="M45.0 707.8 L55.2 708.5 L65.4 709.6 L75.6 711.5 L85.8 714.7 L96.0 719.5 L106.2 726.1 L116.4 733.9 L126.6 741.7 L136.8 748.2 L147.0 752.9 L157.2 756.0 L167.4 757.9 L177.6 759.0 L187.8 759.6 L198.0 759.9 L198.0 761.5 L187.8 761.2 L177.6 760.6 L167.4 759.5 L157.2 757.6 L147.0 754.5 L136.8 749.7 L126.6 743.2 L116.4 735.5 L106.2 727.7 L96.0 721.1 L85.8 716.3 L75.6 713.1 L65.4 711.2 L55.2 710.0 L45.0 709.4Z" fill="#e2b88a" fill-opacity="0.5"/>
<path d="M45.0 712.3 L55.2 712.9 L65.4 714.0 L75.6 715.8 L85.8 718.8 L96.0 723.4 L106.2 729.6 L116.4 737.0 L126.6 744.3 L136.8 750.5 L147.0 755.0 L157.2 757.9 L167.4 759.7 L177.6 760.7 L187.8 761.3 L198.0 761.6 L198.0 763.2 L187.8 762.9 L177.6 762.3 L167.4 761.2 L157.2 759.4 L147.0 756.5 L136.8 752.0 L126.6 745.8 L116.4 738.4 L106.2 731.0 L96.0 724.8 L85.8 720.2 L75.6 717.2 L65.4 715.3 L55.2 714.3 L45.0 713.7Z" fill="#e2b88a" fill-opacity="0.5"/>
<path d="M45.0 717.2 L55.2 717.3 L65.4 717.5 L75.6 717.9 L85.8 718.5 L96.0 719.4 L106.2 720.7 L116.4 722.2 L126.6 723.6 L136.8 724.9 L147.0 725.8 L157.2 726.4 L167.4 726.7 L177.6 727.0 L187.8 727.1 L198.0 727.1 L198.0 728.8 L187.8 728.7 L177.6 728.6 L167.4 728.4 L157.2 728.0 L147.0 727.5 L136.8 726.6 L126.6 725.4 L116.4 724.0 L106.2 722.5 L96.0 721.3 L85.8 720.4 L75.6 719.9 L65.4 719.5 L55.2 719.3 L45.0 719.2Z" fill="#e2c4bb" fill-opacity="0.5"/>
<path d="M45.0 719.3 L55.2 719.4 L65.4 719.7 L75.6 720.2 L85.8 720.9 L96.0 722.1 L106.2 723.7 L116.4 725.6 L126.6 727.4 L136.8 729.0 L147.0 730.2 L157.2 730.9 L167.4 731.4 L177.6 731.6 L187.8 731.8 L198.0 731.9 L198.0 734.0 L187.8 733.9 L177.6 733.8 L167.4 733.5 L157.2 733.0 L147.0 732.3 L136.8 731.1 L126.6 729.5 L116.4 727.7 L106.2 725.8 L96.0 724.2 L85.8 723.0 L75.6 722.2 L65.4 721.7 L55.2 721.5 L45.0 721.3Z" fill="#98aade" fill-opacity="0.5"/>
<path d="M45.0 721.4 L55.2 721.7 L65.4 722.1 L75.6 722.9 L85.8 724.2 L96.0 726.1 L106.2 728.7 L116.4 731.8 L126.6 734.9 L136.8 737.5 L147.0 739.4 L157.2 740.6 L167.4 741.3 L177.6 741.8 L187.8 742.0 L198.0 742.2 L198.0 744.4 L187.8 744.3 L177.6 744.0 L167.4 743.6 L157.2 742.8 L147.0 741.6 L136.8 739.7 L126.6 737.1 L116.4 733.9 L106.2 730.8 L96.0 728.2 L85.8 726.2 L75.6 724.9 L65.4 724.2 L55.2 723.7 L45.0 723.4Z" fill="#bfe8cc" fill-opacity="0.5"/>
<path d="M45.0 726.7 L55.2 726.0 L65.4 724.8 L75.6 722.7 L85.8 719.2 L96.0 714.0 L106.2 706.8 L116.4 698.4 L126.6 690.0 L136.8 682.9 L147.0 677.7 L157.2 674.4 L167.4 672.3 L177.6 671.1 L187.8 670.5 L198.0 670.1 L198.0 671.6 L187.8 671.9 L177.6 672.6 L167.4 673.8 L157.2 675.8 L147.0 679.2 L136.8 684.4 L126.6 691.4 L116.4 699.8 L106.2 708.3 L96.0 715.5 L85.8 720.7 L75.6 724.1 L65.4 726.2 L55.2 727.5 L45.0 728.2Z" fill="#86cdb0" fill-opacity="0.5"/>
<path d="M45.0 728.2 L55.2 728.7 L65.4 729.6 L75.6 731.0 L85.8 733.4 L96.0 737.1 L106.2 742.1 L116.4 748.0 L126.6 753.8 L136.8 758.7 L147.0 762.3 L157.2 764.7 L167.4 766.1 L177.6 766.9 L187.8 767.4 L198.0 767.7 L198.0 769.7 L187.8 769.5 L177.6 769.0 L167.4 768.2 L157.2 766.7 L147.0 764.3 L136.8 760.7 L126.6 755.7 L116.4 749.7 L106.2 743.8 L96.0 738.7 L85.8 735.0 L75.6 732.6 L65.4 731.1 L55.2 730.2 L45.0 729.7Z" fill="#e6d0b0" fill-opacity="0.5"/>
<path d="M45.0 733.1 L55.2 733.6 L65.4 734.4 L75.6 735.7 L85.8 738.0 L96.0 741.4 L106.2 746.0 L116.4 751.5 L126.6 757.0 L136.8 761.6 L147.0 764.9 L157.2 767.1 L167.4 768.4 L177.6 769.2 L187.8 769.6 L198.0 769.9 L198.0 771.9 L187.8 771.7 L177.6 771.2 L167.4 770.5 L157.2 769.1 L147.0 766.9 L136.8 763.5 L126.6 758.8 L116.4 753.2 L106.2 747.6 L96.0 742.9 L85.8 739.4 L75.6 737.1 L65.4 735.7 L55.2 734.9 L45.0 734.5Z" fill="#e6d0b0" fill-opacity="0.5"/>
<path d="M45.0 737.4 L55.2 737.9 L65.4 738.6 L75.6 739.9 L85.8 742.0 L96.0 745.2 L106.2 749.6 L116.4 754.8 L126.6 759.9 L136.8 764.2 L147.0 767.4 L157.2 769.4 L167.4 770.7 L177.6 771.4 L187.8 771.8 L198.0 772.1 L198.0 774.1 L187.8 773.9 L177.6 773.5 L167.4 772.7 L157.2 771.5 L147.0 769.4 L136.8 766.1 L126.6 761.7 L116.4 756.5 L106.2 751.2 L96.0 746.7 L85.8 743.4 L75.6 741.3 L65.4 740.0 L55.2 739.2 L45.0 738.8Z" fill="#e6d0b0" fill-opacity="0.5"/>
<path d="M45.0 742.0 L55.2 741.9 L65.4 741.8 L75.6 741.5 L85.8 741.0 L96.0 740.3 L106.2 739.3 L116.4 738.1 L126.6 736.9 L136.8 735.9 L147.0 735.2 L157.2 734.7 L167.4 734.4 L177.6 734.3 L187.8 734.2 L198.0 734.1 L198.0 736.2 L187.8 736.3 L177.6 736.4 L167.4 736.5 L157.2 736.8 L147.0 737.2 L136.8 737.9 L126.6 738.7 L116.4 739.8 L106.2 740.9 L96.0 741.8 L85.8 742.4 L75.6 742.9 L65.4 743.1 L55.2 743.3 L45.0 743.4Z" fill="#98aade" fill-opacity="0.5"/>
<path d="M45.0 746.7 L55.2 746.3 L65.4 745.6 L75.6 744.4 L85.8 742.4 L96.0 739.3 L106.2 735.1 L116.4 730.2 L126.6 725.3 L136.8 721.2 L147.0 718.2 L157.2 716.2 L167.4 715.0 L177.6 714.3 L187.8 713.9 L198.0 713.7 L198.0 715.6 L187.8 715.8 L177.6 716.2 L167.4 716.8 L157.2 718.0 L147.0 719.9 L136.8 722.9 L126.6 727.0 L116.4 731.8 L106.2 736.7 L96.0 740.8 L85.8 743.8 L75.6 745.8 L65.4 747.0 L55.2 747.7 L45.0 748.1Z" fill="#a3b3d8" fill-opacity="0.5"/>
<path d="M45.0 748.1 L55.2 748.5 L65.4 749.1 L75.6 750.2 L85.8 752.0 L96.0 754.6 L106.2 758.3 L116.4 762.6 L126.6 767.0 L136.8 770.6 L147.0 773.2 L157.2 774.9 L167.4 776.0 L177.6 776.6 L187.8 776.9 L198.0 777.1 L198.0 778.8 L187.8 778.6 L177.6 778.2 L167.4 777.6 L157.2 776.5 L147.0 774.8 L136.8 772.1 L126.6 768.5 L116.4 764.1 L106.2 759.7 L96.0 756.0 L85.8 753.3 L75.6 751.5 L65.4 750.5 L55.2 749.8 L45.0 749.5Z" fill="#7fb0dc" fill-opacity="0.5"/>
<path d="M45.0 752.9 L55.2 753.3 L65.4 754.0 L75.6 755.1 L85.8 757.0 L96.0 759.8 L106.2 763.7 L116.4 768.4 L126.6 772.9 L136.8 776.8 L147.0 779.6 L157.2 781.4 L167.4 782.5 L177.6 783.2 L187.8 783.5 L198.0 783.8 L198.0 785.8 L187.8 785.6 L177.6 785.2 L167.4 784.6 L157.2 783.4 L147.0 781.6 L136.8 778.7 L126.6 774.7 L116.4 770.0 L106.2 765.3 L96.0 761.3 L85.8 758.4 L75.6 756.5 L65.4 755.3 L55.2 754.7 L45.0 754.3Z" fill="#f0aa66" fill-opacity="0.5"/>
<path d="M45.0 757.4 L55.2 757.8 L65.4 758.4 L75.6 759.5 L85.8 761.2 L96.0 763.8 L106.2 767.4 L116.4 771.7 L126.6 775.9 L136.8 779.5 L147.0 782.1 L157.2 783.8 L167.4 784.8 L177.6 785.4 L187.8 785.7 L198.0 785.9 L198.0 788.0 L187.8 787.8 L177.6 787.4 L167.4 786.8 L157.2 785.8 L147.0 784.0 L136.8 781.4 L126.6 777.7 L116.4 773.4 L106.2 769.0 L96.0 765.3 L85.8 762.6 L75.6 760.8 L65.4 759.8 L55.2 759.1 L45.0 758.8Z" fill="#f0aa66" fill-opacity="0.5"/>
<path d="M45.0 762.1 L55.2 762.5 L65.4 763.0 L75.6 764.0 L85.8 765.6 L96.0 768.0 L106.2 771.2 L116.4 775.1 L126.6 779.0 L136.8 782.2 L147.0 784.6 L157.2 786.1 L167.4 787.1 L177.6 787.6 L187.8 787.9 L198.0 788.1 L198.0 790.1 L187.8 790.0 L177.6 789.6 L167.4 789.1 L157.2 788.1 L147.0 786.5 L136.8 784.1 L126.6 780.8 L116.4 776.8 L106.2 772.8 L96.0 769.5 L85.8 767.0 L75.6 765.4 L65.4 764.4 L55.2 763.8 L45.0 763.5Z" fill="#f0aa66" fill-opacity="0.5"/>
<path d="M45.0 767.1 L55.2 767.1 L65.4 767.0 L75.6 766.8 L85.8 766.6 L96.0 766.2 L106.2 765.8 L116.4 765.2 L126.6 764.6 L136.8 764.1 L147.0 763.8 L157.2 763.6 L167.4 763.4 L177.6 763.3 L187.8 763.3 L198.0 763.3 L198.0 764.9 L187.8 764.9 L177.6 764.9 L167.4 765.0 L157.2 765.2 L147.0 765.5 L136.8 765.8 L126.6 766.4 L116.4 767.0 L106.2 767.7 L96.0 768.3 L85.8 768.7 L75.6 768.9 L65.4 769.1 L55.2 769.2 L45.0 769.2Z" fill="#e2b88a" fill-opacity="0.5"/>
<path d="M45.0 769.4 L55.2 769.6 L65.4 770.2 L75.6 771.0 L85.8 772.5 L96.0 774.6 L106.2 777.6 L116.4 781.2 L126.6 784.7 L136.8 787.6 L147.0 789.8 L157.2 791.2 L167.4 792.0 L177.6 792.5 L187.8 792.8 L198.0 792.9 L198.0 794.7 L187.8 794.5 L177.6 794.2 L167.4 793.7 L157.2 792.9 L147.0 791.5 L136.8 789.4 L126.6 786.5 L116.4 783.1 L106.2 779.6 L96.0 776.7 L85.8 774.5 L75.6 773.1 L65.4 772.3 L55.2 771.8 L45.0 771.5Z" fill="#77cc77" fill-opacity="0.5"/>
<path d="M45.0 774.6 L55.2 774.6 L65.4 774.7 L75.6 774.9 L85.8 775.1 L96.0 775.5 L106.2 776.1 L116.4 776.7 L126.6 777.3 L136.8 777.9 L147.0 778.3 L157.2 778.5 L167.4 778.7 L177.6 778.8 L187.8 778.8 L198.0 778.8 L198.0 780.5 L187.8 780.4 L177.6 780.4 L167.4 780.3 L157.2 780.2 L147.0 780.0 L136.8 779.7 L126.6 779.2 L116.4 778.7 L106.2 778.2 L96.0 777.7 L85.8 777.4 L75.6 777.2 L65.4 777.1 L55.2 777.0 L45.0 776.9Z" fill="#7fb0dc" fill-opacity="0.5"/>
<path d="M45.0 777.1 L55.2 777.3 L65.4 777.7 L75.6 778.3 L85.8 779.4 L96.0 781.0 L106.2 783.3 L116.4 785.9 L126.6 788.5 L136.8 790.7 L147.0 792.4 L157.2 793.4 L167.4 794.0 L177.6 794.4 L187.8 794.6 L198.0 794.7 L198.0 796.5 L187.8 796.3 L177.6 796.1 L167.4 795.8 L157.2 795.2 L147.0 794.2 L136.8 792.6 L126.6 790.5 L116.4 788.0 L106.2 785.4 L96.0 783.3 L85.8 781.7 L75.6 780.6 L65.4 780.0 L55.2 779.6 L45.0 779.4Z" fill="#77cc77" fill-opacity="0.5"/>
<path d="M45.0 782.5 L55.2 782.1 L65.4 781.5 L75.6 780.5 L85.8 778.8 L96.0 776.2 L106.2 772.6 L116.4 768.5 L126.6 764.3 L136.8 760.8 L147.0 758.2 L157.2 756.6 L167.4 755.6 L177.6 755.0 L187.8 754.6 L198.0 754.4 L198.0 756.0 L187.8 756.2 L177.6 756.5 L167.4 757.1 L157.2 758.1 L147.0 759.8 L136.8 762.3 L126.6 765.8 L116.4 770.0 L106.2 774.2 L96.0 777.7 L85.8 780.3 L75.6 782.0 L65.4 783.0 L55.2 783.6 L45.0 784.0Z" fill="#dcf4b4" fill-opacity="0.5"/>
<path d="M45.0 784.0 L55.2 784.2 L65.4 784.6 L75.6 785.1 L85.8 786.1 L96.0 787.5 L106.2 789.4 L116.4 791.7 L126.6 794.0 L136.8 796.0 L147.0 797.4 L157.2 798.3 L167.4 798.8 L177.6 799.2 L187.8 799.3 L198.0 799.4 L198.0 801.0 L187.8 800.9 L177.6 800.7 L167.4 800.4 L157.2 799.8 L147.0 798.9 L136.8 797.5 L126.6 795.6 L116.4 793.3 L106.2 790.9 L96.0 789.0 L85.8 787.6 L75.6 786.6 L65.4 786.0 L55.2 785.7 L45.0 785.5Z" fill="#e07a82" fill-opacity="0.5"/>
<path d="M45.0 789.1 L55.2 789.2 L65.4 789.5 L75.6 789.9 L85.8 790.7 L96.0 791.8 L106.2 793.3 L116.4 795.1 L126.6 796.9 L136.8 798.4 L147.0 799.5 L157.2 800.2 L167.4 800.6 L177.6 800.9 L187.8 801.0 L198.0 801.1 L198.0 802.7 L187.8 802.6 L177.6 802.4 L167.4 802.2 L157.2 801.7 L147.0 801.0 L136.8 799.9 L126.6 798.4 L116.4 796.6 L106.2 794.7 L96.0 793.2 L85.8 792.1 L75.6 791.3 L65.4 790.9 L55.2 790.6 L45.0 790.5Z" fill="#e07a82" fill-opacity="0.5"/>
<path d="M45.0 790.5 L55.2 790.8 L65.4 791.2 L75.6 791.8 L85.8 793.0 L96.0 794.7 L106.2 797.0 L116.4 799.8 L126.6 802.5 L136.8 804.8 L147.0 806.5 L157.2 807.6 L167.4 808.3 L177.6 808.7 L187.8 808.9 L198.0 809.0 L198.0 810.2 L187.8 810.1 L177.6 809.9 L167.4 809.5 L157.2 808.8 L147.0 807.7 L136.8 806.1 L126.6 803.8 L116.4 801.1 L106.2 798.3 L96.0 796.0 L85.8 794.3 L75.6 793.2 L65.4 792.5 L55.2 792.1 L45.0 791.9Z" fill="#b090e0" fill-opacity="0.5"/>
<path d="M45.0 794.9 L55.2 795.0 L65.4 795.2 L75.6 795.5 L85.8 796.0 L96.0 796.7 L106.2 797.7 L116.4 798.8 L126.6 800.0 L136.8 801.0 L147.0 801.7 L157.2 802.2 L167.4 802.4 L177.6 802.6 L187.8 802.7 L198.0 802.7 L198.0 804.3 L187.8 804.3 L177.6 804.2 L167.4 804.0 L157.2 803.7 L147.0 803.2 L136.8 802.5 L126.6 801.6 L116.4 800.4 L106.2 799.2 L96.0 798.2 L85.8 797.5 L75.6 797.0 L65.4 796.7 L55.2 796.6 L45.0 796.5Z" fill="#e07a82" fill-opacity="0.5"/>
<path d="M45.0 799.8 L55.2 799.3 L65.4 798.3 L75.6 796.7 L85.8 794.0 L96.0 790.0 L106.2 784.5 L116.4 777.9 L126.6 771.4 L136.8 766.0 L147.0 762.0 L157.2 759.4 L167.4 757.8 L177.6 756.9 L187.8 756.4 L198.0 756.1 L198.0 757.7 L187.8 758.0 L177.6 758.5 L167.4 759.4 L157.2 761.0 L147.0 763.6 L136.8 767.7 L126.6 773.2 L116.4 779.8 L106.2 786.4 L96.0 792.0 L85.8 796.1 L75.6 798.8 L65.4 800.4 L55.2 801.4 L45.0 801.9Z" fill="#dcf4b4" fill-opacity="0.5"/>
<path d="M45.0 802.1 L55.2 802.2 L65.4 802.3 L75.6 802.6 L85.8 803.1 L96.0 803.9 L106.2 804.9 L116.4 806.1 L126.6 807.3 L136.8 808.4 L147.0 809.1 L157.2 809.6 L167.4 809.9 L177.6 810.0 L187.8 810.1 L198.0 810.2 L198.0 811.4 L187.8 811.4 L177.6 811.3 L167.4 811.1 L157.2 810.9 L147.0 810.4 L136.8 809.8 L126.6 808.9 L116.4 807.8 L106.2 806.7 L96.0 805.8 L85.8 805.1 L75.6 804.7 L65.4 804.4 L55.2 804.3 L45.0 804.2Z" fill="#b090e0" fill-opacity="0.5"/>
<path d="M45.0 807.7 L55.2 807.6 L65.4 807.5 L75.6 807.4 L85.8 807.2 L96.0 806.9 L106.2 806.5 L116.4 806.0 L126.6 805.5 L136.8 805.1 L147.0 804.8 L157.2 804.6 L167.4 804.5 L177.6 804.5 L187.8 804.4 L198.0 804.4 L198.0 806.0 L187.8 806.0 L177.6 806.0 L167.4 806.1 L157.2 806.3 L147.0 806.5 L136.8 806.8 L126.6 807.3 L116.4 807.9 L106.2 808.5 L96.0 809.0 L85.8 809.3 L75.6 809.6 L65.4 809.7 L55.2 809.8 L45.0 809.8Z" fill="#e07a82" fill-opacity="0.5"/>
<path d="M45.0 810.0 L55.2 810.0 L65.4 810.0 L75.6 810.1 L85.8 810.1 L96.0 810.3 L106.2 810.5 L116.4 810.7 L126.6 810.9 L136.8 811.1 L147.0 811.2 L157.2 811.3 L167.4 811.3 L177.6 811.4 L187.8 811.4 L198.0 811.4 L198.0 812.6 L187.8 812.6 L177.6 812.6 L167.4 812.6 L157.2 812.6 L147.0 812.5 L136.8 812.5 L126.6 812.4 L116.4 812.4 L106.2 812.3 L96.0 812.2 L85.8 812.2 L75.6 812.2 L65.4 812.2 L55.2 812.1 L45.0 812.1Z" fill="#b090e0" fill-opacity="0.5"/>
<rect x="38.1" y="492.40" width="6.9" height="1.40" fill="#f0a868"/>
<text x="36.7" y="495.10" font-size="5.6" text-anchor="end" fill="#222" style="stroke-width:0.08px" textLength="19.44" lengthAdjust="spacingAndGlyphs">CDK5R2</text>
<rect x="38.1" y="496.90" width="6.9" height="1.40" fill="#eeee22"/>
<text x="36.7" y="499.60" font-size="5.6" text-anchor="end" fill="#222" style="stroke-width:0.08px" textLength="15.34" lengthAdjust="spacingAndGlyphs">VPS18</text>
<rect x="38.1" y="501.70" width="6.9" height="1.40" fill="#6699ee"/>
<text x="36.7" y="504.40" font-size="5.6" text-anchor="end" fill="#222" style="stroke-width:0.08px" textLength="15.06" lengthAdjust="spacingAndGlyphs">GRIN1</text>
<rect x="38.1" y="506.30" width="6.9" height="1.40" fill="#55eebb"/>
<text x="36.7" y="509.00" font-size="5.6" text-anchor="end" fill="#222" style="stroke-width:0.08px" textLength="19.17" lengthAdjust="spacingAndGlyphs">CELSR3</text>
<rect x="38.1" y="510.70" width="6.9" height="1.40" fill="#4477bb"/>
<text x="36.7" y="513.40" font-size="5.6" text-anchor="end" fill="#222" style="stroke-width:0.08px" textLength="22.73" lengthAdjust="spacingAndGlyphs">TMEM240</text>
<rect x="38.1" y="515.30" width="6.9" height="1.40" fill="#f6f6ec"/>
<text x="36.7" y="518.00" font-size="5.6" text-anchor="end" fill="#222" style="stroke-width:0.08px" textLength="17.25" lengthAdjust="spacingAndGlyphs">CSMD2</text>
<rect x="38.1" y="520.10" width="6.9" height="1.40" fill="#aa33ee"/>
<text x="36.7" y="522.80" font-size="5.6" text-anchor="end" fill="#222" style="stroke-width:0.08px" textLength="17.52" lengthAdjust="spacingAndGlyphs">CHRM4</text>
<rect x="38.1" y="524.80" width="6.9" height="1.40" fill="#2222ee"/>
<text x="36.7" y="527.50" font-size="5.6" text-anchor="end" fill="#222" style="stroke-width:0.08px" textLength="16.16" lengthAdjust="spacingAndGlyphs">LRRC7</text>
<rect x="38.1" y="529.30" width="6.9" height="1.40" fill="#99dd44"/>
<text x="36.7" y="532.00" font-size="5.6" text-anchor="end" fill="#222" style="stroke-width:0.08px" textLength="18.90" lengthAdjust="spacingAndGlyphs">CLSTN3</text>
<rect x="38.1" y="533.90" width="6.9" height="1.40" fill="#44aa44"/>
<text x="36.7" y="536.60" font-size="5.6" text-anchor="end" fill="#222" style="stroke-width:0.08px" textLength="12.33" lengthAdjust="spacingAndGlyphs">LRP1</text>
<rect x="38.1" y="538.30" width="6.9" height="1.40" fill="#eef8f8"/>
<text x="36.7" y="541.00" font-size="5.6" text-anchor="end" fill="#222" style="stroke-width:0.08px" textLength="16.16" lengthAdjust="spacingAndGlyphs">KCNT1</text>
<rect x="38.1" y="542.90" width="6.9" height="1.40" fill="#f0d8b0"/>
<text x="36.7" y="545.60" font-size="5.6" text-anchor="end" fill="#222" style="stroke-width:0.08px" textLength="13.69" lengthAdjust="spacingAndGlyphs">NGEF</text>
<rect x="38.1" y="547.80" width="6.9" height="4.60" fill="#c8c8c8"/>
<text x="36.7" y="552.10" font-size="5.6" text-anchor="end" fill="#222" style="stroke-width:0.08px" textLength="12.60" lengthAdjust="spacingAndGlyphs">PFN1</text>
<rect x="38.1" y="555.80" width="6.9" height="1.40" fill="#9966cc"/>
<text x="36.7" y="558.50" font-size="5.6" text-anchor="end" fill="#222" style="stroke-width:0.08px" textLength="16.71" lengthAdjust="spacingAndGlyphs">MAP1B</text>
<rect x="38.1" y="560.00" width="6.9" height="3.80" fill="#bb55ee"/>
<text x="36.7" y="563.90" font-size="5.6" text-anchor="end" fill="#222" style="stroke-width:0.08px" textLength="19.99" lengthAdjust="spacingAndGlyphs">CACNB1</text>
<rect x="38.1" y="566.20" width="6.9" height="3.60" fill="#aa3366"/>
<text x="36.7" y="570.00" font-size="5.6" text-anchor="end" fill="#222" style="stroke-width:0.08px" textLength="15.61" lengthAdjust="spacingAndGlyphs">AP3D1</text>
<rect x="38.1" y="572.60" width="6.9" height="1.40" fill="#ff22ff"/>
<text x="36.7" y="575.30" font-size="5.6" text-anchor="end" fill="#222" style="stroke-width:0.08px" textLength="15.06" lengthAdjust="spacingAndGlyphs">MINK1</text>
<rect x="38.1" y="577.40" width="6.9" height="1.40" fill="#66ffff"/>
<text x="36.7" y="580.10" font-size="5.6" text-anchor="end" fill="#222" style="stroke-width:0.08px" textLength="24.65" lengthAdjust="spacingAndGlyphs">KIDINS220</text>
<rect x="38.1" y="582.20" width="6.9" height="1.40" fill="#33ff33"/>
<text x="36.7" y="584.90" font-size="5.6" text-anchor="end" fill="#222" style="stroke-width:0.08px" textLength="12.87" lengthAdjust="spacingAndGlyphs">APC2</text>
<rect x="38.1" y="586.60" width="6.9" height="1.40" fill="#aaccee"/>
<text x="36.7" y="589.30" font-size="5.6" text-anchor="end" fill="#222" style="stroke-width:0.08px" textLength="18.80" lengthAdjust="spacingAndGlyphs">SPTAN1</text>
<rect x="38.1" y="591.20" width="6.9" height="1.40" fill="#227722"/>
<text x="36.7" y="593.90" font-size="5.6" text-anchor="end" fill="#222" style="stroke-width:0.08px" textLength="14.24" lengthAdjust="spacingAndGlyphs">NCDN</text>
<rect x="38.1" y="596.00" width="6.9" height="1.40" fill="#aaaa55"/>
<text x="36.7" y="598.70" font-size="5.6" text-anchor="end" fill="#222" style="stroke-width:0.08px" textLength="13.69" lengthAdjust="spacingAndGlyphs">KIF1A</text>
<rect x="38.1" y="600.25" width="6.9" height="3.50" fill="#aaeeaa"/>
<text x="36.7" y="604.00" font-size="5.6" text-anchor="end" fill="#222" style="stroke-width:0.08px" textLength="15.34" lengthAdjust="spacingAndGlyphs">VPS52</text>
<rect x="38.1" y="606.60" width="6.9" height="1.40" fill="#dddddd"/>
<text x="36.7" y="609.30" font-size="5.6" text-anchor="end" fill="#222" style="stroke-width:0.08px" textLength="13.05" lengthAdjust="spacingAndGlyphs">PALM</text>
<rect x="38.1" y="611.20" width="6.9" height="1.40" fill="#dd3333"/>
<text x="36.7" y="613.90" font-size="5.6" text-anchor="end" fill="#222" style="stroke-width:0.08px" textLength="13.69" lengthAdjust="spacingAndGlyphs">PURA</text>
<rect x="38.1" y="616.00" width="6.9" height="1.40" fill="#7777ff"/>
<text x="36.7" y="618.70" font-size="5.6" text-anchor="end" fill="#222" style="stroke-width:0.08px" textLength="17.99" lengthAdjust="spacingAndGlyphs">ATP1A3</text>
<rect x="38.1" y="620.50" width="6.9" height="1.40" fill="#eeddaa"/>
<text x="36.7" y="623.20" font-size="5.6" text-anchor="end" fill="#222" style="stroke-width:0.08px" textLength="23.28" lengthAdjust="spacingAndGlyphs">CACNA1A</text>
<rect x="38.1" y="625.20" width="6.9" height="1.40" fill="#44cccc"/>
<text x="36.7" y="627.90" font-size="5.6" text-anchor="end" fill="#222" style="stroke-width:0.08px" textLength="23.28" lengthAdjust="spacingAndGlyphs">RASGRF1</text>
<rect x="38.1" y="629.75" width="6.9" height="3.10" fill="#448855"/>
<text x="36.7" y="633.30" font-size="5.6" text-anchor="end" fill="#222" style="stroke-width:0.08px" textLength="16.16" lengthAdjust="spacingAndGlyphs">RGS14</text>
<rect x="38.1" y="636.20" width="6.9" height="2.80" fill="#dd6622"/>
<text x="36.7" y="639.60" font-size="5.6" text-anchor="end" fill="#222" style="stroke-width:0.08px" textLength="17.26" lengthAdjust="spacingAndGlyphs">BAIAP2</text>
<rect x="38.1" y="642.10" width="6.9" height="3.40" fill="#335544"/>
<text x="36.7" y="645.80" font-size="5.6" text-anchor="end" fill="#222" style="stroke-width:0.08px" textLength="19.09" lengthAdjust="spacingAndGlyphs">SIPA1L2</text>
<rect x="38.1" y="648.10" width="6.9" height="3.80" fill="#aaffaa"/>
<text x="36.7" y="652.00" font-size="5.6" text-anchor="end" fill="#222" style="stroke-width:0.08px" textLength="23.28" lengthAdjust="spacingAndGlyphs">ARHGEF2</text>
<rect x="38.1" y="654.80" width="6.9" height="4.20" fill="#eeaadd"/>
<text x="36.7" y="658.90" font-size="5.6" text-anchor="end" fill="#222" style="stroke-width:0.08px" textLength="15.61" lengthAdjust="spacingAndGlyphs">PTK2B</text>
<rect x="38.1" y="662.60" width="6.9" height="1.40" fill="#eeeecc"/>
<text x="36.7" y="665.30" font-size="5.6" text-anchor="end" fill="#222" style="stroke-width:0.08px" textLength="13.15" lengthAdjust="spacingAndGlyphs">PRR7</text>
<rect x="38.1" y="667.05" width="6.9" height="4.30" fill="#99ddee"/>
<text x="36.7" y="671.20" font-size="5.6" text-anchor="end" fill="#222" style="stroke-width:0.08px" textLength="19.45" lengthAdjust="spacingAndGlyphs">DLGAP2</text>
<rect x="38.1" y="675.00" width="6.9" height="1.40" fill="#4499ff"/>
<text x="36.7" y="677.70" font-size="5.6" text-anchor="end" fill="#222" style="stroke-width:0.08px" textLength="20.26" lengthAdjust="spacingAndGlyphs">CHRNA5</text>
<rect x="38.1" y="679.50" width="6.9" height="4.80" fill="#ff33aa"/>
<text x="36.7" y="683.90" font-size="5.6" text-anchor="end" fill="#222" style="stroke-width:0.08px" textLength="13.15" lengthAdjust="spacingAndGlyphs">DBNL</text>
<rect x="38.1" y="687.60" width="6.9" height="3.40" fill="#aaeeee"/>
<text x="36.7" y="691.30" font-size="5.6" text-anchor="end" fill="#222" style="stroke-width:0.08px" textLength="15.34" lengthAdjust="spacingAndGlyphs">AP3B2</text>
<rect x="38.1" y="693.60" width="6.9" height="1.40" fill="#ccdd88"/>
<text x="36.7" y="696.30" font-size="5.6" text-anchor="end" fill="#222" style="stroke-width:0.08px" textLength="15.34" lengthAdjust="spacingAndGlyphs">AP2A2</text>
<rect x="38.1" y="698.35" width="6.9" height="4.70" fill="#aabb33"/>
<text x="36.7" y="702.70" font-size="5.6" text-anchor="end" fill="#222" style="stroke-width:0.08px" textLength="10.96" lengthAdjust="spacingAndGlyphs">BIN1</text>
<rect x="38.1" y="706.15" width="6.9" height="3.30" fill="#ee5544"/>
<text x="36.7" y="709.80" font-size="5.6" text-anchor="end" fill="#222" style="stroke-width:0.08px" textLength="16.43" lengthAdjust="spacingAndGlyphs">MYH10</text>
<rect x="38.1" y="712.30" width="6.9" height="1.40" fill="#884444"/>
<text x="36.7" y="715.00" font-size="5.6" text-anchor="end" fill="#222" style="stroke-width:0.08px" textLength="16.16" lengthAdjust="spacingAndGlyphs">ACTN1</text>
<rect x="38.1" y="717.10" width="6.9" height="6.40" fill="#884422"/>
<text x="36.7" y="722.30" font-size="5.6" text-anchor="end" fill="#222" style="stroke-width:0.08px" textLength="18.07" lengthAdjust="spacingAndGlyphs">SRCIN1</text>
<rect x="38.1" y="726.65" width="6.9" height="3.10" fill="#111199"/>
<text x="36.7" y="730.20" font-size="5.6" text-anchor="end" fill="#222" style="stroke-width:0.08px" textLength="16.43" lengthAdjust="spacingAndGlyphs">L1CAM</text>
<rect x="38.1" y="733.10" width="6.9" height="1.40" fill="#aaddee"/>
<text x="36.7" y="735.80" font-size="5.6" text-anchor="end" fill="#222" style="stroke-width:0.08px" textLength="13.42" lengthAdjust="spacingAndGlyphs">CHD4</text>
<rect x="38.1" y="737.40" width="6.9" height="1.40" fill="#ee8888"/>
<text x="36.7" y="740.10" font-size="5.6" text-anchor="end" fill="#222" style="stroke-width:0.08px" textLength="16.16" lengthAdjust="spacingAndGlyphs">SRPX2</text>
<rect x="38.1" y="742.00" width="6.9" height="1.40" fill="#eeddaa"/>
<text x="36.7" y="744.70" font-size="5.6" text-anchor="end" fill="#222" style="stroke-width:0.08px" textLength="12.05" lengthAdjust="spacingAndGlyphs">DGKI</text>
<rect x="38.1" y="746.70" width="6.9" height="2.80" fill="#bb9988"/>
<text x="36.7" y="750.10" font-size="5.6" text-anchor="end" fill="#222" style="stroke-width:0.08px" textLength="15.89" lengthAdjust="spacingAndGlyphs">AKAP9</text>
<rect x="38.1" y="752.90" width="6.9" height="1.40" fill="#449988"/>
<text x="36.7" y="755.60" font-size="5.6" text-anchor="end" fill="#222" style="stroke-width:0.08px" textLength="14.98" lengthAdjust="spacingAndGlyphs">VPS11</text>
<rect x="38.1" y="757.40" width="6.9" height="1.40" fill="#ccbbaa"/>
<text x="36.7" y="760.10" font-size="5.6" text-anchor="end" fill="#222" style="stroke-width:0.08px" textLength="16.71" lengthAdjust="spacingAndGlyphs">MAP1A</text>
<rect x="38.1" y="762.10" width="6.9" height="1.40" fill="#eedd22"/>
<text x="36.7" y="764.80" font-size="5.6" text-anchor="end" fill="#222" style="stroke-width:0.08px" textLength="23.00" lengthAdjust="spacingAndGlyphs">CNTNAP1</text>
<rect x="38.1" y="767.05" width="6.9" height="4.50" fill="#bbaadd"/>
<text x="36.7" y="771.30" font-size="5.6" text-anchor="end" fill="#222" style="stroke-width:0.08px" textLength="14.52" lengthAdjust="spacingAndGlyphs">FILIP1</text>
<rect x="38.1" y="774.50" width="6.9" height="5.00" fill="#44ddcc"/>
<text x="36.7" y="779.00" font-size="5.6" text-anchor="end" fill="#222" style="stroke-width:0.08px" textLength="26.29" lengthAdjust="spacingAndGlyphs">ARHGAP44</text>
<rect x="38.1" y="782.45" width="6.9" height="3.10" fill="#dd66dd"/>
<text x="36.7" y="786.00" font-size="5.6" text-anchor="end" fill="#222" style="stroke-width:0.08px" textLength="15.34" lengthAdjust="spacingAndGlyphs">AP2A1</text>
<rect x="38.1" y="789.05" width="6.9" height="2.90" fill="#bb8888"/>
<text x="36.7" y="792.50" font-size="5.6" text-anchor="end" fill="#222" style="stroke-width:0.08px" textLength="14.51" lengthAdjust="spacingAndGlyphs">HIP1R</text>
<rect x="38.1" y="794.90" width="6.9" height="1.60" fill="#eeaa22"/>
<text x="36.7" y="797.70" font-size="5.6" text-anchor="end" fill="#222" style="stroke-width:0.08px" textLength="16.70" lengthAdjust="spacingAndGlyphs">FCHO1</text>
<rect x="38.1" y="799.75" width="6.9" height="4.50" fill="#ee7722"/>
<text x="36.7" y="804.00" font-size="5.6" text-anchor="end" fill="#222" style="stroke-width:0.08px" textLength="13.96" lengthAdjust="spacingAndGlyphs">DNM1</text>
<rect x="38.1" y="807.60" width="6.9" height="4.60" fill="#888888"/>
<text x="36.7" y="811.90" font-size="5.6" text-anchor="end" fill="#222" style="stroke-width:0.08px" textLength="12.50" lengthAdjust="spacingAndGlyphs">CLTC</text>
<rect x="198.0" y="621.2" width="7.0" height="19.10" fill="#efc6bf"/>
<text x="151.7" y="632.4" font-size="8.8" fill="#222" textLength="46.3" lengthAdjust="spacingAndGlyphs">Presynapse</text>
<rect x="198.0" y="642.8" width="7.0" height="11.90" fill="#c4e4ea"/>
<text x="61.8" y="649.2" font-size="8.2" fill="#222" textLength="136.2" lengthAdjust="spacingAndGlyphs">Modulation of chemical synaptic trans</text>
<rect x="198.0" y="657.7" width="7.0" height="13.90" fill="#b6e2d0"/>
<text x="45.5" y="666.4" font-size="7.4" fill="#222" textLength="152.5" lengthAdjust="spacingAndGlyphs">Component of postsynaptic density membrane</text>
<rect x="198.0" y="674.6" width="7.0" height="41.00" fill="#c9d3e7"/>
<text x="148.0" y="696.9" font-size="8.7" fill="#222" textLength="50.0" lengthAdjust="spacingAndGlyphs">Postsynapse</text>
<rect x="198.0" y="718.6" width="7.0" height="10.20" fill="#eed9d3"/>
<text x="68.5" y="726.0" font-size="9.0" fill="#222" textLength="129.5" lengthAdjust="spacingAndGlyphs">Postsynaptic density, intracellular</text>
<rect x="198.0" y="731.8" width="7.0" height="4.50" fill="#a9b9e3"/>
<text x="54.9" y="735.5" font-size="6.6" fill="#222" textLength="143.1" lengthAdjust="spacingAndGlyphs">Reg of postsyn neurotransmitter receptor activity</text>
<rect x="198.0" y="739.7" width="7.0" height="4.80" fill="#d2f0dd"/>
<text x="67.8" y="743.4" font-size="6.9" fill="#222" textLength="130.2" lengthAdjust="spacingAndGlyphs">Postsynaptic actin cytoskeleton organization</text>
<rect x="198.0" y="747.8" width="7.0" height="9.90" fill="#e8f8cb"/>
<text x="104.0" y="754.6" font-size="8.2" fill="#222" textLength="94.0" lengthAdjust="spacingAndGlyphs">Synaptic vesicle endocytosis</text>
<rect x="198.0" y="759.9" width="7.0" height="5.00" fill="#e1b98f"/>
<text x="95.8" y="763.3" font-size="8.0" fill="#222" textLength="102.2" lengthAdjust="spacingAndGlyphs">Postsynaptic actin cytoskeleton</text>
<rect x="198.0" y="767.6" width="7.0" height="6.60" fill="#ecdcc5"/>
<text x="90.9" y="772.5" font-size="8.0" fill="#222" textLength="107.1" lengthAdjust="spacingAndGlyphs">Regulation of synapse assembly</text>
<rect x="198.0" y="777.1" width="7.0" height="3.40" fill="#4a90d0"/>
<text x="51.9" y="780.6" font-size="7.0" fill="#222" textLength="146.1" lengthAdjust="spacingAndGlyphs">Extrinsic comp of postsynaptic density membrane</text>
<rect x="198.0" y="783.7" width="7.0" height="6.50" fill="#ee8833"/>
<text x="119.9" y="788.8" font-size="8.0" fill="#222" textLength="78.1" lengthAdjust="spacingAndGlyphs">Presynaptic active zone</text>
<rect x="198.0" y="792.9" width="7.0" height="3.60" fill="#44bb44"/>
<text x="88.4" y="796.0" font-size="7.0" fill="#222" textLength="109.6" lengthAdjust="spacingAndGlyphs">Modification of postsynaptic structure</text>
<rect x="198.0" y="799.4" width="7.0" height="6.60" fill="#dd3344"/>
<text x="114.0" y="804.2" font-size="7.6" fill="#222" textLength="84.0" lengthAdjust="spacingAndGlyphs">Postsynaptic endocytic zone</text>
<rect x="198.0" y="809.0" width="7.0" height="3.60" fill="#9966dd"/>
<text x="83.4" y="811.7" font-size="7.0" fill="#222" textLength="114.6" lengthAdjust="spacingAndGlyphs">Presynaptic endocytic zone membrane</text>
<rect x="206.1" y="620.4" width="77.50000000000003" height="191.80000000000007" fill="#fff" stroke="#555" stroke-width="0.9"/>
<circle cx="210.6" cy="630.4" r="3.9" fill="#3800f8"/>
<circle cx="211.5" cy="649.2" r="2.9" fill="#3800f8"/>
<circle cx="213.7" cy="665.3" r="3.3" fill="#3800f8"/>
<circle cx="218.1" cy="695.8" r="6.0" fill="#ff2218"/>
<circle cx="224.1" cy="724.2" r="3.2" fill="#3800f8"/>
<circle cx="228.5" cy="734.7" r="2.0" fill="#3800f8"/>
<circle cx="228.5" cy="742.3" r="2.0" fill="#3800f8"/>
<circle cx="229.6" cy="752.5" r="3.0" fill="#3800f8"/>
<circle cx="230.4" cy="762.9" r="2.0" fill="#3800f8"/>
<circle cx="234.8" cy="771.6" r="2.3" fill="#3800f8"/>
<circle cx="240.8" cy="779.6" r="1.5" fill="#3800f8"/>
<circle cx="245.5" cy="787.5" r="2.5" fill="#3800f8"/>
<circle cx="251.2" cy="795.5" r="1.7" fill="#3800f8"/>
<circle cx="251.2" cy="803.4" r="2.5" fill="#3800f8"/>
<circle cx="280.5" cy="811.4" r="1.5" fill="#3800f8"/>
<line x1="231.2" y1="812.2" x2="231.2" y2="814.2" stroke="#555" stroke-width="0.8"/>
<text x="231.2" y="823.4" font-size="7.0" text-anchor="middle" fill="#333">5</text>
<line x1="269.9" y1="812.2" x2="269.9" y2="814.2" stroke="#555" stroke-width="0.8"/>
<text x="269.9" y="823.4" font-size="7.0" text-anchor="middle" fill="#333">10</text>
<text x="245.20" y="834.20" font-size="10.2" text-anchor="middle" fill="#222" font-weight="normal" textLength="76.8" lengthAdjust="spacingAndGlyphs" >Enrichment Score</text>
<text x="289.0" y="628.4" font-size="6.4" fill="#222" textLength="42.5" lengthAdjust="spacingAndGlyphs">-log<tspan font-size="4.2" dy="1.6">10</tspan><tspan dy="-1.6">(Pvalue)</tspan></text>
<defs><linearGradient id="pvF" x1="0" y1="1" x2="0" y2="0"><stop offset="0" stop-color="#3000ff"/><stop offset="0.5" stop-color="#8a11a0"/><stop offset="1" stop-color="#ff2211"/></linearGradient></defs>
<rect x="290.4" y="634.1" width="3.3000000000000114" height="69.10000000000002" fill="url(#pvF)"/>
<line x1="293.7" y1="641.5" x2="294.9" y2="641.5" stroke="#333" stroke-width="0.5"/>
<text x="297.6" y="643.8" font-size="6.4" fill="#222">8</text>
<line x1="293.7" y1="663.4" x2="294.9" y2="663.4" stroke="#333" stroke-width="0.5"/>
<text x="297.6" y="665.6999999999999" font-size="6.4" fill="#222">6</text>
<line x1="293.7" y1="686.2" x2="294.9" y2="686.2" stroke="#333" stroke-width="0.5"/>
<text x="297.6" y="688.5" font-size="6.4" fill="#222">4</text>
<text x="298.00" y="746.90" font-size="10.8" text-anchor="start" fill="#222" font-weight="normal" textLength="24.0" lengthAdjust="spacingAndGlyphs" >Count</text>
<circle cx="294.0" cy="757.2" r="1.6" fill="#000"/>
<text x="305.0" y="759.7" font-size="7.0" fill="#222">2</text>
<circle cx="294.0" cy="769.6" r="3.2" fill="#000"/>
<text x="305.0" y="772.1" font-size="7.0" fill="#222">7</text>
<circle cx="294.0" cy="781.7" r="4.5" fill="#000"/>
<text x="305.0" y="784.2" font-size="7.0" fill="#222">13</text>
<circle cx="294.0" cy="794.2" r="5.3" fill="#000"/>
<text x="305.0" y="796.7" font-size="7.0" fill="#222">19</text>
<text x="334.30" y="484.50" font-size="16.3" text-anchor="start" fill="#000" font-weight="normal" >G</text>
<text x="528.00" y="504.50" font-size="15.2" text-anchor="middle" fill="#111" font-weight="normal" textLength="83.2" lengthAdjust="spacingAndGlyphs" >Upregulated</text>
<text x="528.00" y="523.40" font-size="15.2" text-anchor="middle" fill="#111" font-weight="normal" textLength="68.8" lengthAdjust="spacingAndGlyphs" >Reactome</text>
<text x="527.70" y="540.60" font-size="15.2" text-anchor="middle" fill="#111" font-weight="normal" textLength="66.4" lengthAdjust="spacingAndGlyphs" >Pathways</text>
<path d="M379.0 494.2 L390.0 494.8 L401.0 496.0 L412.0 498.4 L423.1 502.7 L434.1 510.4 L445.1 522.9 L456.1 541.2 L467.1 563.4 L478.1 585.4 L489.1 603.1 L500.1 615.2 L511.2 622.4 L522.2 626.5 L533.2 628.7 L544.2 629.9 L544.2 630.8 L533.2 629.6 L522.2 627.4 L511.2 623.4 L500.1 616.1 L489.1 604.1 L478.1 586.4 L467.1 564.4 L456.1 542.2 L445.1 524.0 L434.1 511.4 L423.1 503.8 L412.0 499.4 L401.0 497.1 L390.0 495.9 L379.0 495.2Z" fill="#ecb3a8" fill-opacity="0.45"/>
<path d="M379.0 497.2 L390.0 497.9 L401.0 499.1 L412.0 501.4 L423.1 505.7 L434.1 513.2 L445.1 525.6 L456.1 543.6 L467.1 565.5 L478.1 587.1 L489.1 604.6 L500.1 616.4 L511.2 623.6 L522.2 627.6 L533.2 629.7 L544.2 630.9 L544.2 631.8 L533.2 630.7 L522.2 628.5 L511.2 624.5 L500.1 617.3 L489.1 605.5 L478.1 588.1 L467.1 566.5 L456.1 544.6 L445.1 526.6 L434.1 514.3 L423.1 506.7 L412.0 502.5 L401.0 500.2 L390.0 499.0 L379.0 498.3Z" fill="#ecb3a8" fill-opacity="0.45"/>
<path d="M379.0 500.3 L390.0 501.0 L401.0 502.1 L412.0 504.4 L423.1 508.6 L434.1 516.0 L445.1 528.2 L456.1 545.9 L467.1 567.5 L478.1 588.8 L489.1 606.0 L500.1 617.7 L511.2 624.7 L522.2 628.6 L533.2 630.8 L544.2 631.9 L544.2 632.8 L533.2 631.7 L522.2 629.6 L511.2 625.6 L500.1 618.6 L489.1 606.9 L478.1 589.8 L467.1 568.5 L456.1 547.0 L445.1 529.3 L434.1 517.1 L423.1 509.7 L412.0 505.5 L401.0 503.2 L390.0 502.0 L379.0 501.4Z" fill="#ecb3a8" fill-opacity="0.45"/>
<path d="M379.0 503.4 L390.0 504.0 L401.0 505.2 L412.0 507.4 L423.1 511.6 L434.1 518.9 L445.1 530.9 L456.1 548.3 L467.1 569.5 L478.1 590.5 L489.1 607.4 L500.1 618.9 L511.2 625.8 L522.2 629.7 L533.2 631.8 L544.2 632.9 L544.2 633.8 L533.2 632.7 L522.2 630.6 L511.2 626.8 L500.1 619.8 L489.1 608.4 L478.1 591.5 L467.1 570.5 L456.1 549.3 L445.1 531.9 L434.1 519.9 L423.1 512.6 L412.0 508.5 L401.0 506.3 L390.0 505.1 L379.0 504.5Z" fill="#ecb3a8" fill-opacity="0.45"/>
<path d="M379.0 506.5 L390.0 507.1 L401.0 508.3 L412.0 510.5 L423.1 514.5 L434.1 521.7 L445.1 533.5 L456.1 550.7 L467.1 571.6 L478.1 592.2 L489.1 608.8 L500.1 620.1 L511.2 627.0 L522.2 630.8 L533.2 632.9 L544.2 633.9 L544.2 634.9 L533.2 633.8 L522.2 631.7 L511.2 627.9 L500.1 621.1 L489.1 609.8 L478.1 593.2 L467.1 572.6 L456.1 551.7 L445.1 534.6 L434.1 522.8 L423.1 515.6 L412.0 511.5 L401.0 509.3 L390.0 508.2 L379.0 507.6Z" fill="#ecb3a8" fill-opacity="0.45"/>
<path d="M379.0 509.6 L390.0 510.2 L401.0 511.3 L412.0 513.5 L423.1 517.5 L434.1 524.6 L445.1 536.2 L456.1 553.0 L467.1 573.6 L478.1 593.9 L489.1 610.3 L500.1 621.4 L511.2 628.1 L522.2 631.9 L533.2 633.9 L544.2 635.0 L544.2 635.9 L533.2 634.8 L522.2 632.8 L511.2 629.0 L500.1 622.3 L489.1 611.2 L478.1 594.9 L467.1 574.6 L456.1 554.1 L445.1 537.2 L434.1 525.6 L423.1 518.5 L412.0 514.6 L401.0 512.4 L390.0 511.3 L379.0 510.7Z" fill="#ecb3a8" fill-opacity="0.45"/>
<path d="M379.0 512.7 L390.0 513.3 L401.0 514.4 L412.0 516.5 L423.1 520.4 L434.1 527.4 L445.1 538.8 L456.1 555.4 L467.1 575.6 L478.1 595.6 L489.1 611.7 L500.1 622.6 L511.2 629.2 L522.2 632.9 L533.2 634.9 L544.2 636.0 L544.2 636.9 L533.2 635.9 L522.2 633.9 L511.2 630.2 L500.1 623.6 L489.1 612.7 L478.1 596.6 L467.1 576.6 L456.1 556.4 L445.1 539.9 L434.1 528.5 L423.1 521.5 L412.0 517.6 L401.0 515.5 L390.0 514.3 L379.0 513.8Z" fill="#ecb3a8" fill-opacity="0.45"/>
<path d="M379.0 515.8 L390.0 516.3 L401.0 517.4 L412.0 519.5 L423.1 523.4 L434.1 530.2 L445.1 541.5 L456.1 557.8 L467.1 577.7 L478.1 597.3 L489.1 613.1 L500.1 623.9 L511.2 630.4 L522.2 634.0 L533.2 636.0 L544.2 637.0 L544.2 637.9 L533.2 636.9 L522.2 634.9 L511.2 631.3 L500.1 624.8 L489.1 614.1 L478.1 598.3 L467.1 578.7 L456.1 558.8 L445.1 542.5 L434.1 531.3 L423.1 524.5 L412.0 520.6 L401.0 518.5 L390.0 517.4 L379.0 516.8Z" fill="#ecb3a8" fill-opacity="0.45"/>
<path d="M379.0 518.8 L390.0 519.4 L401.0 520.5 L412.0 522.5 L423.1 526.3 L434.1 533.1 L445.1 544.1 L456.1 560.2 L467.1 579.7 L478.1 599.0 L489.1 614.6 L500.1 625.1 L511.2 631.5 L522.2 635.1 L533.2 637.0 L544.2 638.0 L544.2 638.9 L533.2 637.9 L522.2 636.0 L511.2 632.4 L500.1 626.1 L489.1 615.5 L478.1 600.0 L467.1 580.7 L456.1 561.2 L445.1 545.2 L434.1 534.1 L423.1 527.4 L412.0 523.6 L401.0 521.6 L390.0 520.5 L379.0 519.9Z" fill="#ecb3a8" fill-opacity="0.45"/>
<path d="M379.0 521.9 L390.0 522.5 L401.0 523.5 L412.0 525.6 L423.1 529.3 L434.1 535.9 L445.1 546.8 L456.1 562.5 L467.1 581.7 L478.1 600.7 L489.1 616.0 L500.1 626.4 L511.2 632.6 L522.2 636.2 L533.2 638.1 L544.2 639.1 L544.2 640.0 L533.2 639.0 L522.2 637.1 L511.2 633.6 L500.1 627.3 L489.1 616.9 L478.1 601.7 L467.1 582.7 L456.1 563.6 L445.1 547.8 L434.1 537.0 L423.1 530.4 L412.0 526.6 L401.0 524.6 L390.0 523.6 L379.0 523.0Z" fill="#ecb3a8" fill-opacity="0.45"/>
<path d="M379.0 525.0 L390.0 525.6 L401.0 526.6 L412.0 528.6 L423.1 532.3 L434.1 538.8 L445.1 549.4 L456.1 564.9 L467.1 583.8 L478.1 602.4 L489.1 617.4 L500.1 627.6 L511.2 633.8 L522.2 637.2 L533.2 639.1 L544.2 640.1 L544.2 641.0 L533.2 640.0 L522.2 638.2 L511.2 634.7 L500.1 628.6 L489.1 618.4 L478.1 603.4 L467.1 584.8 L456.1 565.9 L445.1 550.5 L434.1 539.8 L423.1 533.3 L412.0 529.7 L401.0 527.7 L390.0 526.6 L379.0 526.1Z" fill="#ecb3a8" fill-opacity="0.45"/>
<path d="M379.0 528.1 L390.0 528.6 L401.0 529.7 L412.0 531.6 L423.1 535.2 L434.1 541.6 L445.1 552.1 L456.1 567.3 L467.1 585.8 L478.1 604.1 L489.1 618.8 L500.1 628.9 L511.2 634.9 L522.2 638.3 L533.2 640.1 L544.2 641.1 L544.2 642.0 L533.2 641.1 L522.2 639.2 L511.2 635.8 L500.1 629.8 L489.1 619.8 L478.1 605.1 L467.1 586.8 L456.1 568.3 L445.1 553.1 L434.1 542.7 L423.1 536.3 L412.0 532.7 L401.0 530.7 L390.0 529.7 L379.0 529.2Z" fill="#ecb3a8" fill-opacity="0.45"/>
<path d="M379.0 531.2 L390.0 531.7 L401.0 532.7 L412.0 534.6 L423.1 538.2 L434.1 544.4 L445.1 554.7 L456.1 569.6 L467.1 587.8 L478.1 605.8 L489.1 620.3 L500.1 630.1 L511.2 636.0 L522.2 639.4 L533.2 641.2 L544.2 642.1 L544.2 643.0 L533.2 642.1 L522.2 640.3 L511.2 637.0 L500.1 631.0 L489.1 621.2 L478.1 606.8 L467.1 588.8 L456.1 570.7 L445.1 555.8 L434.1 545.5 L423.1 539.2 L412.0 535.7 L401.0 533.8 L390.0 532.8 L379.0 532.3Z" fill="#ecb3a8" fill-opacity="0.45"/>
<path d="M379.0 534.3 L390.0 534.8 L401.0 535.8 L412.0 537.7 L423.1 541.1 L434.1 547.3 L445.1 557.4 L456.1 572.0 L467.1 589.9 L478.1 607.5 L489.1 621.7 L500.1 631.4 L511.2 637.2 L522.2 640.5 L533.2 642.2 L544.2 643.1 L544.2 644.1 L533.2 643.1 L522.2 641.4 L511.2 638.1 L500.1 632.3 L489.1 622.7 L478.1 608.5 L467.1 590.8 L456.1 573.0 L445.1 558.4 L434.1 548.3 L423.1 542.2 L412.0 538.7 L401.0 536.9 L390.0 535.9 L379.0 535.4Z" fill="#ecb3a8" fill-opacity="0.45"/>
<path d="M379.0 537.4 L390.0 537.9 L401.0 538.8 L412.0 540.7 L423.1 544.1 L434.1 550.1 L445.1 560.0 L456.1 574.4 L467.1 591.9 L478.1 609.2 L489.1 623.1 L500.1 632.6 L511.2 638.3 L522.2 641.5 L533.2 643.3 L544.2 644.2 L544.2 645.1 L533.2 644.2 L522.2 642.4 L511.2 639.2 L500.1 633.5 L489.1 624.1 L478.1 610.2 L467.1 592.9 L456.1 575.4 L445.1 561.1 L434.1 551.2 L423.1 545.2 L412.0 541.7 L401.0 539.9 L390.0 538.9 L379.0 538.4Z" fill="#ecb3a8" fill-opacity="0.45"/>
<path d="M379.0 540.4 L390.0 540.9 L401.0 541.9 L412.0 543.7 L423.1 547.0 L434.1 553.0 L445.1 562.7 L456.1 576.8 L467.1 593.9 L478.1 610.9 L489.1 624.6 L500.1 633.8 L511.2 639.5 L522.2 642.6 L533.2 644.3 L544.2 645.2 L544.2 646.1 L533.2 645.2 L522.2 643.5 L511.2 640.4 L500.1 634.8 L489.1 625.5 L478.1 611.9 L467.1 594.9 L456.1 577.8 L445.1 563.7 L434.1 554.0 L423.1 548.1 L412.0 544.8 L401.0 543.0 L390.0 542.0 L379.0 541.5Z" fill="#ecb3a8" fill-opacity="0.45"/>
<path d="M379.0 543.5 L390.0 544.0 L401.0 544.9 L412.0 546.7 L423.1 550.0 L434.1 555.8 L445.1 565.3 L456.1 579.1 L467.1 595.9 L478.1 612.6 L489.1 626.0 L500.1 635.1 L511.2 640.6 L522.2 643.7 L533.2 645.3 L544.2 646.2 L544.2 647.1 L533.2 646.3 L522.2 644.6 L511.2 641.5 L500.1 636.0 L489.1 626.9 L478.1 613.6 L467.1 596.9 L456.1 580.1 L445.1 566.4 L434.1 556.9 L423.1 551.1 L412.0 547.8 L401.0 546.0 L390.0 545.1 L379.0 544.6Z" fill="#ecb3a8" fill-opacity="0.45"/>
<path d="M379.0 546.6 L390.0 547.1 L401.0 548.0 L412.0 549.7 L423.1 552.9 L434.1 558.6 L445.1 568.0 L456.1 581.5 L467.1 598.0 L478.1 614.3 L489.1 627.4 L500.1 636.3 L511.2 641.7 L522.2 644.7 L533.2 646.4 L544.2 647.2 L544.2 648.1 L533.2 647.3 L522.2 645.7 L511.2 642.7 L500.1 637.3 L489.1 628.4 L478.1 615.3 L467.1 599.0 L456.1 582.5 L445.1 569.0 L434.1 559.7 L423.1 554.0 L412.0 550.8 L401.0 549.1 L390.0 548.2 L379.0 547.7Z" fill="#ecb3a8" fill-opacity="0.45"/>
<path d="M379.0 549.7 L390.0 550.2 L401.0 551.1 L412.0 552.8 L423.1 555.9 L434.1 561.5 L445.1 570.6 L456.1 583.9 L467.1 600.0 L478.1 616.0 L489.1 628.8 L500.1 637.6 L511.2 642.9 L522.2 645.8 L533.2 647.4 L544.2 648.3 L544.2 649.2 L533.2 648.3 L522.2 646.7 L511.2 643.8 L500.1 638.5 L489.1 629.8 L478.1 617.0 L467.1 601.0 L456.1 584.9 L445.1 571.7 L434.1 562.5 L423.1 557.0 L412.0 553.8 L401.0 552.1 L390.0 551.2 L379.0 550.8Z" fill="#ecb3a8" fill-opacity="0.45"/>
<path d="M379.0 552.8 L390.0 553.2 L401.0 554.1 L412.0 555.8 L423.1 558.9 L434.1 564.3 L445.1 573.3 L456.1 586.2 L467.1 602.0 L478.1 617.7 L489.1 630.3 L500.1 638.8 L511.2 644.0 L522.2 646.9 L533.2 648.5 L544.2 649.3 L544.2 650.2 L533.2 649.4 L522.2 647.8 L511.2 644.9 L500.1 639.8 L489.1 631.2 L478.1 618.7 L467.1 603.0 L456.1 587.3 L445.1 574.3 L434.1 565.4 L423.1 559.9 L412.0 556.9 L401.0 555.2 L390.0 554.3 L379.0 553.9Z" fill="#ecb3a8" fill-opacity="0.45"/>
<path d="M379.0 555.9 L390.0 556.3 L401.0 557.2 L412.0 558.8 L423.1 561.8 L434.1 567.2 L445.1 575.9 L456.1 588.6 L467.1 604.1 L478.1 619.4 L489.1 631.7 L500.1 640.1 L511.2 645.1 L522.2 648.0 L533.2 649.5 L544.2 650.3 L544.2 651.2 L533.2 650.4 L522.2 648.9 L511.2 646.1 L500.1 641.0 L489.1 632.7 L478.1 620.4 L467.1 605.1 L456.1 589.6 L445.1 577.0 L434.1 568.2 L423.1 562.9 L412.0 559.9 L401.0 558.3 L390.0 557.4 L379.0 557.0Z" fill="#ecb3a8" fill-opacity="0.45"/>
<path d="M379.0 559.0 L390.0 559.4 L401.0 560.2 L412.0 561.8 L423.1 564.8 L434.1 570.0 L445.1 578.6 L456.1 591.0 L467.1 606.1 L478.1 621.1 L489.1 633.1 L500.1 641.3 L511.2 646.3 L522.2 649.0 L533.2 650.5 L544.2 651.3 L544.2 652.2 L533.2 651.5 L522.2 650.0 L511.2 647.2 L500.1 642.3 L489.1 634.1 L478.1 622.1 L467.1 607.1 L456.1 592.0 L445.1 579.6 L434.1 571.1 L423.1 565.8 L412.0 562.9 L401.0 561.3 L390.0 560.5 L379.0 560.0Z" fill="#ecb3a8" fill-opacity="0.45"/>
<path d="M379.0 562.3 L390.0 562.7 L401.0 563.5 L412.0 565.0 L423.1 567.9 L434.1 573.0 L445.1 581.4 L456.1 593.5 L467.1 608.2 L478.1 622.8 L489.1 634.6 L500.1 642.6 L511.2 647.4 L522.2 650.1 L533.2 651.6 L544.2 652.3 L544.2 653.3 L533.2 652.5 L522.2 651.0 L511.2 648.3 L500.1 643.5 L489.1 635.6 L478.1 623.8 L467.1 609.2 L456.1 594.5 L445.1 582.4 L434.1 574.1 L423.1 569.0 L412.0 566.1 L401.0 564.6 L390.0 563.8 L379.0 563.3Z" fill="#ecb3a8" fill-opacity="0.45"/>
<path d="M379.0 565.5 L390.0 566.0 L401.0 566.8 L412.0 568.3 L423.1 571.1 L434.1 576.0 L445.1 584.2 L456.1 596.0 L467.1 610.4 L478.1 624.6 L489.1 636.1 L500.1 643.9 L511.2 648.6 L522.2 651.2 L533.2 652.6 L544.2 653.4 L544.2 654.3 L533.2 653.5 L522.2 652.1 L511.2 649.5 L500.1 644.8 L489.1 637.0 L478.1 625.6 L467.1 611.4 L456.1 597.0 L445.1 585.2 L434.1 577.1 L423.1 572.1 L412.0 569.3 L401.0 567.8 L390.0 567.0 L379.0 566.6Z" fill="#ecb3a8" fill-opacity="0.45"/>
<path d="M379.0 568.8 L390.0 569.2 L401.0 570.0 L412.0 571.5 L423.1 574.2 L434.1 579.1 L445.1 587.0 L456.1 598.5 L467.1 612.5 L478.1 626.4 L489.1 637.5 L500.1 645.1 L511.2 649.7 L522.2 652.3 L533.2 653.7 L544.2 654.4 L544.2 655.3 L533.2 654.6 L522.2 653.2 L511.2 650.6 L500.1 646.1 L489.1 638.5 L478.1 627.3 L467.1 613.5 L456.1 599.5 L445.1 588.0 L434.1 580.1 L423.1 575.3 L412.0 572.6 L401.0 571.1 L390.0 570.3 L379.0 569.9Z" fill="#ecb3a8" fill-opacity="0.45"/>
<path d="M379.0 572.1 L390.0 572.5 L401.0 573.3 L412.0 574.7 L423.1 577.4 L434.1 582.1 L445.1 589.8 L456.1 601.0 L467.1 614.6 L478.1 628.1 L489.1 639.0 L500.1 646.4 L511.2 650.8 L522.2 653.4 L533.2 654.7 L544.2 655.4 L544.2 656.3 L533.2 655.6 L522.2 654.3 L511.2 651.8 L500.1 647.3 L489.1 640.0 L478.1 629.1 L467.1 615.6 L456.1 602.0 L445.1 590.8 L434.1 583.1 L423.1 578.4 L412.0 575.8 L401.0 574.4 L390.0 573.6 L379.0 573.2Z" fill="#ecb3a8" fill-opacity="0.45"/>
<path d="M379.0 575.4 L390.0 575.8 L401.0 576.5 L412.0 577.9 L423.1 580.5 L434.1 585.1 L445.1 592.6 L456.1 603.5 L467.1 616.8 L478.1 629.9 L489.1 640.5 L500.1 647.7 L511.2 652.0 L522.2 654.4 L533.2 655.7 L544.2 656.4 L544.2 657.3 L533.2 656.7 L522.2 655.4 L511.2 652.9 L500.1 648.6 L489.1 641.4 L478.1 630.9 L467.1 617.8 L456.1 604.5 L445.1 593.6 L434.1 586.2 L423.1 581.6 L412.0 579.0 L401.0 577.6 L390.0 576.9 L379.0 576.5Z" fill="#ecb3a8" fill-opacity="0.45"/>
<path d="M379.0 578.7 L390.0 579.1 L401.0 579.8 L412.0 581.1 L423.1 583.7 L434.1 588.1 L445.1 595.4 L456.1 606.0 L467.1 618.9 L478.1 631.7 L489.1 641.9 L500.1 648.9 L511.2 653.1 L522.2 655.5 L533.2 656.8 L544.2 657.5 L544.2 658.4 L533.2 657.7 L522.2 656.4 L511.2 654.1 L500.1 649.9 L489.1 642.9 L478.1 632.6 L467.1 619.9 L456.1 607.0 L445.1 596.5 L434.1 589.2 L423.1 584.7 L412.0 582.2 L401.0 580.9 L390.0 580.2 L379.0 579.8Z" fill="#ecb3a8" fill-opacity="0.45"/>
<path d="M379.0 582.0 L390.0 582.4 L401.0 583.1 L412.0 584.4 L423.1 586.8 L434.1 591.1 L445.1 598.2 L456.1 608.5 L467.1 621.0 L478.1 633.4 L489.1 643.4 L500.1 650.2 L511.2 654.3 L522.2 656.6 L533.2 657.8 L544.2 658.5 L544.2 659.4 L533.2 658.7 L522.2 657.5 L511.2 655.2 L500.1 651.1 L489.1 644.4 L478.1 634.4 L467.1 622.0 L456.1 609.5 L445.1 599.3 L434.1 592.2 L423.1 587.9 L412.0 585.4 L401.0 584.1 L390.0 583.4 L379.0 583.1Z" fill="#ecb3a8" fill-opacity="0.45"/>
<path d="M379.0 585.3 L390.0 585.6 L401.0 586.3 L412.0 587.6 L423.1 590.0 L434.1 594.2 L445.1 601.0 L456.1 611.0 L467.1 623.2 L478.1 635.2 L489.1 644.9 L500.1 651.5 L511.2 655.4 L522.2 657.7 L533.2 658.9 L544.2 659.5 L544.2 660.4 L533.2 659.8 L522.2 658.6 L511.2 656.4 L500.1 652.4 L489.1 645.8 L478.1 636.2 L467.1 624.2 L456.1 612.0 L445.1 602.1 L434.1 595.2 L423.1 591.0 L412.0 588.7 L401.0 587.4 L390.0 586.7 L379.0 586.4Z" fill="#ecb3a8" fill-opacity="0.45"/>
<path d="M379.0 588.6 L390.0 588.9 L401.0 589.6 L412.0 590.8 L423.1 593.1 L434.1 597.2 L445.1 603.8 L456.1 613.5 L467.1 625.3 L478.1 637.0 L489.1 646.4 L500.1 652.7 L511.2 656.6 L522.2 658.7 L533.2 659.9 L544.2 660.5 L544.2 661.4 L533.2 660.8 L522.2 659.7 L511.2 657.5 L500.1 653.7 L489.1 647.3 L478.1 637.9 L467.1 626.3 L456.1 614.5 L445.1 604.9 L434.1 598.2 L423.1 594.2 L412.0 591.9 L401.0 590.6 L390.0 590.0 L379.0 589.7Z" fill="#ecb3a8" fill-opacity="0.45"/>
<path d="M379.0 591.9 L390.0 592.2 L401.0 592.8 L412.0 594.0 L423.1 596.3 L434.1 600.2 L445.1 606.7 L456.1 616.0 L467.1 627.4 L478.1 638.7 L489.1 647.8 L500.1 654.0 L511.2 657.7 L522.2 659.8 L533.2 660.9 L544.2 661.5 L544.2 662.5 L533.2 661.9 L522.2 660.7 L511.2 658.7 L500.1 654.9 L489.1 648.8 L478.1 639.7 L467.1 628.4 L456.1 617.0 L445.1 607.7 L434.1 601.3 L423.1 597.3 L412.0 595.1 L401.0 593.9 L390.0 593.3 L379.0 592.9Z" fill="#ecb3a8" fill-opacity="0.45"/>
<path d="M379.0 595.2 L390.0 595.5 L401.0 596.1 L412.0 597.3 L423.1 599.4 L434.1 603.2 L445.1 609.5 L456.1 618.5 L467.1 629.6 L478.1 640.5 L489.1 649.3 L500.1 655.3 L511.2 658.9 L522.2 660.9 L533.2 662.0 L544.2 662.6 L544.2 663.5 L533.2 662.9 L522.2 661.8 L511.2 659.8 L500.1 656.2 L489.1 650.2 L478.1 641.5 L467.1 630.6 L456.1 619.5 L445.1 610.5 L434.1 604.3 L423.1 600.5 L412.0 598.3 L401.0 597.2 L390.0 596.6 L379.0 596.2Z" fill="#ecb3a8" fill-opacity="0.45"/>
<path d="M379.0 598.5 L390.0 598.8 L401.0 599.4 L412.0 600.5 L423.1 602.6 L434.1 606.2 L445.1 612.3 L456.1 621.0 L467.1 631.7 L478.1 642.3 L489.1 650.8 L500.1 656.5 L511.2 660.0 L522.2 662.0 L533.2 663.0 L544.2 663.6 L544.2 664.5 L533.2 664.0 L522.2 662.9 L511.2 660.9 L500.1 657.5 L489.1 651.7 L478.1 643.2 L467.1 632.7 L456.1 622.1 L445.1 613.3 L434.1 607.3 L423.1 603.6 L412.0 601.5 L401.0 600.4 L390.0 599.8 L379.0 599.5Z" fill="#ecb3a8" fill-opacity="0.45"/>
<path d="M379.0 601.7 L390.0 602.0 L401.0 602.6 L412.0 603.7 L423.1 605.7 L434.1 609.3 L445.1 615.1 L456.1 623.5 L467.1 633.8 L478.1 644.0 L489.1 652.2 L500.1 657.8 L511.2 661.2 L522.2 663.1 L533.2 664.1 L544.2 664.6 L544.2 665.5 L533.2 665.0 L522.2 664.0 L511.2 662.1 L500.1 658.7 L489.1 653.2 L478.1 645.0 L467.1 634.8 L456.1 624.6 L445.1 616.1 L434.1 610.3 L423.1 606.8 L412.0 604.8 L401.0 603.7 L390.0 603.1 L379.0 602.8Z" fill="#ecb3a8" fill-opacity="0.45"/>
<path d="M379.0 605.0 L390.0 605.3 L401.0 605.9 L412.0 606.9 L423.1 608.8 L434.1 612.3 L445.1 617.9 L456.1 626.0 L467.1 636.0 L478.1 645.8 L489.1 653.7 L500.1 659.1 L511.2 662.3 L522.2 664.1 L533.2 665.1 L544.2 665.6 L544.2 666.5 L533.2 666.0 L522.2 665.1 L511.2 663.2 L500.1 660.0 L489.1 654.6 L478.1 646.8 L467.1 637.0 L456.1 627.1 L445.1 618.9 L434.1 613.3 L423.1 609.9 L412.0 608.0 L401.0 606.9 L390.0 606.4 L379.0 606.1Z" fill="#ecb3a8" fill-opacity="0.45"/>
<path d="M379.0 608.2 L390.0 608.4 L401.0 609.0 L412.0 610.0 L423.1 611.8 L434.1 615.1 L445.1 620.6 L456.1 628.4 L467.1 638.0 L478.1 647.5 L489.1 655.1 L500.1 660.3 L511.2 663.5 L522.2 665.2 L533.2 666.2 L544.2 666.7 L544.2 667.6 L533.2 667.1 L522.2 666.1 L511.2 664.4 L500.1 661.2 L489.1 656.0 L478.1 648.4 L467.1 638.9 L456.1 629.3 L445.1 621.4 L434.1 616.0 L423.1 612.7 L412.0 610.8 L401.0 609.8 L390.0 609.2 L379.0 609.0Z" fill="#ecb3a8" fill-opacity="0.45"/>
<path d="M379.0 608.8 L390.0 609.1 L401.0 609.9 L412.0 611.2 L423.1 613.8 L434.1 618.3 L445.1 625.6 L456.1 636.3 L467.1 649.3 L478.1 662.2 L489.1 672.6 L500.1 679.6 L511.2 683.9 L522.2 686.3 L533.2 687.6 L544.2 688.2 L544.2 689.1 L533.2 688.5 L522.2 687.2 L511.2 684.8 L500.1 680.5 L489.1 673.5 L478.1 663.1 L467.1 650.2 L456.1 637.1 L445.1 626.4 L434.1 619.1 L423.1 614.6 L412.0 612.0 L401.0 610.7 L390.0 609.9 L379.0 609.6Z" fill="#a8d8e4" fill-opacity="0.45"/>
<path d="M379.0 611.6 L390.0 612.0 L401.0 612.7 L412.0 614.0 L423.1 616.5 L434.1 620.9 L445.1 628.1 L456.1 638.5 L467.1 651.2 L478.1 663.8 L489.1 674.0 L500.1 680.8 L511.2 685.0 L522.2 687.3 L533.2 688.6 L544.2 689.2 L544.2 690.1 L533.2 689.5 L522.2 688.2 L511.2 685.9 L500.1 681.7 L489.1 674.9 L478.1 664.8 L467.1 652.2 L456.1 639.5 L445.1 629.1 L434.1 621.9 L423.1 617.6 L412.0 615.1 L401.0 613.8 L390.0 613.1 L379.0 612.7Z" fill="#a8d8e4" fill-opacity="0.45"/>
<path d="M379.0 614.7 L390.0 615.0 L401.0 615.5 L412.0 616.4 L423.1 618.1 L434.1 621.1 L445.1 626.0 L456.1 633.1 L467.1 641.8 L478.1 650.3 L489.1 657.3 L500.1 661.9 L511.2 664.8 L522.2 666.4 L533.2 667.2 L544.2 667.7 L544.2 668.6 L533.2 668.1 L522.2 667.3 L511.2 665.7 L500.1 662.9 L489.1 658.1 L478.1 651.2 L467.1 642.6 L456.1 633.9 L445.1 626.8 L434.1 621.9 L423.1 618.9 L412.0 617.2 L401.0 616.3 L390.0 615.8 L379.0 615.5Z" fill="#ecb3a8" fill-opacity="0.45"/>
<path d="M379.0 615.3 L390.0 615.8 L401.0 616.5 L412.0 618.0 L423.1 620.8 L434.1 625.6 L445.1 633.6 L456.1 645.2 L467.1 659.3 L478.1 673.2 L489.1 684.4 L500.1 692.1 L511.2 696.7 L522.2 699.2 L533.2 700.6 L544.2 701.4 L544.2 702.5 L533.2 701.7 L522.2 700.3 L511.2 697.8 L500.1 693.1 L489.1 685.5 L478.1 674.2 L467.1 660.2 L456.1 646.1 L445.1 634.5 L434.1 626.5 L423.1 621.6 L412.0 618.8 L401.0 617.3 L390.0 616.6 L379.0 616.1Z" fill="#a0dcc0" fill-opacity="0.45"/>
<path d="M379.0 618.2 L390.0 618.5 L401.0 619.2 L412.0 620.4 L423.1 622.7 L434.1 626.8 L445.1 633.5 L456.1 643.2 L467.1 655.0 L478.1 666.6 L489.1 676.0 L500.1 682.4 L511.2 686.3 L522.2 688.5 L533.2 689.6 L544.2 690.2 L544.2 691.1 L533.2 690.5 L522.2 689.3 L511.2 687.2 L500.1 683.3 L489.1 677.0 L478.1 667.6 L467.1 656.0 L456.1 644.2 L445.1 634.5 L434.1 627.9 L423.1 623.8 L412.0 621.5 L401.0 620.3 L390.0 619.6 L379.0 619.3Z" fill="#a8d8e4" fill-opacity="0.45"/>
<path d="M379.0 621.3 L390.0 621.6 L401.0 622.0 L412.0 622.8 L423.1 624.3 L434.1 627.0 L445.1 631.4 L456.1 637.7 L467.1 645.5 L478.1 653.2 L489.1 659.4 L500.1 663.6 L511.2 666.1 L522.2 667.5 L533.2 668.3 L544.2 668.7 L544.2 669.6 L533.2 669.2 L522.2 668.4 L511.2 667.0 L500.1 664.5 L489.1 660.3 L478.1 654.1 L467.1 646.4 L456.1 638.6 L445.1 632.2 L434.1 627.8 L423.1 625.1 L412.0 623.6 L401.0 622.8 L390.0 622.4 L379.0 622.1Z" fill="#ecb3a8" fill-opacity="0.45"/>
<path d="M379.0 621.9 L390.0 622.5 L401.0 623.6 L412.0 625.8 L423.1 629.8 L434.1 636.8 L445.1 648.3 L456.1 665.0 L467.1 685.4 L478.1 705.6 L489.1 721.8 L500.1 732.8 L511.2 739.5 L522.2 743.2 L533.2 745.2 L544.2 746.3 L544.2 747.4 L533.2 746.3 L522.2 744.3 L511.2 740.6 L500.1 733.9 L489.1 722.9 L478.1 706.6 L467.1 686.4 L456.1 665.9 L445.1 649.2 L434.1 637.6 L423.1 630.6 L412.0 626.6 L401.0 624.4 L390.0 623.3 L379.0 622.7Z" fill="#bce8cc" fill-opacity="0.45"/>
<path d="M379.0 624.8 L390.0 625.1 L401.0 625.9 L412.0 627.2 L423.1 629.7 L434.1 634.1 L445.1 641.3 L456.1 651.8 L467.1 664.5 L478.1 677.1 L489.1 687.3 L500.1 694.2 L511.2 698.3 L522.2 700.7 L533.2 701.9 L544.2 702.6 L544.2 703.7 L533.2 703.1 L522.2 701.8 L511.2 699.5 L500.1 695.3 L489.1 688.4 L478.1 678.2 L467.1 665.6 L456.1 652.8 L445.1 642.4 L434.1 635.2 L423.1 630.8 L412.0 628.3 L401.0 626.9 L390.0 626.2 L379.0 625.9Z" fill="#a0dcc0" fill-opacity="0.45"/>
<path d="M379.0 627.9 L390.0 628.1 L401.0 628.5 L412.0 629.2 L423.1 630.5 L434.1 632.9 L445.1 636.8 L456.1 642.4 L467.1 649.3 L478.1 656.0 L489.1 661.5 L500.1 665.2 L511.2 667.4 L522.2 668.7 L533.2 669.4 L544.2 669.7 L544.2 670.6 L533.2 670.3 L522.2 669.6 L511.2 668.3 L500.1 666.1 L489.1 662.4 L478.1 656.9 L467.1 650.1 L456.1 643.2 L445.1 637.6 L434.1 633.7 L423.1 631.3 L412.0 630.0 L401.0 629.3 L390.0 628.9 L379.0 628.7Z" fill="#ecb3a8" fill-opacity="0.45"/>
<path d="M379.0 628.5 L390.0 628.8 L401.0 629.4 L412.0 630.5 L423.1 632.5 L434.1 636.0 L445.1 641.8 L456.1 650.2 L467.1 660.5 L478.1 670.7 L489.1 678.9 L500.1 684.4 L511.2 687.8 L522.2 689.7 L533.2 690.7 L544.2 691.2 L544.2 692.1 L533.2 691.6 L522.2 690.6 L511.2 688.7 L500.1 685.3 L489.1 679.7 L478.1 671.6 L467.1 661.4 L456.1 651.1 L445.1 642.6 L434.1 636.8 L423.1 633.3 L412.0 631.3 L401.0 630.2 L390.0 629.6 L379.0 629.3Z" fill="#a8d8e4" fill-opacity="0.45"/>
<path d="M379.0 631.4 L390.0 632.0 L401.0 633.3 L412.0 635.7 L423.1 640.1 L434.1 647.9 L445.1 660.7 L456.1 679.3 L467.1 702.0 L478.1 724.4 L489.1 742.4 L500.1 754.7 L511.2 762.1 L522.2 766.2 L533.2 768.5 L544.2 769.7 L544.2 770.7 L533.2 769.5 L522.2 767.3 L511.2 763.1 L500.1 755.7 L489.1 743.5 L478.1 725.4 L467.1 703.0 L456.1 680.4 L445.1 661.8 L434.1 649.0 L423.1 641.1 L412.0 636.7 L401.0 634.3 L390.0 633.1 L379.0 632.4Z" fill="#e6d0b0" fill-opacity="0.45"/>
<path d="M379.0 635.1 L390.0 635.3 L401.0 635.6 L412.0 636.2 L423.1 637.4 L434.1 639.4 L445.1 642.7 L456.1 647.5 L467.1 653.3 L478.1 659.1 L489.1 663.7 L500.1 666.9 L511.2 668.8 L522.2 669.9 L533.2 670.4 L544.2 670.7 L544.2 671.7 L533.2 671.4 L522.2 670.8 L511.2 669.7 L500.1 667.8 L489.1 664.6 L478.1 660.0 L467.1 654.2 L456.1 648.3 L445.1 643.5 L434.1 640.2 L423.1 638.2 L412.0 637.0 L401.0 636.4 L390.0 636.1 L379.0 635.9Z" fill="#ecb3a8" fill-opacity="0.45"/>
<path d="M379.0 635.7 L390.0 636.0 L401.0 636.7 L412.0 637.8 L423.1 640.0 L434.1 643.8 L445.1 650.2 L456.1 659.3 L467.1 670.5 L478.1 681.5 L489.1 690.4 L500.1 696.5 L511.2 700.1 L522.2 702.2 L533.2 703.3 L544.2 703.8 L544.2 705.0 L533.2 704.4 L522.2 703.3 L511.2 701.2 L500.1 697.6 L489.1 691.5 L478.1 682.6 L467.1 671.5 L456.1 660.2 L445.1 651.0 L434.1 644.7 L423.1 640.8 L412.0 638.6 L401.0 637.5 L390.0 636.8 L379.0 636.5Z" fill="#a0dcc0" fill-opacity="0.45"/>
<path d="M379.0 639.2 L390.0 639.4 L401.0 639.9 L412.0 640.8 L423.1 642.5 L434.1 645.5 L445.1 650.4 L456.1 657.6 L467.1 666.3 L478.1 674.8 L489.1 681.8 L500.1 686.5 L511.2 689.3 L522.2 690.9 L533.2 691.8 L544.2 692.2 L544.2 693.1 L533.2 692.7 L522.2 691.8 L511.2 690.2 L500.1 687.4 L489.1 682.7 L478.1 675.8 L467.1 667.2 L456.1 658.6 L445.1 651.5 L434.1 646.6 L423.1 643.6 L412.0 641.9 L401.0 641.0 L390.0 640.5 L379.0 640.3Z" fill="#a8d8e4" fill-opacity="0.45"/>
<path d="M379.0 642.9 L390.0 643.1 L401.0 643.3 L412.0 643.8 L423.1 644.7 L434.1 646.4 L445.1 649.0 L456.1 652.9 L467.1 657.6 L478.1 662.3 L489.1 666.1 L500.1 668.6 L511.2 670.2 L522.2 671.1 L533.2 671.5 L544.2 671.8 L544.2 672.7 L533.2 672.4 L522.2 672.0 L511.2 671.1 L500.1 669.5 L489.1 667.0 L478.1 663.2 L467.1 658.5 L456.1 653.8 L445.1 649.9 L434.1 647.2 L423.1 645.6 L412.0 644.6 L401.0 644.1 L390.0 643.9 L379.0 643.7Z" fill="#ecb3a8" fill-opacity="0.45"/>
<path d="M379.0 643.5 L390.0 644.0 L401.0 645.0 L412.0 646.8 L423.1 650.1 L434.1 656.0 L445.1 665.6 L456.1 679.6 L467.1 696.6 L478.1 713.5 L489.1 727.1 L500.1 736.3 L511.2 741.8 L522.2 745.0 L533.2 746.6 L544.2 747.5 L544.2 748.7 L533.2 747.8 L522.2 746.1 L511.2 743.0 L500.1 737.4 L489.1 728.1 L478.1 714.5 L467.1 697.6 L456.1 680.5 L445.1 666.5 L434.1 656.8 L423.1 650.9 L412.0 647.6 L401.0 645.8 L390.0 644.8 L379.0 644.3Z" fill="#bce8cc" fill-opacity="0.45"/>
<path d="M379.0 647.0 L390.0 647.4 L401.0 648.1 L412.0 649.5 L423.1 652.0 L434.1 656.6 L445.1 664.0 L456.1 674.7 L467.1 687.9 L478.1 700.8 L489.1 711.3 L500.1 718.4 L511.2 722.7 L522.2 725.1 L533.2 726.4 L544.2 727.0 L544.2 727.8 L533.2 727.2 L522.2 725.9 L511.2 723.5 L500.1 719.2 L489.1 712.1 L478.1 701.7 L467.1 688.8 L456.1 675.7 L445.1 665.0 L434.1 657.6 L423.1 653.1 L412.0 650.6 L401.0 649.2 L390.0 648.5 L379.0 648.1Z" fill="#e8c8bc" fill-opacity="0.45"/>
<path d="M379.0 650.7 L390.0 650.9 L401.0 651.1 L412.0 651.4 L423.1 652.1 L434.1 653.4 L445.1 655.4 L456.1 658.4 L467.1 662.0 L478.1 665.6 L489.1 668.4 L500.1 670.4 L511.2 671.6 L522.2 672.2 L533.2 672.6 L544.2 672.8 L544.2 673.7 L533.2 673.5 L522.2 673.2 L511.2 672.5 L500.1 671.3 L489.1 669.3 L478.1 666.5 L467.1 662.9 L456.1 659.2 L445.1 656.2 L434.1 654.2 L423.1 652.9 L412.0 652.2 L401.0 651.9 L390.0 651.7 L379.0 651.5Z" fill="#ecb3a8" fill-opacity="0.45"/>
<path d="M379.0 651.3 L390.0 651.5 L401.0 651.9 L412.0 652.6 L423.1 654.0 L434.1 656.3 L445.1 660.2 L456.1 665.9 L467.1 672.7 L478.1 679.5 L489.1 685.0 L500.1 688.7 L511.2 690.9 L522.2 692.2 L533.2 692.8 L544.2 693.2 L544.2 694.1 L533.2 693.7 L522.2 693.1 L511.2 691.8 L500.1 689.6 L489.1 685.8 L478.1 680.4 L467.1 673.6 L456.1 666.7 L445.1 661.0 L434.1 657.2 L423.1 654.8 L412.0 653.4 L401.0 652.7 L390.0 652.3 L379.0 652.1Z" fill="#a8d8e4" fill-opacity="0.45"/>
<path d="M379.0 654.8 L390.0 655.1 L401.0 655.5 L412.0 656.4 L423.1 658.0 L434.1 660.8 L445.1 665.5 L456.1 672.2 L467.1 680.5 L478.1 688.6 L489.1 695.2 L500.1 699.6 L511.2 702.3 L522.2 703.8 L533.2 704.7 L544.2 705.1 L544.2 706.2 L533.2 705.8 L522.2 705.0 L511.2 703.5 L500.1 700.8 L489.1 696.3 L478.1 689.7 L467.1 681.6 L456.1 673.3 L445.1 666.6 L434.1 661.9 L423.1 659.1 L412.0 657.5 L401.0 656.6 L390.0 656.1 L379.0 655.9Z" fill="#a0dcc0" fill-opacity="0.45"/>
<path d="M379.0 658.6 L390.0 658.6 L401.0 658.8 L412.0 659.0 L423.1 659.5 L434.1 660.4 L445.1 661.8 L456.1 663.8 L467.1 666.3 L478.1 668.8 L489.1 670.8 L500.1 672.2 L511.2 673.0 L522.2 673.4 L533.2 673.7 L544.2 673.8 L544.2 674.7 L533.2 674.6 L522.2 674.3 L511.2 673.9 L500.1 673.1 L489.1 671.7 L478.1 669.7 L467.1 667.2 L456.1 664.7 L445.1 662.6 L434.1 661.2 L423.1 660.3 L412.0 659.8 L401.0 659.6 L390.0 659.4 L379.0 659.4Z" fill="#ecb3a8" fill-opacity="0.45"/>
<path d="M379.0 659.2 L390.0 659.6 L401.0 660.5 L412.0 662.2 L423.1 665.2 L434.1 670.7 L445.1 679.6 L456.1 692.6 L467.1 708.3 L478.1 723.9 L489.1 736.5 L500.1 745.0 L511.2 750.2 L522.2 753.1 L533.2 754.7 L544.2 755.5 L544.2 756.8 L533.2 756.0 L522.2 754.4 L511.2 751.5 L500.1 746.3 L489.1 737.8 L478.1 725.1 L467.1 709.4 L456.1 693.5 L445.1 680.5 L434.1 671.5 L423.1 666.1 L412.0 663.0 L401.0 661.3 L390.0 660.4 L379.0 660.0Z" fill="#dcf4b4" fill-opacity="0.45"/>
<path d="M379.0 662.6 L390.0 663.0 L401.0 663.8 L412.0 665.3 L423.1 668.1 L434.1 672.9 L445.1 680.9 L456.1 692.5 L467.1 706.6 L478.1 720.6 L489.1 731.8 L500.1 739.5 L511.2 744.1 L522.2 746.7 L533.2 748.1 L544.2 748.8 L544.2 749.9 L533.2 749.2 L522.2 747.8 L511.2 745.2 L500.1 740.6 L489.1 733.0 L478.1 721.7 L467.1 707.7 L456.1 693.6 L445.1 682.0 L434.1 674.0 L423.1 669.1 L412.0 666.4 L401.0 664.9 L390.0 664.1 L379.0 663.7Z" fill="#bce8cc" fill-opacity="0.45"/>
<path d="M379.0 666.4 L390.0 666.4 L401.0 666.5 L412.0 666.6 L423.1 666.9 L434.1 667.4 L445.1 668.2 L456.1 669.3 L467.1 670.7 L478.1 672.1 L489.1 673.2 L500.1 673.9 L511.2 674.4 L522.2 674.6 L533.2 674.8 L544.2 674.8 L544.2 675.7 L533.2 675.7 L522.2 675.5 L511.2 675.3 L500.1 674.8 L489.1 674.1 L478.1 672.9 L467.1 671.6 L456.1 670.2 L445.1 669.0 L434.1 668.2 L423.1 667.7 L412.0 667.5 L401.0 667.3 L390.0 667.2 L379.0 667.2Z" fill="#ecb3a8" fill-opacity="0.45"/>
<path d="M379.0 667.0 L390.0 667.1 L401.0 667.4 L412.0 667.8 L423.1 668.7 L434.1 670.2 L445.1 672.8 L456.1 676.4 L467.1 680.9 L478.1 685.3 L489.1 688.8 L500.1 691.2 L511.2 692.7 L522.2 693.5 L533.2 694.0 L544.2 694.2 L544.2 695.1 L533.2 694.8 L522.2 694.4 L511.2 693.6 L500.1 692.1 L489.1 689.7 L478.1 686.1 L467.1 681.7 L456.1 677.2 L445.1 673.6 L434.1 671.0 L423.1 669.5 L412.0 668.6 L401.0 668.2 L390.0 667.9 L379.0 667.8Z" fill="#a8d8e4" fill-opacity="0.45"/>
<path d="M379.0 670.5 L390.0 670.9 L401.0 671.8 L412.0 673.6 L423.1 676.8 L434.1 682.4 L445.1 691.8 L456.1 705.2 L467.1 721.7 L478.1 738.0 L489.1 751.1 L500.1 760.0 L511.2 765.3 L522.2 768.4 L533.2 770.0 L544.2 770.8 L544.2 771.9 L533.2 771.0 L522.2 769.4 L511.2 766.4 L500.1 761.0 L489.1 752.1 L478.1 739.0 L467.1 722.8 L456.1 706.3 L445.1 692.8 L434.1 683.5 L423.1 677.9 L412.0 674.7 L401.0 672.9 L390.0 672.0 L379.0 671.5Z" fill="#e6d0b0" fill-opacity="0.45"/>
<path d="M379.0 673.7 L390.0 673.7 L401.0 673.7 L412.0 673.7 L423.1 673.8 L434.1 673.9 L445.1 674.1 L456.1 674.4 L467.1 674.8 L478.1 675.1 L489.1 675.4 L500.1 675.6 L511.2 675.7 L522.2 675.8 L533.2 675.8 L544.2 675.9 L544.2 676.8 L533.2 676.8 L522.2 676.7 L511.2 676.7 L500.1 676.6 L489.1 676.4 L478.1 676.1 L467.1 675.8 L456.1 675.5 L445.1 675.2 L434.1 675.1 L423.1 675.0 L412.0 674.9 L401.0 674.9 L390.0 674.8 L379.0 674.8Z" fill="#ecb3a8" fill-opacity="0.45"/>
<path d="M379.0 675.0 L390.0 675.1 L401.0 675.4 L412.0 675.9 L423.1 676.9 L434.1 678.7 L445.1 681.6 L456.1 685.8 L467.1 691.0 L478.1 696.1 L489.1 700.2 L500.1 702.9 L511.2 704.6 L522.2 705.6 L533.2 706.1 L544.2 706.3 L544.2 707.5 L533.2 707.2 L522.2 706.7 L511.2 705.7 L500.1 704.1 L489.1 701.3 L478.1 697.2 L467.1 692.1 L456.1 687.0 L445.1 682.8 L434.1 679.9 L423.1 678.1 L412.0 677.1 L401.0 676.6 L390.0 676.3 L379.0 676.1Z" fill="#a0dcc0" fill-opacity="0.45"/>
<path d="M379.0 677.6 L390.0 678.0 L401.0 678.6 L412.0 679.9 L423.1 682.2 L434.1 686.3 L445.1 693.0 L456.1 702.7 L467.1 714.6 L478.1 726.4 L489.1 735.8 L500.1 742.2 L511.2 746.1 L522.2 748.3 L533.2 749.4 L544.2 750.1 L544.2 751.2 L533.2 750.6 L522.2 749.4 L511.2 747.3 L500.1 743.5 L489.1 737.2 L478.1 727.9 L467.1 716.3 L456.1 704.7 L445.1 695.1 L434.1 688.5 L423.1 684.5 L412.0 682.2 L401.0 681.0 L390.0 680.3 L379.0 680.0Z" fill="#bce8cc" fill-opacity="0.45"/>
<path d="M379.0 682.0 L390.0 682.0 L401.0 682.0 L412.0 681.9 L423.1 681.7 L434.1 681.4 L445.1 680.9 L456.1 680.2 L467.1 679.4 L478.1 678.6 L489.1 677.9 L500.1 677.4 L511.2 677.2 L522.2 677.0 L533.2 676.9 L544.2 676.9 L544.2 677.8 L533.2 677.8 L522.2 677.9 L511.2 678.1 L500.1 678.3 L489.1 678.8 L478.1 679.4 L467.1 680.3 L456.1 681.1 L445.1 681.8 L434.1 682.2 L423.1 682.5 L412.0 682.7 L401.0 682.8 L390.0 682.8 L379.0 682.8Z" fill="#ecb3a8" fill-opacity="0.45"/>
<path d="M379.0 682.6 L390.0 682.8 L401.0 683.2 L412.0 684.0 L423.1 685.5 L434.1 688.0 L445.1 692.2 L456.1 698.3 L467.1 705.7 L478.1 713.1 L489.1 719.0 L500.1 723.0 L511.2 725.4 L522.2 726.8 L533.2 727.5 L544.2 727.9 L544.2 728.7 L533.2 728.3 L522.2 727.6 L511.2 726.2 L500.1 723.8 L489.1 719.8 L478.1 713.9 L467.1 706.5 L456.1 699.1 L445.1 693.0 L434.1 688.8 L423.1 686.3 L412.0 684.8 L401.0 684.0 L390.0 683.6 L379.0 683.4Z" fill="#e8c8bc" fill-opacity="0.45"/>
<path d="M379.0 686.1 L390.0 686.1 L401.0 686.2 L412.0 686.4 L423.1 686.7 L434.1 687.2 L445.1 688.0 L456.1 689.2 L467.1 690.7 L478.1 692.2 L489.1 693.4 L500.1 694.2 L511.2 694.7 L522.2 695.0 L533.2 695.1 L544.2 695.2 L544.2 696.1 L533.2 696.0 L522.2 695.9 L511.2 695.6 L500.1 695.1 L489.1 694.3 L478.1 693.2 L467.1 691.7 L456.1 690.3 L445.1 689.1 L434.1 688.2 L423.1 687.7 L412.0 687.4 L401.0 687.3 L390.0 687.2 L379.0 687.2Z" fill="#a8d8e4" fill-opacity="0.45"/>
<path d="M379.0 689.8 L390.0 689.8 L401.0 689.7 L412.0 689.5 L423.1 689.1 L434.1 688.4 L445.1 687.3 L456.1 685.7 L467.1 683.7 L478.1 681.8 L489.1 680.2 L500.1 679.2 L511.2 678.5 L522.2 678.2 L533.2 678.0 L544.2 677.9 L544.2 678.8 L533.2 678.9 L522.2 679.1 L511.2 679.5 L500.1 680.1 L489.1 681.1 L478.1 682.7 L467.1 684.6 L456.1 686.5 L445.1 688.1 L434.1 689.2 L423.1 689.9 L412.0 690.3 L401.0 690.5 L390.0 690.6 L379.0 690.6Z" fill="#ecb3a8" fill-opacity="0.45"/>
<path d="M379.0 690.4 L390.0 690.7 L401.0 691.3 L412.0 692.3 L423.1 694.3 L434.1 697.7 L445.1 703.4 L456.1 711.5 L467.1 721.5 L478.1 731.4 L489.1 739.3 L500.1 744.7 L511.2 748.0 L522.2 749.8 L533.2 750.8 L544.2 751.3 L544.2 752.5 L533.2 751.9 L522.2 751.0 L511.2 749.1 L500.1 745.8 L489.1 740.4 L478.1 732.4 L467.1 722.5 L456.1 712.5 L445.1 704.2 L434.1 698.6 L423.1 695.1 L412.0 693.1 L401.0 692.1 L390.0 691.5 L379.0 691.2Z" fill="#bce8cc" fill-opacity="0.45"/>
<path d="M379.0 693.9 L390.0 694.0 L401.0 694.1 L412.0 694.3 L423.1 694.8 L434.1 695.5 L445.1 696.8 L456.1 698.6 L467.1 700.9 L478.1 703.1 L489.1 704.9 L500.1 706.1 L511.2 706.8 L522.2 707.2 L533.2 707.5 L544.2 707.6 L544.2 708.7 L533.2 708.6 L522.2 708.4 L511.2 707.9 L500.1 707.2 L489.1 706.0 L478.1 704.2 L467.1 702.0 L456.1 699.7 L445.1 697.9 L434.1 696.6 L423.1 695.9 L412.0 695.4 L401.0 695.2 L390.0 695.1 L379.0 695.0Z" fill="#a0dcc0" fill-opacity="0.45"/>
<path d="M379.0 697.7 L390.0 697.6 L401.0 697.4 L412.0 697.1 L423.1 696.5 L434.1 695.4 L445.1 693.7 L456.1 691.2 L467.1 688.1 L478.1 685.1 L489.1 682.6 L500.1 680.9 L511.2 679.9 L522.2 679.4 L533.2 679.1 L544.2 678.9 L544.2 679.8 L533.2 680.0 L522.2 680.3 L511.2 680.9 L500.1 681.9 L489.1 683.5 L478.1 685.9 L467.1 689.0 L456.1 692.0 L445.1 694.5 L434.1 696.2 L423.1 697.3 L412.0 697.9 L401.0 698.2 L390.0 698.4 L379.0 698.5Z" fill="#ecb3a8" fill-opacity="0.45"/>
<path d="M379.0 698.3 L390.0 698.6 L401.0 699.3 L412.0 700.6 L423.1 702.9 L434.1 707.1 L445.1 713.9 L456.1 723.8 L467.1 735.9 L478.1 747.9 L489.1 757.5 L500.1 764.0 L511.2 768.0 L522.2 770.2 L533.2 771.4 L544.2 772.0 L544.2 773.1 L533.2 772.4 L522.2 771.2 L511.2 769.0 L500.1 765.1 L489.1 758.5 L478.1 748.8 L467.1 736.8 L456.1 724.7 L445.1 714.8 L434.1 707.9 L423.1 703.7 L412.0 701.4 L401.0 700.1 L390.0 699.4 L379.0 699.1Z" fill="#e6d0b0" fill-opacity="0.45"/>
<path d="M379.0 701.7 L390.0 702.0 L401.0 702.5 L412.0 703.4 L423.1 705.2 L434.1 708.3 L445.1 713.5 L456.1 720.9 L467.1 729.9 L478.1 738.9 L489.1 746.1 L500.1 751.0 L511.2 754.0 L522.2 755.6 L533.2 756.5 L544.2 757.0 L544.2 758.3 L533.2 757.9 L522.2 757.0 L511.2 755.3 L500.1 752.3 L489.1 747.4 L478.1 740.2 L467.1 731.2 L456.1 722.1 L445.1 714.6 L434.1 709.4 L423.1 706.3 L412.0 704.5 L401.0 703.6 L390.0 703.1 L379.0 702.8Z" fill="#dcf4b4" fill-opacity="0.45"/>
<path d="M379.0 705.5 L390.0 705.4 L401.0 705.1 L412.0 704.7 L423.1 703.9 L434.1 702.4 L445.1 700.1 L456.1 696.6 L467.1 692.4 L478.1 688.3 L489.1 685.0 L500.1 682.7 L511.2 681.3 L522.2 680.6 L533.2 680.2 L544.2 679.9 L544.2 680.9 L533.2 681.1 L522.2 681.5 L511.2 682.3 L500.1 683.6 L489.1 685.9 L478.1 689.2 L467.1 693.3 L456.1 697.5 L445.1 700.9 L434.1 703.2 L423.1 704.7 L412.0 705.5 L401.0 705.9 L390.0 706.2 L379.0 706.3Z" fill="#ecb3a8" fill-opacity="0.45"/>
<path d="M379.0 706.1 L390.0 706.3 L401.0 706.7 L412.0 707.5 L423.1 709.0 L434.1 711.6 L445.1 715.9 L456.1 722.2 L467.1 729.8 L478.1 737.4 L489.1 743.4 L500.1 747.6 L511.2 750.1 L522.2 751.4 L533.2 752.2 L544.2 752.6 L544.2 753.7 L533.2 753.3 L522.2 752.6 L511.2 751.2 L500.1 748.7 L489.1 744.5 L478.1 738.4 L467.1 730.8 L456.1 723.1 L445.1 716.8 L434.1 712.5 L423.1 709.8 L412.0 708.3 L401.0 707.5 L390.0 707.1 L379.0 706.9Z" fill="#bce8cc" fill-opacity="0.45"/>
<path d="M379.0 709.6 L390.0 709.6 L401.0 709.8 L412.0 710.1 L423.1 710.8 L434.1 711.8 L445.1 713.6 L456.1 716.2 L467.1 719.4 L478.1 722.5 L489.1 725.0 L500.1 726.7 L511.2 727.7 L522.2 728.3 L533.2 728.6 L544.2 728.8 L544.2 729.6 L533.2 729.4 L522.2 729.1 L511.2 728.5 L500.1 727.5 L489.1 725.8 L478.1 723.4 L467.1 720.3 L456.1 717.2 L445.1 714.6 L434.1 712.9 L423.1 711.8 L412.0 711.2 L401.0 710.9 L390.0 710.7 L379.0 710.6Z" fill="#e8c8bc" fill-opacity="0.45"/>
<path d="M379.0 713.3 L390.0 713.1 L401.0 712.9 L412.0 712.3 L423.1 711.3 L434.1 709.4 L445.1 706.4 L456.1 702.1 L467.1 696.8 L478.1 691.5 L489.1 687.3 L500.1 684.5 L511.2 682.7 L522.2 681.8 L533.2 681.2 L544.2 681.0 L544.2 681.9 L533.2 682.2 L522.2 682.7 L511.2 683.6 L500.1 685.4 L489.1 688.2 L478.1 692.4 L467.1 697.7 L456.1 702.9 L445.1 707.3 L434.1 710.3 L423.1 712.1 L412.0 713.1 L401.0 713.7 L390.0 713.9 L379.0 714.1Z" fill="#ecb3a8" fill-opacity="0.45"/>
<path d="M379.0 713.9 L390.0 714.1 L401.0 714.6 L412.0 715.4 L423.1 716.9 L434.1 719.7 L445.1 724.1 L456.1 730.6 L467.1 738.5 L478.1 746.3 L489.1 752.6 L500.1 756.8 L511.2 759.4 L522.2 760.9 L533.2 761.6 L544.2 762.0 L544.2 762.9 L533.2 762.5 L522.2 761.7 L511.2 760.3 L500.1 757.7 L489.1 753.4 L478.1 747.1 L467.1 739.3 L456.1 731.4 L445.1 724.9 L434.1 720.5 L423.1 717.7 L412.0 716.2 L401.0 715.4 L390.0 714.9 L379.0 714.7Z" fill="#e0b88a" fill-opacity="0.45"/>
<path d="M379.0 717.4 L390.0 717.2 L401.0 716.9 L412.0 716.3 L423.1 715.1 L434.1 713.1 L445.1 709.9 L456.1 705.1 L467.1 699.3 L478.1 693.6 L489.1 689.0 L500.1 685.8 L511.2 683.9 L522.2 682.9 L533.2 682.3 L544.2 682.0 L544.2 682.9 L533.2 683.2 L522.2 683.8 L511.2 684.8 L500.1 686.7 L489.1 689.8 L478.1 694.4 L467.1 700.2 L456.1 705.9 L445.1 710.7 L434.1 714.0 L423.1 715.9 L412.0 717.1 L401.0 717.7 L390.0 718.0 L379.0 718.2Z" fill="#ecb3a8" fill-opacity="0.45"/>
<path d="M379.0 718.0 L390.0 718.2 L401.0 718.6 L412.0 719.4 L423.1 720.8 L434.1 723.3 L445.1 727.5 L456.1 733.6 L467.1 741.0 L478.1 748.3 L489.1 754.1 L500.1 758.1 L511.2 760.5 L522.2 761.9 L533.2 762.6 L544.2 763.0 L544.2 763.9 L533.2 763.5 L522.2 762.8 L511.2 761.4 L500.1 759.0 L489.1 755.0 L478.1 749.1 L467.1 741.8 L456.1 734.4 L445.1 728.3 L434.1 724.2 L423.1 721.6 L412.0 720.2 L401.0 719.4 L390.0 719.0 L379.0 718.8Z" fill="#e0b88a" fill-opacity="0.45"/>
<path d="M379.0 721.4 L390.0 721.3 L401.0 721.1 L412.0 720.6 L423.1 719.8 L434.1 718.4 L445.1 716.1 L456.1 712.7 L467.1 708.5 L478.1 704.4 L489.1 701.1 L500.1 698.9 L511.2 697.6 L522.2 696.8 L533.2 696.4 L544.2 696.2 L544.2 697.1 L533.2 697.3 L522.2 697.7 L511.2 698.4 L500.1 699.8 L489.1 702.0 L478.1 705.3 L467.1 709.4 L456.1 713.5 L445.1 716.9 L434.1 719.2 L423.1 720.6 L412.0 721.5 L401.0 721.9 L390.0 722.1 L379.0 722.2Z" fill="#a8d8e4" fill-opacity="0.45"/>
<path d="M379.0 722.0 L390.0 722.2 L401.0 722.6 L412.0 723.3 L423.1 724.7 L434.1 727.0 L445.1 730.9 L456.1 736.6 L467.1 743.4 L478.1 750.2 L489.1 755.7 L500.1 759.4 L511.2 761.7 L522.2 762.9 L533.2 763.6 L544.2 764.0 L544.2 764.9 L533.2 764.5 L522.2 763.8 L511.2 762.6 L500.1 760.3 L489.1 756.6 L478.1 751.1 L467.1 744.3 L456.1 737.4 L445.1 731.7 L434.1 727.9 L423.1 725.5 L412.0 724.1 L401.0 723.4 L390.0 723.0 L379.0 722.8Z" fill="#e0b88a" fill-opacity="0.45"/>
<path d="M379.0 725.7 L390.0 725.8 L401.0 726.2 L412.0 726.9 L423.1 728.1 L434.1 730.4 L445.1 734.0 L456.1 739.3 L467.1 745.7 L478.1 752.1 L489.1 757.2 L500.1 760.7 L511.2 762.8 L522.2 764.0 L533.2 764.6 L544.2 764.9 L544.2 765.8 L533.2 765.5 L522.2 764.9 L511.2 763.7 L500.1 761.6 L489.1 758.1 L478.1 753.0 L467.1 746.7 L456.1 740.3 L445.1 735.0 L434.1 731.4 L423.1 729.2 L412.0 728.0 L401.0 727.3 L390.0 726.9 L379.0 726.7Z" fill="#e0b88a" fill-opacity="0.45"/>
<path d="M379.0 729.6 L390.0 729.3 L401.0 728.9 L412.0 728.1 L423.1 726.6 L434.1 724.0 L445.1 719.7 L456.1 713.4 L467.1 705.8 L478.1 698.2 L489.1 692.2 L500.1 688.0 L511.2 685.6 L522.2 684.2 L533.2 683.4 L544.2 683.0 L544.2 683.9 L533.2 684.3 L522.2 685.1 L511.2 686.5 L500.1 689.0 L489.1 693.1 L478.1 699.1 L467.1 706.7 L456.1 714.3 L445.1 720.5 L434.1 724.8 L423.1 727.4 L412.0 728.9 L401.0 729.7 L390.0 730.1 L379.0 730.4Z" fill="#ecb3a8" fill-opacity="0.45"/>
<path d="M379.0 730.2 L390.0 730.1 L401.0 729.9 L412.0 729.5 L423.1 728.8 L434.1 727.6 L445.1 725.6 L456.1 722.8 L467.1 719.3 L478.1 715.8 L489.1 713.0 L500.1 711.1 L511.2 710.0 L522.2 709.3 L533.2 709.0 L544.2 708.8 L544.2 709.9 L533.2 710.1 L522.2 710.5 L511.2 711.1 L500.1 712.2 L489.1 714.1 L478.1 716.8 L467.1 720.2 L456.1 723.7 L445.1 726.5 L434.1 728.5 L423.1 729.6 L412.0 730.3 L401.0 730.7 L390.0 730.9 L379.0 731.0Z" fill="#a0dcc0" fill-opacity="0.45"/>
<path d="M379.0 733.8 L390.0 734.0 L401.0 734.3 L412.0 735.0 L423.1 736.3 L434.1 738.5 L445.1 742.2 L456.1 747.4 L467.1 753.9 L478.1 760.3 L489.1 765.4 L500.1 768.9 L511.2 771.0 L522.2 772.2 L533.2 772.8 L544.2 773.2 L544.2 774.2 L533.2 773.9 L522.2 773.3 L511.2 772.1 L500.1 770.0 L489.1 766.5 L478.1 761.4 L467.1 755.0 L456.1 748.5 L445.1 743.2 L434.1 739.6 L423.1 737.4 L412.0 736.1 L401.0 735.4 L390.0 735.1 L379.0 734.9Z" fill="#e6d0b0" fill-opacity="0.45"/>
<path d="M379.0 737.7 L390.0 737.4 L401.0 737.0 L412.0 736.0 L423.1 734.3 L434.1 731.3 L445.1 726.3 L456.1 719.1 L467.1 710.3 L478.1 701.6 L489.1 694.6 L500.1 689.8 L511.2 687.0 L522.2 685.4 L533.2 684.5 L544.2 684.0 L544.2 684.9 L533.2 685.4 L522.2 686.3 L511.2 687.9 L500.1 690.7 L489.1 695.5 L478.1 702.5 L467.1 711.2 L456.1 719.9 L445.1 727.1 L434.1 732.1 L423.1 735.1 L412.0 736.8 L401.0 737.8 L390.0 738.2 L379.0 738.5Z" fill="#ecb3a8" fill-opacity="0.45"/>
<path d="M379.0 738.3 L390.0 738.4 L401.0 738.6 L412.0 738.9 L423.1 739.6 L434.1 740.7 L445.1 742.6 L456.1 745.3 L467.1 748.6 L478.1 751.9 L489.1 754.5 L500.1 756.3 L511.2 757.4 L522.2 758.0 L533.2 758.3 L544.2 758.5 L544.2 759.8 L533.2 759.6 L522.2 759.3 L511.2 758.7 L500.1 757.6 L489.1 755.7 L478.1 753.0 L467.1 749.7 L456.1 746.3 L445.1 743.5 L434.1 741.6 L423.1 740.4 L412.0 739.7 L401.0 739.4 L390.0 739.2 L379.0 739.1Z" fill="#dcf4b4" fill-opacity="0.45"/>
<path d="M379.0 741.8 L390.0 741.9 L401.0 742.1 L412.0 742.5 L423.1 743.3 L434.1 744.7 L445.1 746.9 L456.1 750.1 L467.1 754.1 L478.1 758.0 L489.1 761.2 L500.1 763.3 L511.2 764.6 L522.2 765.3 L533.2 765.7 L544.2 765.9 L544.2 766.8 L533.2 766.6 L522.2 766.2 L511.2 765.5 L500.1 764.2 L489.1 762.0 L478.1 758.9 L467.1 754.9 L456.1 751.0 L445.1 747.7 L434.1 745.5 L423.1 744.1 L412.0 743.3 L401.0 742.9 L390.0 742.7 L379.0 742.6Z" fill="#e0b88a" fill-opacity="0.45"/>
<path d="M379.0 742.4 L390.0 742.6 L401.0 743.2 L412.0 744.2 L423.1 746.1 L434.1 749.5 L445.1 755.0 L456.1 763.0 L467.1 772.8 L478.1 782.4 L489.1 790.2 L500.1 795.5 L511.2 798.7 L522.2 800.5 L533.2 801.4 L544.2 801.9 L544.2 802.8 L533.2 802.3 L522.2 801.3 L511.2 799.6 L500.1 796.4 L489.1 791.1 L478.1 783.3 L467.1 773.6 L456.1 763.8 L445.1 755.8 L434.1 750.3 L423.1 746.9 L412.0 745.0 L401.0 744.0 L390.0 743.4 L379.0 743.2Z" fill="#e07a82" fill-opacity="0.45"/>
<path d="M379.0 745.8 L390.0 745.9 L401.0 746.1 L412.0 746.5 L423.1 747.2 L434.1 748.3 L445.1 750.3 L456.1 753.1 L467.1 756.6 L478.1 760.0 L489.1 762.7 L500.1 764.6 L511.2 765.7 L522.2 766.4 L533.2 766.7 L544.2 766.9 L544.2 767.8 L533.2 767.6 L522.2 767.2 L511.2 766.6 L500.1 765.5 L489.1 763.6 L478.1 760.8 L467.1 757.4 L456.1 754.0 L445.1 751.1 L434.1 749.2 L423.1 748.0 L412.0 747.3 L401.0 746.9 L390.0 746.7 L379.0 746.6Z" fill="#e0b88a" fill-opacity="0.45"/>
<path d="M379.0 746.4 L390.0 746.7 L401.0 747.2 L412.0 748.2 L423.1 750.0 L434.1 753.2 L445.1 758.4 L456.1 766.0 L467.1 775.3 L478.1 784.4 L489.1 791.8 L500.1 796.8 L511.2 799.8 L522.2 801.5 L533.2 802.4 L544.2 802.9 L544.2 803.8 L533.2 803.3 L522.2 802.4 L511.2 800.7 L500.1 797.7 L489.1 792.7 L478.1 785.3 L467.1 776.1 L456.1 766.8 L445.1 759.2 L434.1 754.0 L423.1 750.8 L412.0 749.0 L401.0 748.0 L390.0 747.5 L379.0 747.2Z" fill="#e07a82" fill-opacity="0.45"/>
<path d="M379.0 749.9 L390.0 749.7 L401.0 749.2 L412.0 748.3 L423.1 746.6 L434.1 743.6 L445.1 738.7 L456.1 731.6 L467.1 723.0 L478.1 714.4 L489.1 707.5 L500.1 702.9 L511.2 700.0 L522.2 698.5 L533.2 697.6 L544.2 697.2 L544.2 698.1 L533.2 698.5 L522.2 699.4 L511.2 700.9 L500.1 703.7 L489.1 708.4 L478.1 715.3 L467.1 723.8 L456.1 732.4 L445.1 739.5 L434.1 744.4 L423.1 747.4 L412.0 749.1 L401.0 750.0 L390.0 750.5 L379.0 750.7Z" fill="#a8d8e4" fill-opacity="0.45"/>
<path d="M379.0 750.5 L390.0 750.8 L401.0 751.2 L412.0 752.2 L423.1 753.9 L434.1 756.9 L445.1 761.8 L456.1 769.0 L467.1 777.8 L478.1 786.4 L489.1 793.4 L500.1 798.1 L511.2 801.0 L522.2 802.6 L533.2 803.4 L544.2 803.9 L544.2 804.8 L533.2 804.3 L522.2 803.4 L511.2 801.8 L500.1 799.0 L489.1 794.2 L478.1 787.3 L467.1 778.6 L456.1 769.8 L445.1 762.6 L434.1 757.7 L423.1 754.7 L412.0 753.0 L401.0 752.0 L390.0 751.6 L379.0 751.3Z" fill="#e07a82" fill-opacity="0.45"/>
<path d="M379.0 754.8 L390.0 754.6 L401.0 754.2 L412.0 753.5 L423.1 752.1 L434.1 749.8 L445.1 745.9 L456.1 740.2 L467.1 733.3 L478.1 726.5 L489.1 721.0 L500.1 717.2 L511.2 715.0 L522.2 713.7 L533.2 713.0 L544.2 712.7 L544.2 714.2 L533.2 714.5 L522.2 715.2 L511.2 716.4 L500.1 718.6 L489.1 722.3 L478.1 727.7 L467.1 734.4 L456.1 741.2 L445.1 746.8 L434.1 750.6 L423.1 753.0 L412.0 754.3 L401.0 755.0 L390.0 755.4 L379.0 755.6Z" fill="#b0c0e0" fill-opacity="0.45"/>
<path d="M379.0 755.5 L390.0 755.4 L401.0 755.1 L412.0 754.7 L423.1 753.9 L434.1 752.4 L445.1 750.0 L456.1 746.5 L467.1 742.3 L478.1 738.1 L489.1 734.7 L500.1 732.4 L511.2 731.1 L522.2 730.3 L533.2 729.9 L544.2 729.6 L544.2 730.4 L533.2 730.7 L522.2 731.1 L511.2 731.9 L500.1 733.2 L489.1 735.5 L478.1 738.9 L467.1 743.1 L456.1 747.3 L445.1 750.8 L434.1 753.2 L423.1 754.7 L412.0 755.5 L401.0 755.9 L390.0 756.2 L379.0 756.3Z" fill="#e8c8bc" fill-opacity="0.45"/>
<path d="M379.0 756.2 L390.0 756.1 L401.0 756.0 L412.0 755.7 L423.1 755.1 L434.1 754.1 L445.1 752.5 L456.1 750.2 L467.1 747.4 L478.1 744.6 L489.1 742.4 L500.1 740.8 L511.2 739.9 L522.2 739.4 L533.2 739.1 L544.2 739.0 L544.2 739.9 L533.2 740.1 L522.2 740.4 L511.2 740.9 L500.1 741.8 L489.1 743.3 L478.1 745.5 L467.1 748.3 L456.1 751.1 L445.1 753.4 L434.1 755.0 L423.1 755.9 L412.0 756.5 L401.0 756.8 L390.0 756.9 L379.0 757.0Z" fill="#a0b4e4" fill-opacity="0.45"/>
<path d="M379.0 756.9 L390.0 757.0 L401.0 757.2 L412.0 757.5 L423.1 758.1 L434.1 759.2 L445.1 761.0 L456.1 763.6 L467.1 766.7 L478.1 769.8 L489.1 772.4 L500.1 774.1 L511.2 775.1 L522.2 775.7 L533.2 776.0 L544.2 776.1 L544.2 776.9 L533.2 776.8 L522.2 776.5 L511.2 775.9 L500.1 774.9 L489.1 773.2 L478.1 770.6 L467.1 767.5 L456.1 764.4 L445.1 761.8 L434.1 760.0 L423.1 758.9 L412.0 758.3 L401.0 758.0 L390.0 757.8 L379.0 757.7Z" fill="#80acd8" fill-opacity="0.45"/>
<path d="M379.0 757.6 L390.0 757.7 L401.0 758.0 L412.0 758.4 L423.1 759.3 L434.1 760.8 L445.1 763.3 L456.1 766.9 L467.1 771.2 L478.1 775.6 L489.1 779.0 L500.1 781.4 L511.2 782.8 L522.2 783.6 L533.2 784.1 L544.2 784.3 L544.2 785.1 L533.2 784.9 L522.2 784.4 L511.2 783.6 L500.1 782.2 L489.1 779.8 L478.1 776.4 L467.1 772.0 L456.1 767.7 L445.1 764.1 L434.1 761.6 L423.1 760.1 L412.0 759.2 L401.0 758.8 L390.0 758.5 L379.0 758.4Z" fill="#f0aa66" fill-opacity="0.45"/>
<path d="M379.0 758.3 L390.0 758.5 L401.0 758.8 L412.0 759.4 L423.1 760.5 L434.1 762.4 L445.1 765.6 L456.1 770.2 L467.1 775.9 L478.1 781.4 L489.1 785.9 L500.1 789.0 L511.2 790.8 L522.2 791.9 L533.2 792.4 L544.2 792.7 L544.2 793.5 L533.2 793.2 L522.2 792.7 L511.2 791.6 L500.1 789.8 L489.1 786.7 L478.1 782.2 L467.1 776.7 L456.1 771.0 L445.1 766.4 L434.1 763.2 L423.1 761.3 L412.0 760.2 L401.0 759.6 L390.0 759.3 L379.0 759.1Z" fill="#77cc77" fill-opacity="0.45"/>
<path d="M379.0 759.0 L390.0 759.2 L401.0 759.7 L412.0 760.5 L423.1 762.0 L434.1 764.8 L445.1 769.2 L456.1 775.7 L467.1 783.6 L478.1 791.5 L489.1 797.8 L500.1 802.0 L511.2 804.6 L522.2 806.1 L533.2 806.8 L544.2 807.3 L544.2 808.2 L533.2 807.8 L522.2 807.0 L511.2 805.6 L500.1 803.0 L489.1 798.7 L478.1 792.4 L467.1 784.5 L456.1 776.6 L445.1 770.1 L434.1 765.6 L423.1 762.8 L412.0 761.3 L401.0 760.5 L390.0 760.0 L379.0 759.8Z" fill="#b090e0" fill-opacity="0.45"/>
<path d="M379.0 762.6 L390.0 762.3 L401.0 761.9 L412.0 761.1 L423.1 759.5 L434.1 756.8 L445.1 752.3 L456.1 745.8 L467.1 737.9 L478.1 730.1 L489.1 723.8 L500.1 719.5 L511.2 717.0 L522.2 715.5 L533.2 714.7 L544.2 714.3 L544.2 715.8 L533.2 716.2 L522.2 717.0 L511.2 718.4 L500.1 720.9 L489.1 725.2 L478.1 731.4 L467.1 739.1 L456.1 746.9 L445.1 753.3 L434.1 757.7 L423.1 760.4 L412.0 761.9 L401.0 762.7 L390.0 763.1 L379.0 763.4Z" fill="#b0c0e0" fill-opacity="0.45"/>
<path d="M379.0 763.3 L390.0 763.1 L401.0 762.8 L412.0 762.3 L423.1 761.2 L434.1 759.4 L445.1 756.3 L456.1 751.9 L467.1 746.5 L478.1 741.2 L489.1 737.0 L500.1 734.1 L511.2 732.3 L522.2 731.3 L533.2 730.8 L544.2 730.5 L544.2 731.3 L533.2 731.6 L522.2 732.1 L511.2 733.1 L500.1 734.9 L489.1 737.8 L478.1 742.0 L467.1 747.3 L456.1 752.7 L445.1 757.1 L434.1 760.2 L423.1 762.0 L412.0 763.1 L401.0 763.6 L390.0 763.9 L379.0 764.1Z" fill="#e8c8bc" fill-opacity="0.45"/>
<path d="M379.0 764.0 L390.0 763.9 L401.0 763.7 L412.0 763.2 L423.1 762.5 L434.1 761.1 L445.1 758.9 L456.1 755.7 L467.1 751.8 L478.1 747.9 L489.1 744.8 L500.1 742.6 L511.2 741.4 L522.2 740.6 L533.2 740.3 L544.2 740.1 L544.2 741.0 L533.2 741.2 L522.2 741.6 L511.2 742.3 L500.1 743.6 L489.1 745.7 L478.1 748.8 L467.1 752.7 L456.1 756.6 L445.1 759.7 L434.1 761.9 L423.1 763.3 L412.0 764.0 L401.0 764.5 L390.0 764.7 L379.0 764.8Z" fill="#a0b4e4" fill-opacity="0.45"/>
<path d="M379.0 764.7 L390.0 764.8 L401.0 764.9 L412.0 765.1 L423.1 765.5 L434.1 766.1 L445.1 767.3 L456.1 768.9 L467.1 770.9 L478.1 772.9 L489.1 774.4 L500.1 775.5 L511.2 776.2 L522.2 776.5 L533.2 776.7 L544.2 776.8 L544.2 777.6 L533.2 777.5 L522.2 777.3 L511.2 777.0 L500.1 776.3 L489.1 775.2 L478.1 773.7 L467.1 771.7 L456.1 769.7 L445.1 768.1 L434.1 766.9 L423.1 766.3 L412.0 765.9 L401.0 765.7 L390.0 765.6 L379.0 765.5Z" fill="#80acd8" fill-opacity="0.45"/>
<path d="M379.0 765.4 L390.0 765.5 L401.0 765.7 L412.0 766.0 L423.1 766.7 L434.1 767.8 L445.1 769.6 L456.1 772.2 L467.1 775.5 L478.1 778.6 L489.1 781.2 L500.1 783.0 L511.2 784.0 L522.2 784.6 L533.2 784.9 L544.2 785.1 L544.2 785.9 L533.2 785.7 L522.2 785.4 L511.2 784.8 L500.1 783.8 L489.1 782.0 L478.1 779.4 L467.1 776.3 L456.1 773.0 L445.1 770.4 L434.1 768.6 L423.1 767.5 L412.0 766.8 L401.0 766.5 L390.0 766.3 L379.0 766.2Z" fill="#f0aa66" fill-opacity="0.45"/>
<path d="M379.0 766.1 L390.0 766.3 L401.0 766.5 L412.0 767.0 L423.1 767.9 L434.1 769.4 L445.1 771.9 L456.1 775.6 L467.1 780.1 L478.1 784.6 L489.1 788.1 L500.1 790.6 L511.2 792.0 L522.2 792.9 L533.2 793.3 L544.2 793.5 L544.2 794.3 L533.2 794.1 L522.2 793.7 L511.2 792.8 L500.1 791.4 L489.1 788.9 L478.1 785.4 L467.1 780.9 L456.1 776.4 L445.1 772.7 L434.1 770.2 L423.1 768.7 L412.0 767.8 L401.0 767.3 L390.0 767.1 L379.0 766.9Z" fill="#77cc77" fill-opacity="0.45"/>
<path d="M379.0 766.8 L390.0 767.0 L401.0 767.4 L412.0 768.1 L423.1 769.5 L434.1 771.8 L445.1 775.6 L456.1 781.2 L467.1 788.0 L478.1 794.8 L489.1 800.2 L500.1 803.8 L511.2 806.1 L522.2 807.3 L533.2 808.0 L544.2 808.3 L544.2 809.3 L533.2 809.0 L522.2 808.3 L511.2 807.0 L500.1 804.8 L489.1 801.1 L478.1 795.7 L467.1 788.9 L456.1 782.1 L445.1 776.5 L434.1 772.6 L423.1 770.3 L412.0 768.9 L401.0 768.2 L390.0 767.8 L379.0 767.6Z" fill="#b090e0" fill-opacity="0.45"/>
<path d="M379.0 771.0 L390.0 770.8 L401.0 770.3 L412.0 769.3 L423.1 767.6 L434.1 764.5 L445.1 759.4 L456.1 751.9 L467.1 742.9 L478.1 734.0 L489.1 726.8 L500.1 721.9 L511.2 719.0 L522.2 717.3 L533.2 716.4 L544.2 716.0 L544.2 717.4 L533.2 717.9 L522.2 718.8 L511.2 720.4 L500.1 723.3 L489.1 728.1 L478.1 735.2 L467.1 744.1 L456.1 753.0 L445.1 760.3 L434.1 765.3 L423.1 768.4 L412.0 770.2 L401.0 771.1 L390.0 771.6 L379.0 771.8Z" fill="#b0c0e0" fill-opacity="0.45"/>
<path d="M379.0 771.8 L390.0 771.6 L401.0 771.3 L412.0 770.6 L423.1 769.3 L434.1 767.0 L445.1 763.2 L456.1 757.8 L467.1 751.2 L478.1 744.6 L489.1 739.3 L500.1 735.8 L511.2 733.6 L522.2 732.4 L533.2 731.7 L544.2 731.4 L544.2 732.2 L533.2 732.5 L522.2 733.2 L511.2 734.4 L500.1 736.6 L489.1 740.1 L478.1 745.4 L467.1 752.0 L456.1 758.6 L445.1 764.0 L434.1 767.8 L423.1 770.1 L412.0 771.4 L401.0 772.1 L390.0 772.4 L379.0 772.6Z" fill="#e8c8bc" fill-opacity="0.45"/>
<path d="M379.0 772.6 L390.0 772.6 L401.0 772.7 L412.0 772.8 L423.1 772.9 L434.1 773.2 L445.1 773.6 L456.1 774.3 L467.1 775.1 L478.1 775.9 L489.1 776.6 L500.1 777.0 L511.2 777.2 L522.2 777.4 L533.2 777.5 L544.2 777.5 L544.2 778.3 L533.2 778.3 L522.2 778.2 L511.2 778.0 L500.1 777.8 L489.1 777.4 L478.1 776.7 L467.1 775.9 L456.1 775.1 L445.1 774.4 L434.1 774.0 L423.1 773.7 L412.0 773.6 L401.0 773.5 L390.0 773.4 L379.0 773.4Z" fill="#80acd8" fill-opacity="0.45"/>
<path d="M379.0 773.4 L390.0 773.4 L401.0 773.6 L412.0 773.8 L423.1 774.2 L434.1 774.9 L445.1 776.0 L456.1 777.7 L467.1 779.8 L478.1 781.8 L489.1 783.4 L500.1 784.5 L511.2 785.2 L522.2 785.6 L533.2 785.8 L544.2 785.9 L544.2 786.7 L533.2 786.6 L522.2 786.4 L511.2 786.0 L500.1 785.3 L489.1 784.2 L478.1 782.6 L467.1 780.6 L456.1 778.5 L445.1 776.8 L434.1 775.7 L423.1 775.0 L412.0 774.6 L401.0 774.4 L390.0 774.2 L379.0 774.2Z" fill="#f0aa66" fill-opacity="0.45"/>
<path d="M379.0 774.2 L390.0 774.3 L401.0 774.4 L412.0 774.8 L423.1 775.4 L434.1 776.6 L445.1 778.4 L456.1 781.2 L467.1 784.5 L478.1 787.7 L489.1 790.4 L500.1 792.2 L511.2 793.3 L522.2 793.9 L533.2 794.2 L544.2 794.4 L544.2 795.2 L533.2 795.0 L522.2 794.7 L511.2 794.1 L500.1 793.0 L489.1 791.2 L478.1 788.5 L467.1 785.3 L456.1 782.0 L445.1 779.2 L434.1 777.4 L423.1 776.2 L412.0 775.6 L401.0 775.2 L390.0 775.1 L379.0 775.0Z" fill="#77cc77" fill-opacity="0.45"/>
<path d="M379.0 778.1 L390.0 777.9 L401.0 777.3 L412.0 776.3 L423.1 774.3 L434.1 770.9 L445.1 765.3 L456.1 757.2 L467.1 747.2 L478.1 737.4 L489.1 729.5 L500.1 724.1 L511.2 720.9 L522.2 719.1 L533.2 718.1 L544.2 717.6 L544.2 719.1 L533.2 719.6 L522.2 720.5 L511.2 722.3 L500.1 725.5 L489.1 730.9 L478.1 738.7 L467.1 748.4 L456.1 758.2 L445.1 766.2 L434.1 771.8 L423.1 775.2 L412.0 777.1 L401.0 778.1 L390.0 778.7 L379.0 778.9Z" fill="#b0c0e0" fill-opacity="0.45"/>
<path d="M379.0 778.9 L390.0 778.7 L401.0 778.3 L412.0 777.5 L423.1 776.0 L434.1 773.4 L445.1 769.0 L456.1 762.7 L467.1 755.1 L478.1 747.5 L489.1 741.4 L500.1 737.3 L511.2 734.8 L522.2 733.4 L533.2 732.7 L544.2 732.3 L544.2 733.1 L533.2 733.5 L522.2 734.2 L511.2 735.6 L500.1 738.1 L489.1 742.2 L478.1 748.3 L467.1 755.9 L456.1 763.5 L445.1 769.8 L434.1 774.2 L423.1 776.8 L412.0 778.3 L401.0 779.1 L390.0 779.5 L379.0 779.7Z" fill="#e8c8bc" fill-opacity="0.45"/>
<path d="M379.0 779.7 L390.0 779.7 L401.0 779.7 L412.0 779.7 L423.1 779.6 L434.1 779.5 L445.1 779.4 L456.1 779.2 L467.1 778.9 L478.1 778.7 L489.1 778.5 L500.1 778.4 L511.2 778.3 L522.2 778.2 L533.2 778.2 L544.2 778.2 L544.2 779.0 L533.2 779.0 L522.2 779.0 L511.2 779.1 L500.1 779.2 L489.1 779.3 L478.1 779.5 L467.1 779.7 L456.1 780.0 L445.1 780.2 L434.1 780.3 L423.1 780.4 L412.0 780.5 L401.0 780.5 L390.0 780.5 L379.0 780.5Z" fill="#80acd8" fill-opacity="0.45"/>
<path d="M379.0 780.5 L390.0 780.5 L401.0 780.6 L412.0 780.7 L423.1 780.9 L434.1 781.2 L445.1 781.8 L456.1 782.6 L467.1 783.6 L478.1 784.6 L489.1 785.4 L500.1 786.0 L511.2 786.3 L522.2 786.5 L533.2 786.6 L544.2 786.7 L544.2 787.5 L533.2 787.4 L522.2 787.3 L511.2 787.1 L500.1 786.8 L489.1 786.2 L478.1 785.4 L467.1 784.4 L456.1 783.4 L445.1 782.6 L434.1 782.0 L423.1 781.7 L412.0 781.5 L401.0 781.4 L390.0 781.3 L379.0 781.3Z" fill="#f0aa66" fill-opacity="0.45"/>
<path d="M379.0 781.3 L390.0 781.3 L401.0 781.5 L412.0 781.7 L423.1 782.2 L434.1 782.9 L445.1 784.2 L456.1 786.1 L467.1 788.4 L478.1 790.6 L489.1 792.4 L500.1 793.7 L511.2 794.4 L522.2 794.8 L533.2 795.1 L544.2 795.2 L544.2 796.0 L533.2 795.9 L522.2 795.6 L511.2 795.2 L500.1 794.5 L489.1 793.2 L478.1 791.4 L467.1 789.2 L456.1 786.9 L445.1 785.0 L434.1 783.7 L423.1 783.0 L412.0 782.5 L401.0 782.3 L390.0 782.1 L379.0 782.1Z" fill="#77cc77" fill-opacity="0.45"/>
<path d="M379.0 782.1 L390.0 782.2 L401.0 782.4 L412.0 782.9 L423.1 783.8 L434.1 785.3 L445.1 787.9 L456.1 791.5 L467.1 796.0 L478.1 800.5 L489.1 804.0 L500.1 806.5 L511.2 807.9 L522.2 808.7 L533.2 809.2 L544.2 809.4 L544.2 810.4 L533.2 810.2 L522.2 809.7 L511.2 808.9 L500.1 807.4 L489.1 805.0 L478.1 801.4 L467.1 796.9 L456.1 792.4 L445.1 788.7 L434.1 786.1 L423.1 784.6 L412.0 783.7 L401.0 783.2 L390.0 783.0 L379.0 782.9Z" fill="#b090e0" fill-opacity="0.45"/>
<path d="M379.0 785.5 L390.0 785.2 L401.0 784.6 L412.0 783.5 L423.1 781.3 L434.1 777.6 L445.1 771.5 L456.1 762.5 L467.1 751.7 L478.1 740.9 L489.1 732.3 L500.1 726.4 L511.2 722.9 L522.2 720.9 L533.2 719.8 L544.2 719.2 L544.2 720.7 L533.2 721.3 L522.2 722.3 L511.2 724.3 L500.1 727.8 L489.1 733.6 L478.1 742.2 L467.1 752.8 L456.1 763.6 L445.1 772.4 L434.1 778.5 L423.1 782.2 L412.0 784.3 L401.0 785.4 L390.0 786.0 L379.0 786.3Z" fill="#b0c0e0" fill-opacity="0.45"/>
<path d="M379.0 786.4 L390.0 786.1 L401.0 785.6 L412.0 784.7 L423.1 783.0 L434.1 780.0 L445.1 775.1 L456.1 767.9 L467.1 759.2 L478.1 750.5 L489.1 743.6 L500.1 738.9 L511.2 736.0 L522.2 734.4 L533.2 733.6 L544.2 733.1 L544.2 733.9 L533.2 734.4 L522.2 735.2 L511.2 736.8 L500.1 739.7 L489.1 744.4 L478.1 751.3 L467.1 760.0 L456.1 768.7 L445.1 775.9 L434.1 780.8 L423.1 783.8 L412.0 785.5 L401.0 786.4 L390.0 786.9 L379.0 787.1Z" fill="#e8c8bc" fill-opacity="0.45"/>
<path d="M379.0 787.2 L390.0 787.1 L401.0 787.1 L412.0 786.9 L423.1 786.7 L434.1 786.2 L445.1 785.4 L456.1 784.3 L467.1 783.0 L478.1 781.6 L489.1 780.5 L500.1 779.8 L511.2 779.3 L522.2 779.1 L533.2 779.0 L544.2 778.9 L544.2 779.7 L533.2 779.8 L522.2 779.9 L511.2 780.1 L500.1 780.6 L489.1 781.3 L478.1 782.4 L467.1 783.8 L456.1 785.1 L445.1 786.2 L434.1 787.0 L423.1 787.5 L412.0 787.7 L401.0 787.9 L390.0 787.9 L379.0 788.0Z" fill="#80acd8" fill-opacity="0.45"/>
<path d="M379.0 788.0 L390.0 788.0 L401.0 788.0 L412.0 788.0 L423.1 788.0 L434.1 787.9 L445.1 787.9 L456.1 787.8 L467.1 787.7 L478.1 787.6 L489.1 787.6 L500.1 787.5 L511.2 787.5 L522.2 787.5 L533.2 787.4 L544.2 787.4 L544.2 788.2 L533.2 788.2 L522.2 788.3 L511.2 788.3 L500.1 788.3 L489.1 788.4 L478.1 788.4 L467.1 788.5 L456.1 788.6 L445.1 788.7 L434.1 788.7 L423.1 788.8 L412.0 788.8 L401.0 788.8 L390.0 788.8 L379.0 788.8Z" fill="#f0aa66" fill-opacity="0.45"/>
<path d="M379.0 788.9 L390.0 788.9 L401.0 788.9 L412.0 789.1 L423.1 789.3 L434.1 789.7 L445.1 790.4 L456.1 791.3 L467.1 792.5 L478.1 793.7 L489.1 794.6 L500.1 795.2 L511.2 795.6 L522.2 795.8 L533.2 796.0 L544.2 796.0 L544.2 796.8 L533.2 796.8 L522.2 796.6 L511.2 796.4 L500.1 796.0 L489.1 795.4 L478.1 794.5 L467.1 793.3 L456.1 792.1 L445.1 791.2 L434.1 790.5 L423.1 790.1 L412.0 789.9 L401.0 789.7 L390.0 789.7 L379.0 789.6Z" fill="#77cc77" fill-opacity="0.45"/>
<path d="M379.0 789.7 L390.0 789.8 L401.0 790.0 L412.0 790.3 L423.1 791.0 L434.1 792.2 L445.1 794.1 L456.1 796.9 L467.1 800.3 L478.1 803.7 L489.1 806.4 L500.1 808.3 L511.2 809.4 L522.2 810.0 L533.2 810.3 L544.2 810.5 L544.2 811.5 L533.2 811.3 L522.2 811.0 L511.2 810.3 L500.1 809.2 L489.1 807.3 L478.1 804.6 L467.1 801.2 L456.1 797.8 L445.1 794.9 L434.1 793.0 L423.1 791.8 L412.0 791.1 L401.0 790.8 L390.0 790.6 L379.0 790.5Z" fill="#b090e0" fill-opacity="0.45"/>
<path d="M379.0 793.0 L390.0 792.7 L401.0 792.0 L412.0 790.8 L423.1 788.5 L434.1 784.4 L445.1 777.7 L456.1 768.0 L467.1 756.2 L478.1 744.5 L489.1 735.1 L500.1 728.7 L511.2 724.8 L522.2 722.7 L533.2 721.5 L544.2 720.9 L544.2 722.3 L533.2 723.0 L522.2 724.1 L511.2 726.3 L500.1 730.1 L489.1 736.4 L478.1 745.8 L467.1 757.3 L456.1 769.1 L445.1 778.7 L434.1 785.3 L423.1 789.3 L412.0 791.6 L401.0 792.9 L390.0 793.5 L379.0 793.8Z" fill="#b0c0e0" fill-opacity="0.45"/>
<path d="M379.0 793.7 L390.0 793.4 L401.0 792.9 L412.0 791.9 L423.1 790.0 L434.1 786.6 L445.1 781.1 L456.1 773.0 L467.1 763.2 L478.1 753.6 L489.1 745.8 L500.1 740.5 L511.2 737.3 L522.2 735.5 L533.2 734.5 L544.2 734.0 L544.2 734.8 L533.2 735.3 L522.2 736.3 L511.2 738.1 L500.1 741.3 L489.1 746.6 L478.1 754.4 L467.1 764.0 L456.1 773.8 L445.1 781.9 L434.1 787.4 L423.1 790.8 L412.0 792.7 L401.0 793.7 L390.0 794.2 L379.0 794.5Z" fill="#e8c8bc" fill-opacity="0.45"/>
<path d="M379.0 794.4 L390.0 794.2 L401.0 793.7 L412.0 792.8 L423.1 791.1 L434.1 788.1 L445.1 783.1 L456.1 776.0 L467.1 767.2 L478.1 758.6 L489.1 751.6 L500.1 746.9 L511.2 744.1 L522.2 742.5 L533.2 741.6 L544.2 741.2 L544.2 742.1 L533.2 742.6 L522.2 743.5 L511.2 745.0 L500.1 747.9 L489.1 752.6 L478.1 759.5 L467.1 768.1 L456.1 776.8 L445.1 784.0 L434.1 788.9 L423.1 791.9 L412.0 793.6 L401.0 794.5 L390.0 795.0 L379.0 795.2Z" fill="#a0b4e4" fill-opacity="0.45"/>
<path d="M379.0 795.1 L390.0 795.0 L401.0 794.9 L412.0 794.6 L423.1 794.1 L434.1 793.2 L445.1 791.8 L456.1 789.7 L467.1 787.2 L478.1 784.7 L489.1 782.6 L500.1 781.3 L511.2 780.4 L522.2 780.0 L533.2 779.7 L544.2 779.6 L544.2 780.4 L533.2 780.5 L522.2 780.8 L511.2 781.2 L500.1 782.1 L489.1 783.4 L478.1 785.5 L467.1 788.0 L456.1 790.5 L445.1 792.6 L434.1 794.0 L423.1 794.9 L412.0 795.4 L401.0 795.7 L390.0 795.8 L379.0 795.9Z" fill="#80acd8" fill-opacity="0.45"/>
<path d="M379.0 795.8 L390.0 795.7 L401.0 795.7 L412.0 795.6 L423.1 795.3 L434.1 794.9 L445.1 794.2 L456.1 793.2 L467.1 791.9 L478.1 790.7 L489.1 789.7 L500.1 789.0 L511.2 788.6 L522.2 788.4 L533.2 788.3 L544.2 788.2 L544.2 789.0 L533.2 789.1 L522.2 789.2 L511.2 789.4 L500.1 789.8 L489.1 790.5 L478.1 791.5 L467.1 792.7 L456.1 794.0 L445.1 795.0 L434.1 795.7 L423.1 796.1 L412.0 796.4 L401.0 796.5 L390.0 796.5 L379.0 796.6Z" fill="#f0aa66" fill-opacity="0.45"/>
<path d="M379.0 796.5 L390.0 796.5 L401.0 796.5 L412.0 796.5 L423.1 796.5 L434.1 796.5 L445.1 796.5 L456.1 796.6 L467.1 796.7 L478.1 796.7 L489.1 796.8 L500.1 796.8 L511.2 796.8 L522.2 796.8 L533.2 796.8 L544.2 796.8 L544.2 797.6 L533.2 797.6 L522.2 797.6 L511.2 797.6 L500.1 797.6 L489.1 797.6 L478.1 797.5 L467.1 797.5 L456.1 797.4 L445.1 797.3 L434.1 797.3 L423.1 797.3 L412.0 797.3 L401.0 797.3 L390.0 797.3 L379.0 797.3Z" fill="#77cc77" fill-opacity="0.45"/>
<path d="M379.0 797.2 L390.0 797.2 L401.0 797.4 L412.0 797.6 L423.1 798.1 L434.1 798.9 L445.1 800.2 L456.1 802.2 L467.1 804.5 L478.1 806.9 L489.1 808.7 L500.1 810.0 L511.2 810.8 L522.2 811.2 L533.2 811.5 L544.2 811.6 L544.2 812.6 L533.2 812.4 L522.2 812.2 L511.2 811.8 L500.1 811.0 L489.1 809.7 L478.1 807.8 L467.1 805.4 L456.1 803.0 L445.1 801.1 L434.1 799.7 L423.1 798.9 L412.0 798.4 L401.0 798.2 L390.0 798.0 L379.0 798.0Z" fill="#b090e0" fill-opacity="0.45"/>
<path d="M379.0 800.7 L390.0 800.3 L401.0 799.6 L412.0 798.2 L423.1 795.7 L434.1 791.3 L445.1 784.1 L456.1 773.6 L467.1 760.8 L478.1 748.1 L489.1 737.9 L500.1 731.0 L511.2 726.8 L522.2 724.4 L533.2 723.2 L544.2 722.5 L544.2 724.0 L533.2 724.6 L522.2 725.9 L511.2 728.2 L500.1 732.4 L489.1 739.2 L478.1 749.3 L467.1 761.9 L456.1 774.6 L445.1 785.0 L434.1 792.2 L423.1 796.6 L412.0 799.1 L401.0 800.4 L390.0 801.1 L379.0 801.5Z" fill="#b0c0e0" fill-opacity="0.45"/>
<path d="M379.0 801.5 L390.0 801.4 L401.0 801.2 L412.0 800.8 L423.1 800.1 L434.1 798.9 L445.1 797.0 L456.1 794.1 L467.1 790.7 L478.1 787.2 L489.1 784.4 L500.1 782.6 L511.2 781.4 L522.2 780.8 L533.2 780.4 L544.2 780.3 L544.2 781.1 L533.2 781.2 L522.2 781.6 L511.2 782.2 L500.1 783.4 L489.1 785.2 L478.1 788.0 L467.1 791.5 L456.1 794.9 L445.1 797.8 L434.1 799.7 L423.1 800.9 L412.0 801.6 L401.0 802.0 L390.0 802.2 L379.0 802.3Z" fill="#80acd8" fill-opacity="0.45"/>
<path d="M379.0 802.3 L390.0 802.2 L401.0 802.1 L412.0 801.9 L423.1 801.5 L434.1 800.7 L445.1 799.5 L456.1 797.7 L467.1 795.5 L478.1 793.4 L489.1 791.6 L500.1 790.5 L511.2 789.7 L522.2 789.3 L533.2 789.1 L544.2 789.0 L544.2 789.8 L533.2 789.9 L522.2 790.1 L511.2 790.5 L500.1 791.3 L489.1 792.4 L478.1 794.2 L467.1 796.3 L456.1 798.5 L445.1 800.3 L434.1 801.5 L423.1 802.3 L412.0 802.7 L401.0 802.9 L390.0 803.0 L379.0 803.1Z" fill="#f0aa66" fill-opacity="0.45"/>
<path d="M379.0 803.1 L390.0 803.1 L401.0 803.0 L412.0 803.0 L423.1 802.8 L434.1 802.5 L445.1 802.0 L456.1 801.2 L467.1 800.3 L478.1 799.4 L489.1 798.7 L500.1 798.3 L511.2 798.0 L522.2 797.8 L533.2 797.7 L544.2 797.7 L544.2 798.5 L533.2 798.5 L522.2 798.6 L511.2 798.8 L500.1 799.1 L489.1 799.5 L478.1 800.2 L467.1 801.1 L456.1 802.0 L445.1 802.8 L434.1 803.3 L423.1 803.6 L412.0 803.8 L401.0 803.8 L390.0 803.9 L379.0 803.9Z" fill="#77cc77" fill-opacity="0.45"/>
<path d="M379.0 803.9 L390.0 804.0 L401.0 804.1 L412.0 804.2 L423.1 804.5 L434.1 805.0 L445.1 805.8 L456.1 807.0 L467.1 808.4 L478.1 809.8 L489.1 811.0 L500.1 811.7 L511.2 812.2 L522.2 812.5 L533.2 812.6 L544.2 812.7 L544.2 813.6 L533.2 813.6 L522.2 813.4 L511.2 813.2 L500.1 812.7 L489.1 811.9 L478.1 810.7 L467.1 809.3 L456.1 807.8 L445.1 806.6 L434.1 805.8 L423.1 805.3 L412.0 805.0 L401.0 804.9 L390.0 804.8 L379.0 804.7Z" fill="#b090e0" fill-opacity="0.45"/>
<path d="M379.0 807.5 L390.0 807.1 L401.0 806.4 L412.0 804.9 L423.1 802.3 L434.1 797.6 L445.1 789.8 L456.1 778.6 L467.1 765.0 L478.1 751.4 L489.1 740.6 L500.1 733.2 L511.2 728.7 L522.2 726.2 L533.2 724.9 L544.2 724.1 L544.2 725.6 L533.2 726.3 L522.2 727.7 L511.2 730.1 L500.1 734.6 L489.1 741.9 L478.1 752.7 L467.1 766.1 L456.1 779.7 L445.1 790.8 L434.1 798.4 L423.1 803.1 L412.0 805.7 L401.0 807.2 L390.0 807.9 L379.0 808.3Z" fill="#b0c0e0" fill-opacity="0.45"/>
<path d="M379.0 808.4 L390.0 808.0 L401.0 807.3 L412.0 806.1 L423.1 803.7 L434.1 799.6 L445.1 792.8 L456.1 782.9 L467.1 770.8 L478.1 758.9 L489.1 749.3 L500.1 742.8 L511.2 738.9 L522.2 736.7 L533.2 735.5 L544.2 734.9 L544.2 735.7 L533.2 736.3 L522.2 737.5 L511.2 739.7 L500.1 743.6 L489.1 750.1 L478.1 759.7 L467.1 771.6 L456.1 783.7 L445.1 793.6 L434.1 800.4 L423.1 804.5 L412.0 806.9 L401.0 808.1 L390.0 808.8 L379.0 809.1Z" fill="#e8c8bc" fill-opacity="0.45"/>
<path d="M379.0 809.2 L390.0 808.9 L401.0 808.3 L412.0 807.1 L423.1 805.0 L434.1 801.2 L445.1 795.0 L456.1 786.0 L467.1 775.0 L478.1 764.2 L489.1 755.4 L500.1 749.5 L511.2 745.9 L522.2 743.9 L533.2 742.8 L544.2 742.3 L544.2 743.2 L533.2 743.8 L522.2 744.9 L511.2 746.9 L500.1 750.5 L489.1 756.4 L478.1 765.1 L467.1 775.9 L456.1 786.8 L445.1 795.8 L434.1 802.0 L423.1 805.8 L412.0 807.9 L401.0 809.1 L390.0 809.7 L379.0 810.0Z" fill="#a0b4e4" fill-opacity="0.45"/>
<path d="M379.0 810.0 L390.0 809.9 L401.0 809.6 L412.0 809.1 L423.1 808.2 L434.1 806.5 L445.1 803.9 L456.1 799.9 L467.1 795.2 L478.1 790.5 L489.1 786.7 L500.1 784.1 L511.2 782.5 L522.2 781.7 L533.2 781.2 L544.2 781.0 L544.2 781.8 L533.2 782.0 L522.2 782.5 L511.2 783.3 L500.1 784.9 L489.1 787.5 L478.1 791.3 L467.1 796.0 L456.1 800.7 L445.1 804.7 L434.1 807.3 L423.1 809.0 L412.0 809.9 L401.0 810.4 L390.0 810.7 L379.0 810.8Z" fill="#80acd8" fill-opacity="0.45"/>
<path d="M379.0 810.9 L390.0 810.8 L401.0 810.6 L412.0 810.2 L423.1 809.5 L434.1 808.3 L445.1 806.4 L456.1 803.6 L467.1 800.1 L478.1 796.7 L489.1 793.9 L500.1 792.1 L511.2 791.0 L522.2 790.3 L533.2 790.0 L544.2 789.8 L544.2 790.6 L533.2 790.8 L522.2 791.1 L511.2 791.8 L500.1 792.9 L489.1 794.7 L478.1 797.5 L467.1 800.9 L456.1 804.4 L445.1 807.2 L434.1 809.1 L423.1 810.3 L412.0 811.0 L401.0 811.4 L390.0 811.6 L379.0 811.6Z" fill="#f0aa66" fill-opacity="0.45"/>
<path d="M379.0 811.7 L390.0 811.6 L401.0 811.5 L412.0 811.3 L423.1 810.9 L434.1 810.1 L445.1 808.9 L456.1 807.1 L467.1 804.9 L478.1 802.8 L489.1 801.1 L500.1 799.9 L511.2 799.2 L522.2 798.8 L533.2 798.6 L544.2 798.5 L544.2 799.3 L533.2 799.4 L522.2 799.6 L511.2 800.0 L500.1 800.7 L489.1 801.9 L478.1 803.6 L467.1 805.7 L456.1 807.9 L445.1 809.7 L434.1 810.9 L423.1 811.7 L412.0 812.1 L401.0 812.3 L390.0 812.4 L379.0 812.5Z" fill="#77cc77" fill-opacity="0.45"/>
<rect x="372.2" y="494.10" width="6.6" height="1.20" fill="#ff66ee"/>
<text x="370.9" y="496.50" font-size="5.2" text-anchor="end" fill="#2a2a2a" style="stroke-width:0.06px" textLength="16.79" lengthAdjust="spacingAndGlyphs">SEC24D</text>
<rect x="372.2" y="497.19" width="6.6" height="1.20" fill="#77eedd"/>
<text x="370.9" y="499.59" font-size="5.2" text-anchor="end" fill="#2a2a2a" style="stroke-width:0.06px" textLength="14.39" lengthAdjust="spacingAndGlyphs">PYCR1</text>
<rect x="372.2" y="500.27" width="6.6" height="1.20" fill="#ddccee"/>
<text x="370.9" y="502.67" font-size="5.2" text-anchor="end" fill="#2a2a2a" style="stroke-width:0.06px" textLength="16.79" lengthAdjust="spacingAndGlyphs">GALNT1</text>
<rect x="372.2" y="503.36" width="6.6" height="1.20" fill="#9988ff"/>
<text x="370.9" y="505.76" font-size="5.2" text-anchor="end" fill="#2a2a2a" style="stroke-width:0.06px" textLength="14.15" lengthAdjust="spacingAndGlyphs">CHPF2</text>
<rect x="372.2" y="506.44" width="6.6" height="1.20" fill="#66eebb"/>
<text x="370.9" y="508.84" font-size="5.2" text-anchor="end" fill="#2a2a2a" style="stroke-width:0.06px" textLength="13.91" lengthAdjust="spacingAndGlyphs">ETNK2</text>
<rect x="372.2" y="509.53" width="6.6" height="1.20" fill="#ee7777"/>
<text x="370.9" y="511.93" font-size="5.2" text-anchor="end" fill="#2a2a2a" style="stroke-width:0.06px" textLength="11.51" lengthAdjust="spacingAndGlyphs">GPX3</text>
<rect x="372.2" y="512.61" width="6.6" height="1.20" fill="#bb9977"/>
<text x="370.9" y="515.01" font-size="5.2" text-anchor="end" fill="#2a2a2a" style="stroke-width:0.06px" textLength="11.27" lengthAdjust="spacingAndGlyphs">CPS1</text>
<rect x="372.2" y="515.70" width="6.6" height="1.20" fill="#ee8833"/>
<text x="370.9" y="518.10" font-size="5.2" text-anchor="end" fill="#2a2a2a" style="stroke-width:0.06px" textLength="9.11" lengthAdjust="spacingAndGlyphs">SCD</text>
<rect x="372.2" y="518.79" width="6.6" height="1.20" fill="#99bbee"/>
<text x="370.9" y="521.19" font-size="5.2" text-anchor="end" fill="#2a2a2a" style="stroke-width:0.06px" textLength="16.32" lengthAdjust="spacingAndGlyphs">PLA2G7</text>
<rect x="372.2" y="521.87" width="6.6" height="1.20" fill="#449966"/>
<text x="370.9" y="524.27" font-size="5.2" text-anchor="end" fill="#2a2a2a" style="stroke-width:0.06px" textLength="18.48" lengthAdjust="spacingAndGlyphs">SLC27A1</text>
<rect x="372.2" y="524.96" width="6.6" height="1.20" fill="#886655"/>
<text x="370.9" y="527.36" font-size="5.2" text-anchor="end" fill="#2a2a2a" style="stroke-width:0.06px" textLength="11.27" lengthAdjust="spacingAndGlyphs">GLUL</text>
<rect x="372.2" y="528.04" width="6.6" height="1.20" fill="#eeaacc"/>
<text x="370.9" y="530.44" font-size="5.2" text-anchor="end" fill="#2a2a2a" style="stroke-width:0.06px" textLength="14.15" lengthAdjust="spacingAndGlyphs">ACSS2</text>
<rect x="372.2" y="531.13" width="6.6" height="1.20" fill="#88aadd"/>
<text x="370.9" y="533.53" font-size="5.2" text-anchor="end" fill="#2a2a2a" style="stroke-width:0.06px" textLength="14.87" lengthAdjust="spacingAndGlyphs">PTGDS</text>
<rect x="372.2" y="534.21" width="6.6" height="1.20" fill="#ddeebb"/>
<text x="370.9" y="536.61" font-size="5.2" text-anchor="end" fill="#2a2a2a" style="stroke-width:0.06px" textLength="19.67" lengthAdjust="spacingAndGlyphs">ANGPTL4</text>
<rect x="372.2" y="537.30" width="6.6" height="1.20" fill="#ee6655"/>
<text x="370.9" y="539.70" font-size="5.2" text-anchor="end" fill="#2a2a2a" style="stroke-width:0.06px" textLength="14.39" lengthAdjust="spacingAndGlyphs">ACOT7</text>
<rect x="372.2" y="540.39" width="6.6" height="1.20" fill="#9977dd"/>
<text x="370.9" y="542.79" font-size="5.2" text-anchor="end" fill="#2a2a2a" style="stroke-width:0.06px" textLength="13.91" lengthAdjust="spacingAndGlyphs">PCYT2</text>
<rect x="372.2" y="543.47" width="6.6" height="1.20" fill="#eeffee"/>
<text x="370.9" y="545.87" font-size="5.2" text-anchor="end" fill="#2a2a2a" style="stroke-width:0.06px" textLength="11.99" lengthAdjust="spacingAndGlyphs">CHKA</text>
<rect x="372.2" y="546.56" width="6.6" height="1.20" fill="#f4e0c0"/>
<text x="370.9" y="548.96" font-size="5.2" text-anchor="end" fill="#2a2a2a" style="stroke-width:0.06px" textLength="12.47" lengthAdjust="spacingAndGlyphs">NNMT</text>
<rect x="372.2" y="549.64" width="6.6" height="1.20" fill="#ee8888"/>
<text x="370.9" y="552.04" font-size="5.2" text-anchor="end" fill="#2a2a2a" style="stroke-width:0.06px" textLength="13.67" lengthAdjust="spacingAndGlyphs">ACSL6</text>
<rect x="372.2" y="552.73" width="6.6" height="1.20" fill="#eebb88"/>
<text x="370.9" y="555.13" font-size="5.2" text-anchor="end" fill="#2a2a2a" style="stroke-width:0.06px" textLength="16.39" lengthAdjust="spacingAndGlyphs">AGPAT3</text>
<rect x="372.2" y="555.81" width="6.6" height="1.20" fill="#996644"/>
<text x="370.9" y="558.21" font-size="5.2" text-anchor="end" fill="#2a2a2a" style="stroke-width:0.06px" textLength="11.03" lengthAdjust="spacingAndGlyphs">LDLR</text>
<rect x="372.2" y="558.90" width="6.6" height="1.20" fill="#77ccee"/>
<text x="370.9" y="561.30" font-size="5.2" text-anchor="end" fill="#2a2a2a" style="stroke-width:0.06px" textLength="13.43" lengthAdjust="spacingAndGlyphs">FDFT1</text>
<rect x="372.2" y="562.19" width="6.6" height="1.20" fill="#fdf6f6"/>
<text x="370.9" y="564.59" font-size="5.2" text-anchor="end" fill="#2a2a2a" style="stroke-width:0.06px" textLength="11.51" lengthAdjust="spacingAndGlyphs">SQLE</text>
<rect x="372.2" y="565.48" width="6.6" height="1.20" fill="#99aaee"/>
<text x="370.9" y="567.88" font-size="5.2" text-anchor="end" fill="#2a2a2a" style="stroke-width:0.06px" textLength="12.00" lengthAdjust="spacingAndGlyphs">PLIN4</text>
<rect x="372.2" y="568.77" width="6.6" height="1.20" fill="#eecc99"/>
<text x="370.9" y="571.17" font-size="5.2" text-anchor="end" fill="#2a2a2a" style="stroke-width:0.06px" textLength="11.27" lengthAdjust="spacingAndGlyphs">PDK4</text>
<rect x="372.2" y="572.06" width="6.6" height="1.20" fill="#6666bb"/>
<text x="370.9" y="574.46" font-size="5.2" text-anchor="end" fill="#2a2a2a" style="stroke-width:0.06px" textLength="18.71" lengthAdjust="spacingAndGlyphs">ALDH1L1</text>
<rect x="372.2" y="575.35" width="6.6" height="1.20" fill="#dd3333"/>
<text x="370.9" y="577.75" font-size="5.2" text-anchor="end" fill="#2a2a2a" style="stroke-width:0.06px" textLength="14.39" lengthAdjust="spacingAndGlyphs">ACADL</text>
<rect x="372.2" y="578.65" width="6.6" height="1.20" fill="#88ddee"/>
<text x="370.9" y="581.05" font-size="5.2" text-anchor="end" fill="#2a2a2a" style="stroke-width:0.06px" textLength="18.95" lengthAdjust="spacingAndGlyphs">CYP26B1</text>
<rect x="372.2" y="581.94" width="6.6" height="1.20" fill="#bb8888"/>
<text x="370.9" y="584.34" font-size="5.2" text-anchor="end" fill="#2a2a2a" style="stroke-width:0.06px" textLength="14.39" lengthAdjust="spacingAndGlyphs">NUDT7</text>
<rect x="372.2" y="585.23" width="6.6" height="1.20" fill="#aa44ee"/>
<text x="370.9" y="587.63" font-size="5.2" text-anchor="end" fill="#2a2a2a" style="stroke-width:0.06px" textLength="12.39" lengthAdjust="spacingAndGlyphs">GPAM</text>
<rect x="372.2" y="588.52" width="6.6" height="1.20" fill="#446655"/>
<text x="370.9" y="590.92" font-size="5.2" text-anchor="end" fill="#2a2a2a" style="stroke-width:0.06px" textLength="16.32" lengthAdjust="spacingAndGlyphs">ELOVL6</text>
<rect x="372.2" y="591.81" width="6.6" height="1.20" fill="#88ee88"/>
<text x="370.9" y="594.21" font-size="5.2" text-anchor="end" fill="#2a2a2a" style="stroke-width:0.06px" textLength="14.07" lengthAdjust="spacingAndGlyphs">DGAT2</text>
<rect x="372.2" y="595.10" width="6.6" height="1.20" fill="#aaeeaa"/>
<text x="370.9" y="597.50" font-size="5.2" text-anchor="end" fill="#2a2a2a" style="stroke-width:0.06px" textLength="16.08" lengthAdjust="spacingAndGlyphs">SLC2A1</text>
<rect x="372.2" y="598.39" width="6.6" height="1.20" fill="#ddbbbb"/>
<text x="370.9" y="600.79" font-size="5.2" text-anchor="end" fill="#2a2a2a" style="stroke-width:0.06px" textLength="16.31" lengthAdjust="spacingAndGlyphs">PFKFB3</text>
<rect x="372.2" y="601.68" width="6.6" height="1.20" fill="#f8fbfb"/>
<text x="370.9" y="604.08" font-size="5.2" text-anchor="end" fill="#2a2a2a" style="stroke-width:0.06px" textLength="11.99" lengthAdjust="spacingAndGlyphs">CSAD</text>
<rect x="372.2" y="604.97" width="6.6" height="1.20" fill="#449988"/>
<text x="370.9" y="607.37" font-size="5.2" text-anchor="end" fill="#2a2a2a" style="stroke-width:0.06px" textLength="14.87" lengthAdjust="spacingAndGlyphs">SMPD1</text>
<rect x="372.2" y="608.26" width="6.6" height="1.20" fill="#eeddaa"/>
<text x="370.9" y="610.66" font-size="5.2" text-anchor="end" fill="#2a2a2a" style="stroke-width:0.06px" textLength="14.39" lengthAdjust="spacingAndGlyphs">ABHD3</text>
<rect x="372.2" y="611.55" width="6.6" height="1.20" fill="#88ee99"/>
<text x="370.9" y="613.95" font-size="5.2" text-anchor="end" fill="#2a2a2a" style="stroke-width:0.06px" textLength="16.55" lengthAdjust="spacingAndGlyphs">CYP1B1</text>
<rect x="372.2" y="614.85" width="6.6" height="1.20" fill="#ccbbee"/>
<text x="370.9" y="617.25" font-size="5.2" text-anchor="end" fill="#2a2a2a" style="stroke-width:0.06px" textLength="16.55" lengthAdjust="spacingAndGlyphs">PNPLA2</text>
<rect x="372.2" y="618.14" width="6.6" height="1.20" fill="#eeddbb"/>
<text x="370.9" y="620.54" font-size="5.2" text-anchor="end" fill="#2a2a2a" style="stroke-width:0.06px" textLength="11.04" lengthAdjust="spacingAndGlyphs">GLS2</text>
<rect x="372.2" y="621.43" width="6.6" height="1.20" fill="#ff3399"/>
<text x="370.9" y="623.83" font-size="5.2" text-anchor="end" fill="#2a2a2a" style="stroke-width:0.06px" textLength="18.15" lengthAdjust="spacingAndGlyphs">SLC7A11</text>
<rect x="372.2" y="624.72" width="6.6" height="1.20" fill="#dd66dd"/>
<text x="370.9" y="627.12" font-size="5.2" text-anchor="end" fill="#2a2a2a" style="stroke-width:0.06px" textLength="19.19" lengthAdjust="spacingAndGlyphs">ALDH3A1</text>
<rect x="372.2" y="628.01" width="6.6" height="1.20" fill="#dd55cc"/>
<text x="370.9" y="630.41" font-size="5.2" text-anchor="end" fill="#2a2a2a" style="stroke-width:0.06px" textLength="18.47" lengthAdjust="spacingAndGlyphs">HMGCS2</text>
<rect x="372.2" y="631.30" width="6.6" height="1.20" fill="#eeaa22"/>
<text x="370.9" y="633.70" font-size="5.2" text-anchor="end" fill="#2a2a2a" style="stroke-width:0.06px" textLength="16.55" lengthAdjust="spacingAndGlyphs">CYP2E1</text>
<rect x="372.2" y="635.21" width="6.6" height="1.20" fill="#888888"/>
<text x="370.9" y="637.61" font-size="5.2" text-anchor="end" fill="#2a2a2a" style="stroke-width:0.06px" textLength="14.87" lengthAdjust="spacingAndGlyphs">MGST1</text>
<rect x="372.2" y="639.12" width="6.6" height="1.20" fill="#fafaf0"/>
<text x="370.9" y="641.52" font-size="5.2" text-anchor="end" fill="#2a2a2a" style="stroke-width:0.06px" textLength="13.83" lengthAdjust="spacingAndGlyphs">GSTA4</text>
<rect x="372.2" y="643.03" width="6.6" height="1.20" fill="#bb3366"/>
<text x="370.9" y="645.43" font-size="5.2" text-anchor="end" fill="#2a2a2a" style="stroke-width:0.06px" textLength="14.87" lengthAdjust="spacingAndGlyphs">GSTM1</text>
<rect x="372.2" y="646.94" width="6.6" height="1.20" fill="#6699ee"/>
<text x="370.9" y="649.34" font-size="5.2" text-anchor="end" fill="#2a2a2a" style="stroke-width:0.06px" textLength="14.63" lengthAdjust="spacingAndGlyphs">PCMT1</text>
<rect x="372.2" y="650.85" width="6.6" height="1.20" fill="#44cccc"/>
<text x="370.9" y="653.25" font-size="5.2" text-anchor="end" fill="#2a2a2a" style="stroke-width:0.06px" textLength="16.55" lengthAdjust="spacingAndGlyphs">CYP2B1</text>
<rect x="372.2" y="654.76" width="6.6" height="1.20" fill="#44ee44"/>
<text x="370.9" y="657.16" font-size="5.2" text-anchor="end" fill="#2a2a2a" style="stroke-width:0.06px" textLength="16.23" lengthAdjust="spacingAndGlyphs">ATP5G3</text>
<rect x="372.2" y="658.67" width="6.6" height="1.20" fill="#885544"/>
<text x="370.9" y="661.07" font-size="5.2" text-anchor="end" fill="#2a2a2a" style="stroke-width:0.06px" textLength="11.99" lengthAdjust="spacingAndGlyphs">KYNU</text>
<rect x="372.2" y="662.58" width="6.6" height="1.20" fill="#55cccc"/>
<text x="370.9" y="664.98" font-size="5.2" text-anchor="end" fill="#2a2a2a" style="stroke-width:0.06px" textLength="14.07" lengthAdjust="spacingAndGlyphs">LYRM4</text>
<rect x="372.2" y="666.49" width="6.6" height="1.20" fill="#66eeaa"/>
<text x="370.9" y="668.89" font-size="5.2" text-anchor="end" fill="#2a2a2a" style="stroke-width:0.06px" textLength="15.11" lengthAdjust="spacingAndGlyphs">UQCC3</text>
<rect x="372.2" y="670.40" width="6.6" height="1.20" fill="#e8f4f4"/>
<text x="370.9" y="672.80" font-size="5.2" text-anchor="end" fill="#2a2a2a" style="stroke-width:0.06px" textLength="14.15" lengthAdjust="spacingAndGlyphs">ACAA1</text>
<rect x="372.2" y="673.60" width="6.6" height="2.60" fill="#aaddee"/>
<text x="370.9" y="676.70" font-size="5.2" text-anchor="end" fill="#2a2a2a" style="stroke-width:0.06px" textLength="17.27" lengthAdjust="spacingAndGlyphs">NDUFV2</text>
<rect x="372.2" y="677.51" width="6.6" height="2.60" fill="#66ffff"/>
<text x="370.9" y="680.61" font-size="5.2" text-anchor="end" fill="#2a2a2a" style="stroke-width:0.06px" textLength="14.63" lengthAdjust="spacingAndGlyphs">PYURF</text>
<rect x="372.2" y="682.12" width="6.6" height="1.20" fill="#2222ee"/>
<text x="370.9" y="684.52" font-size="5.2" text-anchor="end" fill="#2a2a2a" style="stroke-width:0.06px" textLength="17.27" lengthAdjust="spacingAndGlyphs">SUCLG2</text>
<rect x="372.2" y="686.03" width="6.6" height="1.20" fill="#aaaa55"/>
<text x="370.9" y="688.43" font-size="5.2" text-anchor="end" fill="#2a2a2a" style="stroke-width:0.06px" textLength="16.23" lengthAdjust="spacingAndGlyphs">B4GAT1</text>
<rect x="372.2" y="689.94" width="6.6" height="1.20" fill="#cccccc"/>
<text x="370.9" y="692.34" font-size="5.2" text-anchor="end" fill="#2a2a2a" style="stroke-width:0.06px" textLength="10.95" lengthAdjust="spacingAndGlyphs">GLTP</text>
<rect x="372.2" y="693.85" width="6.6" height="1.20" fill="#ddffff"/>
<text x="370.9" y="696.25" font-size="5.2" text-anchor="end" fill="#2a2a2a" style="stroke-width:0.06px" textLength="14.87" lengthAdjust="spacingAndGlyphs">ACADS</text>
<rect x="372.2" y="697.76" width="6.6" height="1.20" fill="#44aa44"/>
<text x="370.9" y="700.16" font-size="5.2" text-anchor="end" fill="#2a2a2a" style="stroke-width:0.06px" textLength="14.87" lengthAdjust="spacingAndGlyphs">GSTM2</text>
<rect x="372.2" y="701.67" width="6.6" height="1.20" fill="#f0ffe0"/>
<text x="370.9" y="704.07" font-size="5.2" text-anchor="end" fill="#2a2a2a" style="stroke-width:0.06px" textLength="14.39" lengthAdjust="spacingAndGlyphs">ABHD4</text>
<rect x="372.2" y="705.58" width="6.6" height="1.20" fill="#ee9944"/>
<text x="370.9" y="707.98" font-size="5.2" text-anchor="end" fill="#2a2a2a" style="stroke-width:0.06px" textLength="14.63" lengthAdjust="spacingAndGlyphs">COX5A</text>
<rect x="372.2" y="709.49" width="6.6" height="1.20" fill="#dd6622"/>
<text x="370.9" y="711.89" font-size="5.2" text-anchor="end" fill="#2a2a2a" style="stroke-width:0.06px" textLength="18.39" lengthAdjust="spacingAndGlyphs">SULT1A1</text>
<rect x="372.2" y="713.40" width="6.6" height="1.20" fill="#4499ee"/>
<text x="370.9" y="715.80" font-size="5.2" text-anchor="end" fill="#2a2a2a" style="stroke-width:0.06px" textLength="9.35" lengthAdjust="spacingAndGlyphs">BGN</text>
<rect x="372.2" y="717.47" width="6.6" height="1.20" fill="#eeee33"/>
<text x="370.9" y="719.87" font-size="5.2" text-anchor="end" fill="#2a2a2a" style="stroke-width:0.06px" textLength="14.15" lengthAdjust="spacingAndGlyphs">CHST1</text>
<rect x="372.2" y="721.53" width="6.6" height="1.20" fill="#dd3344"/>
<text x="370.9" y="723.93" font-size="5.2" text-anchor="end" fill="#2a2a2a" style="stroke-width:0.06px" textLength="18.48" lengthAdjust="spacingAndGlyphs">SLC26A2</text>
<rect x="372.2" y="725.60" width="6.6" height="1.20" fill="#ccdd44"/>
<text x="370.9" y="728.00" font-size="5.2" text-anchor="end" fill="#2a2a2a" style="stroke-width:0.06px" textLength="11.75" lengthAdjust="spacingAndGlyphs">PRG4</text>
<rect x="372.2" y="729.67" width="6.6" height="1.20" fill="#eedd66"/>
<text x="370.9" y="732.07" font-size="5.2" text-anchor="end" fill="#2a2a2a" style="stroke-width:0.06px" textLength="11.99" lengthAdjust="spacingAndGlyphs">MPC1</text>
<rect x="372.2" y="733.73" width="6.6" height="1.20" fill="#aaccee"/>
<text x="370.9" y="736.13" font-size="5.2" text-anchor="end" fill="#2a2a2a" style="stroke-width:0.06px" textLength="14.63" lengthAdjust="spacingAndGlyphs">BRCC3</text>
<rect x="372.2" y="737.80" width="6.6" height="1.20" fill="#aa88dd"/>
<text x="370.9" y="740.20" font-size="5.2" text-anchor="end" fill="#2a2a2a" style="stroke-width:0.06px" textLength="14.39" lengthAdjust="spacingAndGlyphs">NT5DC</text>
<rect x="372.2" y="741.87" width="6.6" height="1.20" fill="#bbbb33"/>
<text x="370.9" y="744.27" font-size="5.2" text-anchor="end" fill="#2a2a2a" style="stroke-width:0.06px" textLength="10.07" lengthAdjust="spacingAndGlyphs">OMD</text>
<rect x="372.2" y="745.93" width="6.6" height="1.20" fill="#dddddd"/>
<text x="370.9" y="748.33" font-size="5.2" text-anchor="end" fill="#2a2a2a" style="stroke-width:0.06px" textLength="9.83" lengthAdjust="spacingAndGlyphs">OGN</text>
<rect x="372.2" y="750.00" width="6.6" height="1.20" fill="#bbeeee"/>
<text x="370.9" y="752.40" font-size="5.2" text-anchor="end" fill="#2a2a2a" style="stroke-width:0.06px" textLength="18.63" lengthAdjust="spacingAndGlyphs">B4GALT1</text>
<rect x="372.2" y="754.85" width="6.6" height="4.90" fill="#aadd44"/>
<text x="370.9" y="759.10" font-size="5.0" text-anchor="end" fill="#2a2a2a" style="stroke-width:0.15px" textLength="16.75" lengthAdjust="spacingAndGlyphs">MT-ND1</text>
<rect x="372.2" y="762.60" width="6.6" height="5.00" fill="#4488cc"/>
<text x="370.9" y="766.90" font-size="5.0" text-anchor="end" fill="#2a2a2a" style="stroke-width:0.15px" textLength="16.75" lengthAdjust="spacingAndGlyphs">MT-ND2</text>
<rect x="372.2" y="771.05" width="6.6" height="3.90" fill="#f4eedd"/>
<text x="370.9" y="774.80" font-size="5.0" text-anchor="end" fill="#2a2a2a" style="stroke-width:0.15px" textLength="17.00" lengthAdjust="spacingAndGlyphs">MT-CO3</text>
<rect x="372.2" y="778.15" width="6.6" height="4.70" fill="#7766ff"/>
<text x="370.9" y="782.30" font-size="5.0" text-anchor="end" fill="#2a2a2a" style="stroke-width:0.15px" textLength="17.00" lengthAdjust="spacingAndGlyphs">MT-CO2</text>
<rect x="372.2" y="785.50" width="6.6" height="5.00" fill="#888888"/>
<text x="370.9" y="789.80" font-size="5.0" text-anchor="end" fill="#2a2a2a" style="stroke-width:0.15px" textLength="17.00" lengthAdjust="spacingAndGlyphs">MT-CO1</text>
<rect x="372.2" y="793.10" width="6.6" height="4.80" fill="#44bb44"/>
<text x="370.9" y="797.30" font-size="5.0" text-anchor="end" fill="#2a2a2a" style="stroke-width:0.15px" textLength="16.75" lengthAdjust="spacingAndGlyphs">MT-ND4</text>
<rect x="372.2" y="800.65" width="6.6" height="4.10" fill="#cc55ee"/>
<text x="370.9" y="804.50" font-size="5.0" text-anchor="end" fill="#2a2a2a" style="stroke-width:0.15px" textLength="18.67" lengthAdjust="spacingAndGlyphs">MT-ATP6</text>
<rect x="372.2" y="807.50" width="6.6" height="5.00" fill="#227722"/>
<text x="370.9" y="811.80" font-size="5.0" text-anchor="end" fill="#2a2a2a" style="stroke-width:0.15px" textLength="16.75" lengthAdjust="spacingAndGlyphs">MT-ND6</text>
<rect x="544.2" y="629.8" width="6.1" height="55.20" fill="#f0c1b9"/>
<text x="491.9" y="660.2" font-size="8.6" fill="#222" textLength="48.9" lengthAdjust="spacingAndGlyphs">Metabolism</text>
<rect x="544.2" y="688.2" width="6.1" height="9.90" fill="#bde0ea"/>
<text x="444.9" y="695.5" font-size="9.2" fill="#222" textLength="95.9" lengthAdjust="spacingAndGlyphs">Diseases of metabolism</text>
<rect x="544.2" y="701.3" width="6.1" height="8.70" fill="#b8e8d0"/>
<text x="468.5" y="707.9" font-size="8.6" fill="#222" textLength="72.3" lengthAdjust="spacingAndGlyphs">Biological oxidation</text>
<rect x="544.2" y="712.6" width="6.1" height="13.10" fill="#c8d4e8"/>
<text x="448.8" y="715.2" font-size="8.6" fill="#222" textLength="92.0" lengthAdjust="spacingAndGlyphs">Aerobic resp and resp e-</text>
<rect x="544.2" y="727.0" width="6.1" height="8.70" fill="#f0d8d0"/>
<text x="431.8" y="733.6" font-size="8.6" fill="#222" textLength="109.0" lengthAdjust="spacingAndGlyphs">Respiratory electron transport</text>
<rect x="544.2" y="738.9" width="6.1" height="4.40" fill="#aabbe8"/>
<text x="462.0" y="743.3" font-size="8.6" fill="#222" textLength="78.8" lengthAdjust="spacingAndGlyphs">Complex I biogenesis</text>
<rect x="544.2" y="746.2" width="6.1" height="7.60" fill="#d0f0dc"/>
<text x="418.6" y="751.5" font-size="8.6" fill="#222" textLength="122.2" lengthAdjust="spacingAndGlyphs">Mitochondrial protein degradation</text>
<rect x="544.2" y="755.4" width="6.1" height="4.50" fill="#e8f8c8"/>
<text x="469.9" y="759.4" font-size="8.6" fill="#222" textLength="70.9" lengthAdjust="spacingAndGlyphs">Paracetamol ADME</text>
<rect x="544.2" y="762.0" width="6.1" height="5.80" fill="#e0b890"/>
<text x="385.3" y="765.9" font-size="8.6" fill="#222" textLength="155.5" lengthAdjust="spacingAndGlyphs">Diseases assoc w/ glycosaminoglycan met</text>
<rect x="544.2" y="769.6" width="6.1" height="4.70" fill="#ecdcc4"/>
<text x="424.1" y="773.0" font-size="8.6" fill="#222" textLength="116.7" lengthAdjust="spacingAndGlyphs">Sema4D in Semaphorin signaling</text>
<rect x="544.2" y="776.2" width="6.1" height="5.50" fill="#4a88c0"/>
<text x="414.7" y="780.9" font-size="8.6" fill="#222" textLength="126.1" lengthAdjust="spacingAndGlyphs">rRNA Processing in mitochondrion</text>
<rect x="544.2" y="784.3" width="6.1" height="6.30" fill="#ee8833"/>
<text x="414.7" y="788.8" font-size="8.6" fill="#222" textLength="126.1" lengthAdjust="spacingAndGlyphs">tRNA Processing in mitochondrion</text>
<rect x="544.2" y="792.7" width="6.1" height="6.60" fill="#44bb44"/>
<text x="421.3" y="798.0" font-size="8.6" fill="#222" textLength="119.5" lengthAdjust="spacingAndGlyphs">Mitochondrial RNA degeneration</text>
<rect x="544.2" y="801.9" width="6.1" height="2.90" fill="#dd3344"/>
<text x="469.3" y="805.1" font-size="8.6" fill="#222" textLength="71.5" lengthAdjust="spacingAndGlyphs">Defective B4GALT1</text>
<rect x="544.2" y="807.2" width="6.1" height="6.50" fill="#9966dd"/>
<text x="423.4" y="813.7" font-size="8.6" fill="#222" textLength="117.4" lengthAdjust="spacingAndGlyphs">FASTK Proteins Reg Mito RNAs</text>
<text x="508.00" y="723.60" font-size="8.6" text-anchor="start" fill="#222" font-weight="normal" textLength="33.0" lengthAdjust="spacingAndGlyphs" >transport</text>
<rect x="551.5" y="629.7" width="82.70000000000005" height="183.69999999999993" fill="#fff" stroke="#555" stroke-width="0.9"/>
<clipPath id="gclip"><rect x="551.9" y="630.1" width="81.9" height="282.9"/></clipPath>
<g clip-path="url(#gclip)"><circle cx="553.6" cy="657.6" r="12.5" fill="#5200e6"/><circle cx="558.8" cy="693.2" r="4.4" fill="#2a00f8"/><circle cx="559.1" cy="705.6" r="4.3" fill="#2a00f8"/><circle cx="559.8" cy="718.7" r="4.6" fill="#2a00f8"/><circle cx="563.1" cy="732.1" r="4.0" fill="#3300f0"/><circle cx="565.3" cy="741.3" r="3.0" fill="#2a00f8"/><circle cx="568.7" cy="750.6" r="3.8" fill="#5a1ad0"/><circle cx="574.2" cy="758.8" r="2.2" fill="#2a00f8"/><circle cx="577.2" cy="765.3" r="3.0" fill="#2a00f8"/><circle cx="580.9" cy="771.7" r="2.2" fill="#2a00f8"/><circle cx="584.3" cy="778.8" r="3.2" fill="#7a22b0"/><circle cx="585.8" cy="787.4" r="3.4" fill="#7a22b0"/><circle cx="611.0" cy="796.6" r="3.5" fill="#d02040"/><circle cx="621.7" cy="803.6" r="1.7" fill="#2a00f8"/><circle cx="630.5" cy="810.4" r="3.7" fill="#ee2020"/></g>
<line x1="574.2" y1="813.4" x2="574.2" y2="815.4" stroke="#555" stroke-width="0.8"/>
<text x="574.2" y="824.8" font-size="7.0" text-anchor="middle" fill="#333">5</text>
<line x1="600.2" y1="813.4" x2="600.2" y2="815.4" stroke="#555" stroke-width="0.8"/>
<text x="600.2" y="824.8" font-size="7.0" text-anchor="middle" fill="#333">10</text>
<line x1="626.3" y1="813.4" x2="626.3" y2="815.4" stroke="#555" stroke-width="0.8"/>
<text x="626.3" y="824.8" font-size="7.0" text-anchor="middle" fill="#333">15</text>
<text x="592.60" y="838.40" font-size="10.2" text-anchor="middle" fill="#222" font-weight="normal" textLength="80.9" lengthAdjust="spacingAndGlyphs" >Enrichment Score</text>
<text x="638.5" y="640.0" font-size="6.4" fill="#222" textLength="45.5" lengthAdjust="spacingAndGlyphs">-log<tspan font-size="4.2" dy="1.6">10</tspan><tspan dy="-1.6">(Pvalue)</tspan></text>
<defs><linearGradient id="pvG" x1="0" y1="1" x2="0" y2="0"><stop offset="0" stop-color="#3000ff"/><stop offset="0.5" stop-color="#8a11a0"/><stop offset="1" stop-color="#ff2211"/></linearGradient></defs>
<rect x="639.6" y="645.3" width="3.199999999999932" height="73.70000000000005" fill="url(#pvG)"/>
<line x1="642.8" y1="653.2" x2="644.0" y2="653.2" stroke="#333" stroke-width="0.5"/>
<text x="647.0" y="655.5" font-size="6.4" fill="#222">8</text>
<line x1="642.8" y1="677.4" x2="644.0" y2="677.4" stroke="#333" stroke-width="0.5"/>
<text x="647.0" y="679.6999999999999" font-size="6.4" fill="#222">6</text>
<line x1="642.8" y1="701.4" x2="644.0" y2="701.4" stroke="#333" stroke-width="0.5"/>
<text x="647.0" y="703.6999999999999" font-size="6.4" fill="#222">4</text>
<text x="652.60" y="738.80" font-size="10.8" text-anchor="start" fill="#222" font-weight="normal" textLength="24.8" lengthAdjust="spacingAndGlyphs" >Count</text>
<circle cx="648.0" cy="751.2" r="1.5" fill="#000"/>
<text x="659.8" y="753.7" font-size="7.0" fill="#222">3</text>
<circle cx="648.0" cy="765.0" r="5.8" fill="#000"/>
<text x="659.8" y="767.5" font-size="7.0" fill="#222">20</text>
<circle cx="648.0" cy="778.6" r="7.8" fill="#000"/>
<text x="659.8" y="781.1" font-size="7.0" fill="#222">38</text>
<circle cx="648.0" cy="792.8" r="9.2" fill="#000"/>
<text x="659.8" y="795.3" font-size="7.0" fill="#222">55</text>
</svg></body></html>
